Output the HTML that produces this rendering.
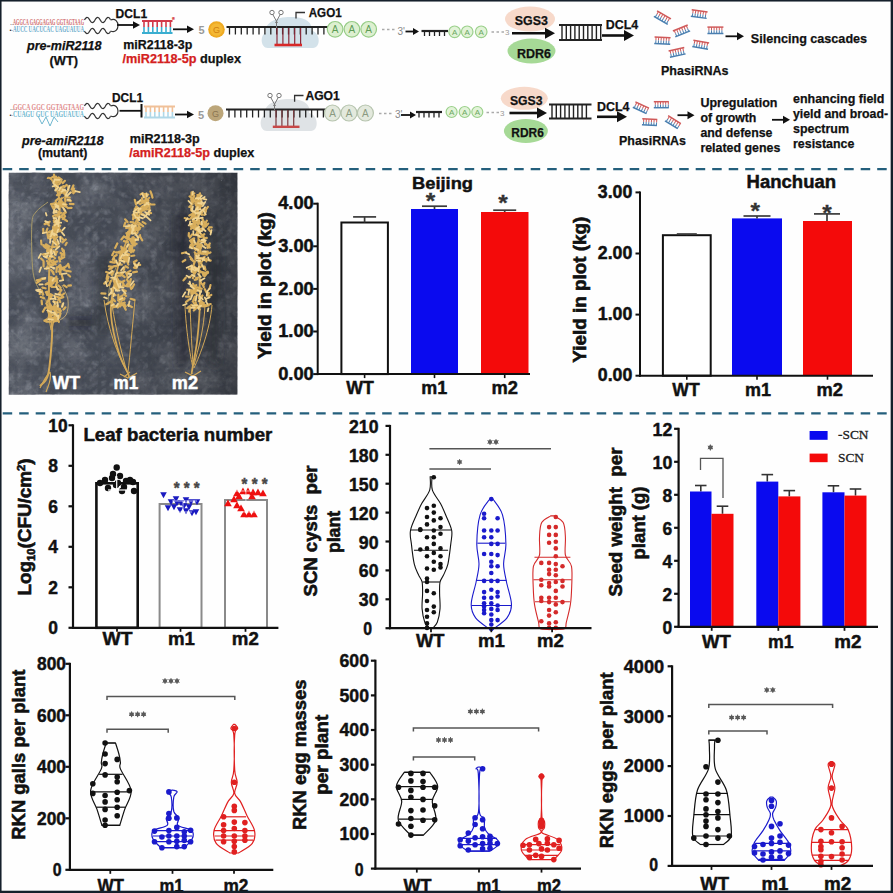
<!DOCTYPE html><html><head><meta charset="utf-8"><style>html,body{margin:0;padding:0;background:#fff;}svg{display:block;} text{font-family:"Liberation Sans", sans-serif;}</style></head><body>
<svg width="893" height="893" viewBox="0 0 893 893">
<rect x="0.0" y="0.0" width="893.0" height="893.0" fill="#fefefe" stroke="none" stroke-width="0"/>
<text x="10.0" y="24.5" font-size="7" font-weight="normal" font-style="normal" fill="#333" text-anchor="start">..</text>
<text x="13.0" y="24.5" font-size="8" font-weight="bold" font-style="normal" fill="#cf6a6a" text-anchor="start" style="font-family:'Liberation Serif'" textLength="71.0" lengthAdjust="spacingAndGlyphs">AGGCA GAGGAGAG GGTAGTAAG</text>
<text x="9.5" y="31.5" font-size="6" font-weight="normal" font-style="normal" fill="#333" text-anchor="start">•·</text>
<text x="13.0" y="31.5" font-size="8" font-weight="bold" font-style="normal" fill="#6aaccc" text-anchor="start" style="font-family:'Liberation Serif'" textLength="71.0" lengthAdjust="spacingAndGlyphs">AUCC UACUCAC UAGUAUUA</text>
<path d="M84.5,20.0 L85.0,19.2 L85.5,18.5 L86.0,18.0 L86.5,17.6 L87.0,17.4 L87.5,17.5 L88.0,17.7 L88.5,18.2 L89.0,18.9 L89.5,19.6 L90.0,20.4 L90.5,21.1 L91.0,21.8 L91.5,22.3 L92.0,22.5 L92.5,22.6 L93.0,22.4 L93.5,22.0 L94.0,21.5 L94.5,20.8 L95.0,20.0 L95.5,19.2 L96.0,18.5 L96.5,18.0 L97.0,17.6 L97.5,17.4 L98.0,17.5 L98.5,17.7 L99.0,18.2 L99.5,18.9 L100.0,19.6 L100.5,20.4 L101.0,21.1 L101.5,21.8 L102.0,22.3 L102.5,22.5 L103.0,22.6 L103.5,22.4 L104.0,22.0 L104.5,21.5 L105.0,20.8 L105.5,20.0 L106.0,19.2 L106.5,18.5 L107.0,18.0 L107.5,17.6 L108.0,17.4 L108.5,17.5 L109.0,17.7 L109.5,18.2 L110.0,18.9 L110.5,19.6" fill="none" stroke="#333" stroke-width="1.2"/>
<path d="M84.5,31.0 L85.0,31.8 L85.5,32.5 L86.0,33.0 L86.5,33.4 L87.0,33.6 L87.5,33.5 L88.0,33.3 L88.5,32.8 L89.0,32.1 L89.5,31.4 L90.0,30.6 L90.5,29.9 L91.0,29.2 L91.5,28.7 L92.0,28.5 L92.5,28.4 L93.0,28.6 L93.5,29.0 L94.0,29.5 L94.5,30.2 L95.0,31.0 L95.5,31.8 L96.0,32.5 L96.5,33.0 L97.0,33.4 L97.5,33.6 L98.0,33.5 L98.5,33.3 L99.0,32.8 L99.5,32.1 L100.0,31.4 L100.5,30.6 L101.0,29.9 L101.5,29.2 L102.0,28.7 L102.5,28.5 L103.0,28.4 L103.5,28.6 L104.0,29.0 L104.5,29.5 L105.0,30.2 L105.5,31.0 L106.0,31.8 L106.5,32.5 L107.0,33.0 L107.5,33.4 L108.0,33.6 L108.5,33.5 L109.0,33.3 L109.5,32.8 L110.0,32.1 L110.5,31.4" fill="none" stroke="#333" stroke-width="1.2"/>
<path d="M110.5,20.0 C120.5,16.0 120.5,35.0 110.5,31.0" fill="none" stroke="#333" stroke-width="1.2"/>
<text x="115.6" y="17.6" font-size="12" font-weight="bold" font-style="normal" fill="#111" text-anchor="start" textLength="31.5" lengthAdjust="spacingAndGlyphs" stroke="#111" stroke-width="0.25">DCL1</text>
<line x1="117.0" y1="25.0" x2="134.0" y2="25.0" stroke="#111" stroke-width="1.8"/>
<path d="M140.0,25.0 L133.0,21.2 L133.0,28.8Z" fill="#111"/>
<line x1="142.0" y1="21.0" x2="172.5" y2="21.0" stroke="#d23a4a" stroke-width="2.0"/>
<line x1="142.0" y1="33.0" x2="172.5" y2="33.0" stroke="#3aaed0" stroke-width="2.0"/>
<line x1="144.0" y1="21.0" x2="144.0" y2="27.0" stroke="#d23a4a" stroke-width="1.6"/>
<line x1="144.0" y1="27.0" x2="144.0" y2="33.0" stroke="#3aaed0" stroke-width="1.6"/>
<line x1="148.4" y1="21.0" x2="148.4" y2="27.0" stroke="#d23a4a" stroke-width="1.6"/>
<line x1="148.4" y1="27.0" x2="148.4" y2="33.0" stroke="#3aaed0" stroke-width="1.6"/>
<line x1="152.8" y1="21.0" x2="152.8" y2="27.0" stroke="#d23a4a" stroke-width="1.6"/>
<line x1="152.8" y1="27.0" x2="152.8" y2="33.0" stroke="#3aaed0" stroke-width="1.6"/>
<line x1="157.2" y1="21.0" x2="157.2" y2="27.0" stroke="#d23a4a" stroke-width="1.6"/>
<line x1="157.2" y1="27.0" x2="157.2" y2="33.0" stroke="#3aaed0" stroke-width="1.6"/>
<line x1="161.6" y1="21.0" x2="161.6" y2="27.0" stroke="#d23a4a" stroke-width="1.6"/>
<line x1="161.6" y1="27.0" x2="161.6" y2="33.0" stroke="#3aaed0" stroke-width="1.6"/>
<line x1="166.0" y1="21.0" x2="166.0" y2="27.0" stroke="#d23a4a" stroke-width="1.6"/>
<line x1="166.0" y1="27.0" x2="166.0" y2="33.0" stroke="#3aaed0" stroke-width="1.6"/>
<line x1="170.4" y1="21.0" x2="170.4" y2="27.0" stroke="#d23a4a" stroke-width="1.6"/>
<line x1="170.4" y1="27.0" x2="170.4" y2="33.0" stroke="#3aaed0" stroke-width="1.6"/>
<text x="172.0" y="22.0" font-size="7" font-weight="bold" font-style="normal" fill="#d84848" text-anchor="start" stroke="#d84848" stroke-width="0.25">*</text>
<line x1="173.0" y1="29.3" x2="188.0" y2="29.3" stroke="#111" stroke-width="1.8"/>
<path d="M194.0,29.3 L187.0,25.5 L187.0,33.1Z" fill="#111"/>
<text x="198.5" y="34.0" font-size="11" font-weight="bold" font-style="normal" fill="#9a9a9a" text-anchor="start">5</text>
<text x="27.0" y="49.8" font-size="12.5" font-weight="bold" font-style="italic" fill="#111" text-anchor="start" textLength="74.5" lengthAdjust="spacingAndGlyphs" stroke="#111" stroke-width="0.25">pre-miR2118</text>
<text x="49.5" y="64.5" font-size="13" font-weight="bold" font-style="normal" fill="#111" text-anchor="start" textLength="28.5" lengthAdjust="spacingAndGlyphs" stroke="#111" stroke-width="0.25">(WT)</text>
<text x="123.3" y="48.5" font-size="12.5" font-weight="bold" font-style="normal" fill="#111" text-anchor="start" textLength="69.0" lengthAdjust="spacingAndGlyphs" stroke="#111" stroke-width="0.25">miR2118-3p</text>
<text x="122.5" y="63.2" font-size="12.5" font-weight="bold" font-style="normal" fill="#111" text-anchor="start" textLength="118.5" lengthAdjust="spacingAndGlyphs" stroke="#111" stroke-width="0.25"><tspan fill="#d42020" stroke="#d42020">/miR2118-5p</tspan> duplex</text>
<circle cx="216.5" cy="29.5" r="8.30" fill="#eeaa22" stroke="none" stroke-width="0"/>
<circle cx="216.5" cy="29.5" r="6.30" fill="#f4b834" stroke="none" stroke-width="0"/>
<text x="216.5" y="32.8" font-size="9" font-weight="normal" font-style="normal" fill="#d08010" text-anchor="middle">G</text>
<path d="M268.0,48.0 C260.0,48.0 260.0,34.5 266.0,32.5 C264.0,23.0 276.0,17.0 290.5,17.0 C309.0,17.0 313.0,25.0 311.0,30.5 C321.0,32.5 321.0,48.0 313.0,48.0 Z" fill="#d3e2ea" stroke="none" stroke-width="0"/>
<line x1="226.5" y1="27.0" x2="330.0" y2="27.0" stroke="#222" stroke-width="2.2"/>
<line x1="229.5" y1="27.0" x2="229.5" y2="34.5" stroke="#222" stroke-width="1.3"/>
<line x1="235.4" y1="27.0" x2="235.4" y2="34.5" stroke="#222" stroke-width="1.3"/>
<line x1="241.3" y1="27.0" x2="241.3" y2="34.5" stroke="#222" stroke-width="1.3"/>
<line x1="247.2" y1="27.0" x2="247.2" y2="34.5" stroke="#222" stroke-width="1.3"/>
<line x1="253.1" y1="27.0" x2="253.1" y2="34.5" stroke="#222" stroke-width="1.3"/>
<line x1="259.0" y1="27.0" x2="259.0" y2="34.5" stroke="#222" stroke-width="1.3"/>
<line x1="264.9" y1="27.0" x2="264.9" y2="34.5" stroke="#222" stroke-width="1.3"/>
<line x1="270.8" y1="27.0" x2="270.8" y2="34.5" stroke="#222" stroke-width="1.3"/>
<line x1="276.7" y1="27.0" x2="276.7" y2="34.5" stroke="#222" stroke-width="1.3"/>
<line x1="282.6" y1="27.0" x2="282.6" y2="34.5" stroke="#222" stroke-width="1.3"/>
<line x1="288.5" y1="27.0" x2="288.5" y2="34.5" stroke="#222" stroke-width="1.3"/>
<line x1="294.4" y1="27.0" x2="294.4" y2="34.5" stroke="#222" stroke-width="1.3"/>
<line x1="300.3" y1="27.0" x2="300.3" y2="34.5" stroke="#222" stroke-width="1.3"/>
<line x1="306.2" y1="27.0" x2="306.2" y2="34.5" stroke="#222" stroke-width="1.3"/>
<line x1="312.1" y1="27.0" x2="312.1" y2="34.5" stroke="#222" stroke-width="1.3"/>
<line x1="318.0" y1="27.0" x2="318.0" y2="34.5" stroke="#222" stroke-width="1.3"/>
<line x1="323.9" y1="27.0" x2="323.9" y2="34.5" stroke="#222" stroke-width="1.3"/>
<line x1="329.8" y1="27.0" x2="329.8" y2="34.5" stroke="#222" stroke-width="1.3"/>
<line x1="277.0" y1="28.0" x2="277.0" y2="44.0" stroke="#8a2a3a" stroke-width="1.2"/>
<line x1="282.9" y1="28.0" x2="282.9" y2="44.0" stroke="#8a2a3a" stroke-width="1.2"/>
<line x1="288.8" y1="28.0" x2="288.8" y2="44.0" stroke="#8a2a3a" stroke-width="1.2"/>
<line x1="294.7" y1="28.0" x2="294.7" y2="44.0" stroke="#8a2a3a" stroke-width="1.2"/>
<line x1="300.6" y1="28.0" x2="300.6" y2="44.0" stroke="#8a2a3a" stroke-width="1.2"/>
<line x1="274.5" y1="45.0" x2="302.0" y2="45.0" stroke="#d82828" stroke-width="2.6"/>
<path d="M272.5,14.0 L277.5,23.0 M280.5,14.0 L275.5,23.0 M276.5,21.0 L276.5,28.0" fill="none" stroke="#777" stroke-width="1"/>
<circle cx="272.0" cy="12.5" r="2.20" fill="none" stroke="#777" stroke-width="1"/>
<circle cx="281.0" cy="12.5" r="2.20" fill="none" stroke="#777" stroke-width="1"/>
<path d="M296,18.5 L296,12.5 L305,12.5" fill="none" stroke="#333" stroke-width="1.3"/>
<text x="308.7" y="17.2" font-size="12" font-weight="bold" font-style="normal" fill="#111" text-anchor="start" textLength="33.0" lengthAdjust="spacingAndGlyphs" stroke="#111" stroke-width="0.25">AGO1</text>
<circle cx="335.1" cy="29.3" r="7.80" fill="#ddf0d0" stroke="#96cc86" stroke-width="1.2"/>
<text x="335.1" y="32.9" font-size="10" font-weight="normal" font-style="normal" fill="#5e9c56" text-anchor="middle">A</text>
<circle cx="351.9" cy="29.3" r="7.80" fill="#ddf0d0" stroke="#96cc86" stroke-width="1.2"/>
<text x="351.9" y="32.9" font-size="10" font-weight="normal" font-style="normal" fill="#5e9c56" text-anchor="middle">A</text>
<circle cx="368.7" cy="29.3" r="7.80" fill="#ddf0d0" stroke="#96cc86" stroke-width="1.2"/>
<text x="368.7" y="32.9" font-size="10" font-weight="normal" font-style="normal" fill="#5e9c56" text-anchor="middle">A</text>
<line x1="382.0" y1="29.5" x2="396.0" y2="29.5" stroke="#aaa" stroke-width="1.3" stroke-dasharray="2.5,2.5"/>
<text x="397.5" y="34.5" font-size="10" font-weight="normal" font-style="normal" fill="#888" text-anchor="start">3'</text>
<line x1="405.5" y1="31.5" x2="414.0" y2="31.5" stroke="#111" stroke-width="1.8"/>
<path d="M419.0,31.5 L413.0,28.0 L413.0,35.0Z" fill="#111"/>
<line x1="421.5" y1="31.0" x2="448.0" y2="31.0" stroke="#222" stroke-width="2.2"/>
<line x1="424.5" y1="31.0" x2="424.5" y2="36.0" stroke="#222" stroke-width="1.3"/>
<line x1="429.5" y1="31.0" x2="429.5" y2="36.0" stroke="#222" stroke-width="1.3"/>
<line x1="434.5" y1="31.0" x2="434.5" y2="36.0" stroke="#222" stroke-width="1.3"/>
<line x1="439.5" y1="31.0" x2="439.5" y2="36.0" stroke="#222" stroke-width="1.3"/>
<line x1="444.5" y1="31.0" x2="444.5" y2="36.0" stroke="#222" stroke-width="1.3"/>
<circle cx="454.6" cy="31.8" r="5.80" fill="#e2f3d8" stroke="#9bd08b" stroke-width="1.2"/>
<text x="454.6" y="34.7" font-size="8" font-weight="normal" font-style="normal" fill="#6aa860" text-anchor="middle">A</text>
<circle cx="467.2" cy="31.8" r="5.80" fill="#e2f3d8" stroke="#9bd08b" stroke-width="1.2"/>
<text x="467.2" y="34.7" font-size="8" font-weight="normal" font-style="normal" fill="#6aa860" text-anchor="middle">A</text>
<circle cx="481.2" cy="31.8" r="5.80" fill="#e2f3d8" stroke="#9bd08b" stroke-width="1.2"/>
<text x="481.2" y="34.7" font-size="8" font-weight="normal" font-style="normal" fill="#6aa860" text-anchor="middle">A</text>
<line x1="491.5" y1="32.0" x2="504.0" y2="32.0" stroke="#aaa" stroke-width="1.3" stroke-dasharray="2.5,2.5"/>
<text x="505.0" y="35.3" font-size="8" font-weight="normal" font-style="normal" fill="#999" text-anchor="start">3</text>
<ellipse cx="530" cy="19" rx="25" ry="12.5" fill="#f7d9ca"/>
<text x="514.8" y="24.5" font-size="12.5" font-weight="bold" font-style="normal" fill="#111" text-anchor="start" textLength="33.0" lengthAdjust="spacingAndGlyphs" stroke="#111" stroke-width="0.25">SGS3</text>
<ellipse cx="531.5" cy="51" rx="24" ry="12.5" fill="#a6d996"/>
<text x="517.0" y="57.5" font-size="12.5" font-weight="bold" font-style="normal" fill="#111" text-anchor="start" textLength="34.0" lengthAdjust="spacingAndGlyphs" stroke="#111" stroke-width="0.25">RDR6</text>
<line x1="512.0" y1="33.2" x2="546.0" y2="33.2" stroke="#111" stroke-width="2.6"/>
<path d="M555.0,33.2 L545.0,27.7 L545.0,38.7Z" fill="#111"/>
<line x1="559.0" y1="25.0" x2="602.0" y2="25.0" stroke="#222" stroke-width="2.2"/>
<line x1="559.0" y1="40.0" x2="602.0" y2="40.0" stroke="#222" stroke-width="2.2"/>
<line x1="562.0" y1="25.0" x2="562.0" y2="40.0" stroke="#222" stroke-width="1.4"/>
<line x1="566.3" y1="25.0" x2="566.3" y2="40.0" stroke="#222" stroke-width="1.4"/>
<line x1="570.6" y1="25.0" x2="570.6" y2="40.0" stroke="#222" stroke-width="1.4"/>
<line x1="574.9" y1="25.0" x2="574.9" y2="40.0" stroke="#222" stroke-width="1.4"/>
<line x1="579.2" y1="25.0" x2="579.2" y2="40.0" stroke="#222" stroke-width="1.4"/>
<line x1="583.5" y1="25.0" x2="583.5" y2="40.0" stroke="#222" stroke-width="1.4"/>
<line x1="587.8" y1="25.0" x2="587.8" y2="40.0" stroke="#222" stroke-width="1.4"/>
<line x1="592.1" y1="25.0" x2="592.1" y2="40.0" stroke="#222" stroke-width="1.4"/>
<line x1="596.4" y1="25.0" x2="596.4" y2="40.0" stroke="#222" stroke-width="1.4"/>
<line x1="600.7" y1="25.0" x2="600.7" y2="40.0" stroke="#222" stroke-width="1.4"/>
<text x="605.8" y="29.3" font-size="12.5" font-weight="bold" font-style="normal" fill="#111" text-anchor="start" textLength="32.5" lengthAdjust="spacingAndGlyphs" stroke="#111" stroke-width="0.25">DCL4</text>
<line x1="602.0" y1="35.5" x2="625.0" y2="35.5" stroke="#111" stroke-width="2.6"/>
<path d="M634.0,35.5 L624.0,30.0 L624.0,41.0Z" fill="#111"/>
<g transform="translate(662.4,17.7) rotate(30)">
<line x1="-8.0" y1="-3.2" x2="8.0" y2="-3.2" stroke="#d05a5a" stroke-width="1.5"/>
<line x1="-8.0" y1="3.2" x2="8.0" y2="3.2" stroke="#4a7fb0" stroke-width="1.5"/>
<line x1="-6.5" y1="-3.2" x2="-6.5" y2="0.0" stroke="#d05a5a" stroke-width="1"/>
<line x1="-6.5" y1="0.0" x2="-6.5" y2="3.2" stroke="#4a7fb0" stroke-width="1"/>
<line x1="-3.9" y1="-3.2" x2="-3.9" y2="0.0" stroke="#d05a5a" stroke-width="1"/>
<line x1="-3.9" y1="0.0" x2="-3.9" y2="3.2" stroke="#4a7fb0" stroke-width="1"/>
<line x1="-1.3" y1="-3.2" x2="-1.3" y2="0.0" stroke="#d05a5a" stroke-width="1"/>
<line x1="-1.3" y1="0.0" x2="-1.3" y2="3.2" stroke="#4a7fb0" stroke-width="1"/>
<line x1="1.3" y1="-3.2" x2="1.3" y2="0.0" stroke="#d05a5a" stroke-width="1"/>
<line x1="1.3" y1="0.0" x2="1.3" y2="3.2" stroke="#4a7fb0" stroke-width="1"/>
<line x1="3.9" y1="-3.2" x2="3.9" y2="0.0" stroke="#d05a5a" stroke-width="1"/>
<line x1="3.9" y1="0.0" x2="3.9" y2="3.2" stroke="#4a7fb0" stroke-width="1"/>
<line x1="6.5" y1="-3.2" x2="6.5" y2="0.0" stroke="#d05a5a" stroke-width="1"/>
<line x1="6.5" y1="0.0" x2="6.5" y2="3.2" stroke="#4a7fb0" stroke-width="1"/>
</g>
<g transform="translate(699.2,14.1) rotate(8)">
<line x1="-8.0" y1="-3.2" x2="8.0" y2="-3.2" stroke="#d05a5a" stroke-width="1.5"/>
<line x1="-8.0" y1="3.2" x2="8.0" y2="3.2" stroke="#4a7fb0" stroke-width="1.5"/>
<line x1="-6.5" y1="-3.2" x2="-6.5" y2="0.0" stroke="#d05a5a" stroke-width="1"/>
<line x1="-6.5" y1="0.0" x2="-6.5" y2="3.2" stroke="#4a7fb0" stroke-width="1"/>
<line x1="-3.9" y1="-3.2" x2="-3.9" y2="0.0" stroke="#d05a5a" stroke-width="1"/>
<line x1="-3.9" y1="0.0" x2="-3.9" y2="3.2" stroke="#4a7fb0" stroke-width="1"/>
<line x1="-1.3" y1="-3.2" x2="-1.3" y2="0.0" stroke="#d05a5a" stroke-width="1"/>
<line x1="-1.3" y1="0.0" x2="-1.3" y2="3.2" stroke="#4a7fb0" stroke-width="1"/>
<line x1="1.3" y1="-3.2" x2="1.3" y2="0.0" stroke="#d05a5a" stroke-width="1"/>
<line x1="1.3" y1="0.0" x2="1.3" y2="3.2" stroke="#4a7fb0" stroke-width="1"/>
<line x1="3.9" y1="-3.2" x2="3.9" y2="0.0" stroke="#d05a5a" stroke-width="1"/>
<line x1="3.9" y1="0.0" x2="3.9" y2="3.2" stroke="#4a7fb0" stroke-width="1"/>
<line x1="6.5" y1="-3.2" x2="6.5" y2="0.0" stroke="#d05a5a" stroke-width="1"/>
<line x1="6.5" y1="0.0" x2="6.5" y2="3.2" stroke="#4a7fb0" stroke-width="1"/>
</g>
<g transform="translate(681.5,30.9) rotate(-22)">
<line x1="-8.0" y1="-3.2" x2="8.0" y2="-3.2" stroke="#d05a5a" stroke-width="1.5"/>
<line x1="-8.0" y1="3.2" x2="8.0" y2="3.2" stroke="#4a7fb0" stroke-width="1.5"/>
<line x1="-6.5" y1="-3.2" x2="-6.5" y2="0.0" stroke="#d05a5a" stroke-width="1"/>
<line x1="-6.5" y1="0.0" x2="-6.5" y2="3.2" stroke="#4a7fb0" stroke-width="1"/>
<line x1="-3.9" y1="-3.2" x2="-3.9" y2="0.0" stroke="#d05a5a" stroke-width="1"/>
<line x1="-3.9" y1="0.0" x2="-3.9" y2="3.2" stroke="#4a7fb0" stroke-width="1"/>
<line x1="-1.3" y1="-3.2" x2="-1.3" y2="0.0" stroke="#d05a5a" stroke-width="1"/>
<line x1="-1.3" y1="0.0" x2="-1.3" y2="3.2" stroke="#4a7fb0" stroke-width="1"/>
<line x1="1.3" y1="-3.2" x2="1.3" y2="0.0" stroke="#d05a5a" stroke-width="1"/>
<line x1="1.3" y1="0.0" x2="1.3" y2="3.2" stroke="#4a7fb0" stroke-width="1"/>
<line x1="3.9" y1="-3.2" x2="3.9" y2="0.0" stroke="#d05a5a" stroke-width="1"/>
<line x1="3.9" y1="0.0" x2="3.9" y2="3.2" stroke="#4a7fb0" stroke-width="1"/>
<line x1="6.5" y1="-3.2" x2="6.5" y2="0.0" stroke="#d05a5a" stroke-width="1"/>
<line x1="6.5" y1="0.0" x2="6.5" y2="3.2" stroke="#4a7fb0" stroke-width="1"/>
</g>
<g transform="translate(715.4,30.3) rotate(0)">
<line x1="-8.0" y1="-3.2" x2="8.0" y2="-3.2" stroke="#d05a5a" stroke-width="1.5"/>
<line x1="-8.0" y1="3.2" x2="8.0" y2="3.2" stroke="#4a7fb0" stroke-width="1.5"/>
<line x1="-6.5" y1="-3.2" x2="-6.5" y2="0.0" stroke="#d05a5a" stroke-width="1"/>
<line x1="-6.5" y1="0.0" x2="-6.5" y2="3.2" stroke="#4a7fb0" stroke-width="1"/>
<line x1="-3.9" y1="-3.2" x2="-3.9" y2="0.0" stroke="#d05a5a" stroke-width="1"/>
<line x1="-3.9" y1="0.0" x2="-3.9" y2="3.2" stroke="#4a7fb0" stroke-width="1"/>
<line x1="-1.3" y1="-3.2" x2="-1.3" y2="0.0" stroke="#d05a5a" stroke-width="1"/>
<line x1="-1.3" y1="0.0" x2="-1.3" y2="3.2" stroke="#4a7fb0" stroke-width="1"/>
<line x1="1.3" y1="-3.2" x2="1.3" y2="0.0" stroke="#d05a5a" stroke-width="1"/>
<line x1="1.3" y1="0.0" x2="1.3" y2="3.2" stroke="#4a7fb0" stroke-width="1"/>
<line x1="3.9" y1="-3.2" x2="3.9" y2="0.0" stroke="#d05a5a" stroke-width="1"/>
<line x1="3.9" y1="0.0" x2="3.9" y2="3.2" stroke="#4a7fb0" stroke-width="1"/>
<line x1="6.5" y1="-3.2" x2="6.5" y2="0.0" stroke="#d05a5a" stroke-width="1"/>
<line x1="6.5" y1="0.0" x2="6.5" y2="3.2" stroke="#4a7fb0" stroke-width="1"/>
</g>
<g transform="translate(662.4,40.6) rotate(3)">
<line x1="-8.0" y1="-3.2" x2="8.0" y2="-3.2" stroke="#d05a5a" stroke-width="1.5"/>
<line x1="-8.0" y1="3.2" x2="8.0" y2="3.2" stroke="#4a7fb0" stroke-width="1.5"/>
<line x1="-6.5" y1="-3.2" x2="-6.5" y2="0.0" stroke="#d05a5a" stroke-width="1"/>
<line x1="-6.5" y1="0.0" x2="-6.5" y2="3.2" stroke="#4a7fb0" stroke-width="1"/>
<line x1="-3.9" y1="-3.2" x2="-3.9" y2="0.0" stroke="#d05a5a" stroke-width="1"/>
<line x1="-3.9" y1="0.0" x2="-3.9" y2="3.2" stroke="#4a7fb0" stroke-width="1"/>
<line x1="-1.3" y1="-3.2" x2="-1.3" y2="0.0" stroke="#d05a5a" stroke-width="1"/>
<line x1="-1.3" y1="0.0" x2="-1.3" y2="3.2" stroke="#4a7fb0" stroke-width="1"/>
<line x1="1.3" y1="-3.2" x2="1.3" y2="0.0" stroke="#d05a5a" stroke-width="1"/>
<line x1="1.3" y1="0.0" x2="1.3" y2="3.2" stroke="#4a7fb0" stroke-width="1"/>
<line x1="3.9" y1="-3.2" x2="3.9" y2="0.0" stroke="#d05a5a" stroke-width="1"/>
<line x1="3.9" y1="0.0" x2="3.9" y2="3.2" stroke="#4a7fb0" stroke-width="1"/>
<line x1="6.5" y1="-3.2" x2="6.5" y2="0.0" stroke="#d05a5a" stroke-width="1"/>
<line x1="6.5" y1="0.0" x2="6.5" y2="3.2" stroke="#4a7fb0" stroke-width="1"/>
</g>
<g transform="translate(700.7,44.8) rotate(10)">
<line x1="-8.0" y1="-3.2" x2="8.0" y2="-3.2" stroke="#d05a5a" stroke-width="1.5"/>
<line x1="-8.0" y1="3.2" x2="8.0" y2="3.2" stroke="#4a7fb0" stroke-width="1.5"/>
<line x1="-6.5" y1="-3.2" x2="-6.5" y2="0.0" stroke="#d05a5a" stroke-width="1"/>
<line x1="-6.5" y1="0.0" x2="-6.5" y2="3.2" stroke="#4a7fb0" stroke-width="1"/>
<line x1="-3.9" y1="-3.2" x2="-3.9" y2="0.0" stroke="#d05a5a" stroke-width="1"/>
<line x1="-3.9" y1="0.0" x2="-3.9" y2="3.2" stroke="#4a7fb0" stroke-width="1"/>
<line x1="-1.3" y1="-3.2" x2="-1.3" y2="0.0" stroke="#d05a5a" stroke-width="1"/>
<line x1="-1.3" y1="0.0" x2="-1.3" y2="3.2" stroke="#4a7fb0" stroke-width="1"/>
<line x1="1.3" y1="-3.2" x2="1.3" y2="0.0" stroke="#d05a5a" stroke-width="1"/>
<line x1="1.3" y1="0.0" x2="1.3" y2="3.2" stroke="#4a7fb0" stroke-width="1"/>
<line x1="3.9" y1="-3.2" x2="3.9" y2="0.0" stroke="#d05a5a" stroke-width="1"/>
<line x1="3.9" y1="0.0" x2="3.9" y2="3.2" stroke="#4a7fb0" stroke-width="1"/>
<line x1="6.5" y1="-3.2" x2="6.5" y2="0.0" stroke="#d05a5a" stroke-width="1"/>
<line x1="6.5" y1="0.0" x2="6.5" y2="3.2" stroke="#4a7fb0" stroke-width="1"/>
</g>
<g transform="translate(677.1,52.4) rotate(-12)">
<line x1="-8.0" y1="-3.2" x2="8.0" y2="-3.2" stroke="#d05a5a" stroke-width="1.5"/>
<line x1="-8.0" y1="3.2" x2="8.0" y2="3.2" stroke="#4a7fb0" stroke-width="1.5"/>
<line x1="-6.5" y1="-3.2" x2="-6.5" y2="0.0" stroke="#d05a5a" stroke-width="1"/>
<line x1="-6.5" y1="0.0" x2="-6.5" y2="3.2" stroke="#4a7fb0" stroke-width="1"/>
<line x1="-3.9" y1="-3.2" x2="-3.9" y2="0.0" stroke="#d05a5a" stroke-width="1"/>
<line x1="-3.9" y1="0.0" x2="-3.9" y2="3.2" stroke="#4a7fb0" stroke-width="1"/>
<line x1="-1.3" y1="-3.2" x2="-1.3" y2="0.0" stroke="#d05a5a" stroke-width="1"/>
<line x1="-1.3" y1="0.0" x2="-1.3" y2="3.2" stroke="#4a7fb0" stroke-width="1"/>
<line x1="1.3" y1="-3.2" x2="1.3" y2="0.0" stroke="#d05a5a" stroke-width="1"/>
<line x1="1.3" y1="0.0" x2="1.3" y2="3.2" stroke="#4a7fb0" stroke-width="1"/>
<line x1="3.9" y1="-3.2" x2="3.9" y2="0.0" stroke="#d05a5a" stroke-width="1"/>
<line x1="3.9" y1="0.0" x2="3.9" y2="3.2" stroke="#4a7fb0" stroke-width="1"/>
<line x1="6.5" y1="-3.2" x2="6.5" y2="0.0" stroke="#d05a5a" stroke-width="1"/>
<line x1="6.5" y1="0.0" x2="6.5" y2="3.2" stroke="#4a7fb0" stroke-width="1"/>
</g>
<text x="661.0" y="74.8" font-size="12.5" font-weight="bold" font-style="normal" fill="#111" text-anchor="start" textLength="67.5" lengthAdjust="spacingAndGlyphs" stroke="#111" stroke-width="0.25">PhasiRNAs</text>
<line x1="725.5" y1="36.3" x2="738.0" y2="36.3" stroke="#111" stroke-width="1.8"/>
<path d="M744.0,36.3 L737.0,32.3 L737.0,40.3Z" fill="#111"/>
<text x="750.8" y="43.2" font-size="13" font-weight="bold" font-style="normal" fill="#111" text-anchor="start" textLength="116.3" lengthAdjust="spacingAndGlyphs" stroke="#111" stroke-width="0.25">Silencing cascades</text>
<text x="10.0" y="109.5" font-size="7" font-weight="normal" font-style="normal" fill="#333" text-anchor="start">..</text>
<text x="13.0" y="109.5" font-size="8" font-weight="bold" font-style="normal" fill="#e08a8a" text-anchor="start" style="font-family:'Liberation Serif'" textLength="71.0" lengthAdjust="spacingAndGlyphs">GGCA  GGC    GGTAGTAAG</text>
<text x="9.5" y="116.5" font-size="6" font-weight="normal" font-style="normal" fill="#333" text-anchor="start">•·</text>
<text x="13.0" y="116.5" font-size="8" font-weight="bold" font-style="normal" fill="#70b8d0" text-anchor="start" style="font-family:'Liberation Serif'" textLength="71.0" lengthAdjust="spacingAndGlyphs">CUAGU  GUC   UAGUAUUA</text>
<path d="M38,116 L42,124 L46,117 L50,126 L54,117 L58,122" fill="none" stroke="#70b8d0" stroke-width="1"/>
<path d="M84.5,106.0 L85.0,105.2 L85.5,104.5 L86.0,104.0 L86.5,103.6 L87.0,103.4 L87.5,103.5 L88.0,103.7 L88.5,104.2 L89.0,104.9 L89.5,105.6 L90.0,106.4 L90.5,107.1 L91.0,107.8 L91.5,108.3 L92.0,108.5 L92.5,108.6 L93.0,108.4 L93.5,108.0 L94.0,107.5 L94.5,106.8 L95.0,106.0 L95.5,105.2 L96.0,104.5 L96.5,104.0 L97.0,103.6 L97.5,103.4 L98.0,103.5 L98.5,103.7 L99.0,104.2 L99.5,104.9 L100.0,105.6 L100.5,106.4 L101.0,107.1 L101.5,107.8 L102.0,108.3 L102.5,108.5 L103.0,108.6 L103.5,108.4 L104.0,108.0 L104.5,107.5 L105.0,106.8 L105.5,106.0 L106.0,105.2 L106.5,104.5 L107.0,104.0 L107.5,103.6 L108.0,103.4 L108.5,103.5 L109.0,103.7 L109.5,104.2 L110.0,104.9 L110.5,105.6" fill="none" stroke="#333" stroke-width="1.2"/>
<path d="M84.5,116.0 L85.0,116.8 L85.5,117.5 L86.0,118.0 L86.5,118.4 L87.0,118.6 L87.5,118.5 L88.0,118.3 L88.5,117.8 L89.0,117.1 L89.5,116.4 L90.0,115.6 L90.5,114.9 L91.0,114.2 L91.5,113.7 L92.0,113.5 L92.5,113.4 L93.0,113.6 L93.5,114.0 L94.0,114.5 L94.5,115.2 L95.0,116.0 L95.5,116.8 L96.0,117.5 L96.5,118.0 L97.0,118.4 L97.5,118.6 L98.0,118.5 L98.5,118.3 L99.0,117.8 L99.5,117.1 L100.0,116.4 L100.5,115.6 L101.0,114.9 L101.5,114.2 L102.0,113.7 L102.5,113.5 L103.0,113.4 L103.5,113.6 L104.0,114.0 L104.5,114.5 L105.0,115.2 L105.5,116.0 L106.0,116.8 L106.5,117.5 L107.0,118.0 L107.5,118.4 L108.0,118.6 L108.5,118.5 L109.0,118.3 L109.5,117.8 L110.0,117.1 L110.5,116.4" fill="none" stroke="#333" stroke-width="1.2"/>
<path d="M110.5,106.0 C120.5,102.0 120.5,120.0 110.5,116.0" fill="none" stroke="#333" stroke-width="1.2"/>
<text x="112.0" y="101.8" font-size="12" font-weight="bold" font-style="normal" fill="#111" text-anchor="start" textLength="31.0" lengthAdjust="spacingAndGlyphs" stroke="#111" stroke-width="0.25">DCL1</text>
<line x1="119.5" y1="110.8" x2="141.0" y2="110.8" stroke="#111" stroke-width="1.8"/>
<line x1="141.5" y1="104.0" x2="141.5" y2="117.5" stroke="#111" stroke-width="2"/>
<line x1="144.0" y1="106.5" x2="175.0" y2="106.5" stroke="#f0c098" stroke-width="2.0"/>
<line x1="144.0" y1="117.5" x2="175.0" y2="117.5" stroke="#b0d8e8" stroke-width="2.0"/>
<line x1="146.0" y1="106.5" x2="146.0" y2="112.0" stroke="#f0c098" stroke-width="1.6"/>
<line x1="146.0" y1="112.0" x2="146.0" y2="117.5" stroke="#b0d8e8" stroke-width="1.6"/>
<line x1="150.4" y1="106.5" x2="150.4" y2="112.0" stroke="#f0c098" stroke-width="1.6"/>
<line x1="150.4" y1="112.0" x2="150.4" y2="117.5" stroke="#b0d8e8" stroke-width="1.6"/>
<line x1="154.8" y1="106.5" x2="154.8" y2="112.0" stroke="#f0c098" stroke-width="1.6"/>
<line x1="154.8" y1="112.0" x2="154.8" y2="117.5" stroke="#b0d8e8" stroke-width="1.6"/>
<line x1="159.2" y1="106.5" x2="159.2" y2="112.0" stroke="#f0c098" stroke-width="1.6"/>
<line x1="159.2" y1="112.0" x2="159.2" y2="117.5" stroke="#b0d8e8" stroke-width="1.6"/>
<line x1="163.6" y1="106.5" x2="163.6" y2="112.0" stroke="#f0c098" stroke-width="1.6"/>
<line x1="163.6" y1="112.0" x2="163.6" y2="117.5" stroke="#b0d8e8" stroke-width="1.6"/>
<line x1="168.0" y1="106.5" x2="168.0" y2="112.0" stroke="#f0c098" stroke-width="1.6"/>
<line x1="168.0" y1="112.0" x2="168.0" y2="117.5" stroke="#b0d8e8" stroke-width="1.6"/>
<line x1="172.4" y1="106.5" x2="172.4" y2="112.0" stroke="#f0c098" stroke-width="1.6"/>
<line x1="172.4" y1="112.0" x2="172.4" y2="117.5" stroke="#b0d8e8" stroke-width="1.6"/>
<line x1="175.0" y1="114.5" x2="188.0" y2="114.5" stroke="#111" stroke-width="1.8"/>
<path d="M194.0,114.5 L187.0,110.7 L187.0,118.3Z" fill="#111"/>
<text x="198.0" y="118.5" font-size="11" font-weight="bold" font-style="normal" fill="#9a9a9a" text-anchor="start">5</text>
<text x="22.0" y="145.0" font-size="12.5" font-weight="bold" font-style="italic" fill="#111" text-anchor="start" textLength="81.5" lengthAdjust="spacingAndGlyphs" stroke="#111" stroke-width="0.25">pre-amiR2118</text>
<text x="38.0" y="157.3" font-size="12.5" font-weight="bold" font-style="normal" fill="#111" text-anchor="start" textLength="49.5" lengthAdjust="spacingAndGlyphs" stroke="#111" stroke-width="0.25">(mutant)</text>
<text x="129.8" y="142.6" font-size="12.5" font-weight="bold" font-style="normal" fill="#111" text-anchor="start" textLength="70.0" lengthAdjust="spacingAndGlyphs" stroke="#111" stroke-width="0.25">miR2118-3p</text>
<text x="129.3" y="156.9" font-size="12.5" font-weight="bold" font-style="normal" fill="#111" text-anchor="start" textLength="125.0" lengthAdjust="spacingAndGlyphs" stroke="#111" stroke-width="0.25"><tspan fill="#d42020" stroke="#d42020">/amiR2118-5p</tspan> duplex</text>
<circle cx="215.5" cy="113.2" r="8.00" fill="#bca67a" stroke="none" stroke-width="0"/>
<text x="215.5" y="116.5" font-size="9" font-weight="normal" font-style="normal" fill="#8a7450" text-anchor="middle">G</text>
<path d="M267.0,131.0 C259.0,131.0 259.0,117.0 265.0,115.0 C263.0,105.0 275.0,99.0 289.0,99.0 C307.0,99.0 311.0,107.0 309.0,113.0 C319.0,115.0 319.0,131.0 311.0,131.0 Z" fill="#dfe3e6" stroke="none" stroke-width="0"/>
<line x1="226.0" y1="109.5" x2="326.0" y2="109.5" stroke="#222" stroke-width="2.2"/>
<line x1="229.0" y1="109.5" x2="229.0" y2="117.5" stroke="#222" stroke-width="1.3"/>
<line x1="234.9" y1="109.5" x2="234.9" y2="117.5" stroke="#222" stroke-width="1.3"/>
<line x1="240.8" y1="109.5" x2="240.8" y2="117.5" stroke="#222" stroke-width="1.3"/>
<line x1="246.7" y1="109.5" x2="246.7" y2="117.5" stroke="#222" stroke-width="1.3"/>
<line x1="252.6" y1="109.5" x2="252.6" y2="117.5" stroke="#222" stroke-width="1.3"/>
<line x1="258.5" y1="109.5" x2="258.5" y2="117.5" stroke="#222" stroke-width="1.3"/>
<line x1="264.4" y1="109.5" x2="264.4" y2="117.5" stroke="#222" stroke-width="1.3"/>
<line x1="270.3" y1="109.5" x2="270.3" y2="117.5" stroke="#222" stroke-width="1.3"/>
<line x1="276.2" y1="109.5" x2="276.2" y2="117.5" stroke="#222" stroke-width="1.3"/>
<line x1="282.1" y1="109.5" x2="282.1" y2="117.5" stroke="#222" stroke-width="1.3"/>
<line x1="288.0" y1="109.5" x2="288.0" y2="117.5" stroke="#222" stroke-width="1.3"/>
<line x1="293.9" y1="109.5" x2="293.9" y2="117.5" stroke="#222" stroke-width="1.3"/>
<line x1="299.8" y1="109.5" x2="299.8" y2="117.5" stroke="#222" stroke-width="1.3"/>
<line x1="305.7" y1="109.5" x2="305.7" y2="117.5" stroke="#222" stroke-width="1.3"/>
<line x1="311.6" y1="109.5" x2="311.6" y2="117.5" stroke="#222" stroke-width="1.3"/>
<line x1="317.5" y1="109.5" x2="317.5" y2="117.5" stroke="#222" stroke-width="1.3"/>
<line x1="323.4" y1="109.5" x2="323.4" y2="117.5" stroke="#222" stroke-width="1.3"/>
<line x1="276.0" y1="110.0" x2="276.0" y2="126.0" stroke="#7a3a40" stroke-width="1.2"/>
<line x1="281.9" y1="110.0" x2="281.9" y2="126.0" stroke="#7a3a40" stroke-width="1.2"/>
<line x1="287.8" y1="110.0" x2="287.8" y2="126.0" stroke="#7a3a40" stroke-width="1.2"/>
<line x1="293.7" y1="110.0" x2="293.7" y2="126.0" stroke="#7a3a40" stroke-width="1.2"/>
<line x1="272.8" y1="126.8" x2="299.5" y2="126.8" stroke="#c84848" stroke-width="2.4"/>
<path d="M270.5,97.0 L275.5,106.0 M278.5,97.0 L273.5,106.0 M274.5,104.0 L274.5,111.0" fill="none" stroke="#777" stroke-width="1"/>
<circle cx="270.0" cy="95.5" r="2.20" fill="none" stroke="#777" stroke-width="1"/>
<circle cx="279.0" cy="95.5" r="2.20" fill="none" stroke="#777" stroke-width="1"/>
<path d="M294.6,101.8 L294.6,95.5 L303.5,95.5" fill="none" stroke="#333" stroke-width="1.3"/>
<text x="305.4" y="100.0" font-size="12" font-weight="bold" font-style="normal" fill="#111" text-anchor="start" textLength="34.3" lengthAdjust="spacingAndGlyphs" stroke="#111" stroke-width="0.25">AGO1</text>
<circle cx="332.5" cy="113.0" r="8.00" fill="#e3e9dd" stroke="#b6c4ae" stroke-width="1.2"/>
<text x="332.5" y="116.6" font-size="10" font-weight="normal" font-style="normal" fill="#8a9a80" text-anchor="middle">A</text>
<circle cx="349.0" cy="113.0" r="8.00" fill="#e3e9dd" stroke="#b6c4ae" stroke-width="1.2"/>
<text x="349.0" y="116.6" font-size="10" font-weight="normal" font-style="normal" fill="#8a9a80" text-anchor="middle">A</text>
<circle cx="365.4" cy="113.0" r="8.00" fill="#e3e9dd" stroke="#b6c4ae" stroke-width="1.2"/>
<text x="365.4" y="116.6" font-size="10" font-weight="normal" font-style="normal" fill="#8a9a80" text-anchor="middle">A</text>
<line x1="379.0" y1="113.5" x2="394.0" y2="113.5" stroke="#aaa" stroke-width="1.3" stroke-dasharray="2.5,2.5"/>
<text x="395.0" y="118.0" font-size="10" font-weight="normal" font-style="normal" fill="#888" text-anchor="start">3'</text>
<line x1="401.0" y1="115.0" x2="411.0" y2="115.0" stroke="#111" stroke-width="1.8"/>
<path d="M416.0,115.0 L410.0,111.5 L410.0,118.5Z" fill="#111"/>
<line x1="416.0" y1="112.0" x2="442.0" y2="112.0" stroke="#222" stroke-width="2.2"/>
<line x1="419.0" y1="112.0" x2="419.0" y2="117.5" stroke="#222" stroke-width="1.3"/>
<line x1="424.0" y1="112.0" x2="424.0" y2="117.5" stroke="#222" stroke-width="1.3"/>
<line x1="429.0" y1="112.0" x2="429.0" y2="117.5" stroke="#222" stroke-width="1.3"/>
<line x1="434.0" y1="112.0" x2="434.0" y2="117.5" stroke="#222" stroke-width="1.3"/>
<line x1="439.0" y1="112.0" x2="439.0" y2="117.5" stroke="#222" stroke-width="1.3"/>
<circle cx="451.6" cy="112.0" r="5.50" fill="#e2f3d8" stroke="#9bd08b" stroke-width="1.2"/>
<text x="451.6" y="114.9" font-size="8" font-weight="normal" font-style="normal" fill="#6aa860" text-anchor="middle">A</text>
<circle cx="464.7" cy="112.0" r="5.50" fill="#e2f3d8" stroke="#9bd08b" stroke-width="1.2"/>
<text x="464.7" y="114.9" font-size="8" font-weight="normal" font-style="normal" fill="#6aa860" text-anchor="middle">A</text>
<circle cx="477.3" cy="112.0" r="5.50" fill="#e2f3d8" stroke="#9bd08b" stroke-width="1.2"/>
<text x="477.3" y="114.9" font-size="8" font-weight="normal" font-style="normal" fill="#6aa860" text-anchor="middle">A</text>
<line x1="486.5" y1="112.5" x2="499.0" y2="112.5" stroke="#aaa" stroke-width="1.3" stroke-dasharray="2.5,2.5"/>
<text x="500.0" y="116.0" font-size="8" font-weight="normal" font-style="normal" fill="#999" text-anchor="start">3</text>
<ellipse cx="524.3" cy="98.3" rx="23.5" ry="11.5" fill="#f7d9ca"/>
<text x="510.0" y="104.5" font-size="12.5" font-weight="bold" font-style="normal" fill="#111" text-anchor="start" textLength="32.5" lengthAdjust="spacingAndGlyphs" stroke="#111" stroke-width="0.25">SGS3</text>
<ellipse cx="525.9" cy="131" rx="22" ry="12" fill="#a6d996"/>
<text x="511.3" y="137.0" font-size="12.5" font-weight="bold" font-style="normal" fill="#111" text-anchor="start" textLength="32.5" lengthAdjust="spacingAndGlyphs" stroke="#111" stroke-width="0.25">RDR6</text>
<line x1="509.5" y1="113.0" x2="538.0" y2="113.0" stroke="#111" stroke-width="2.6"/>
<path d="M547.0,113.0 L537.0,107.5 L537.0,118.5Z" fill="#111"/>
<line x1="549.0" y1="104.5" x2="591.5" y2="104.5" stroke="#222" stroke-width="2.2"/>
<line x1="549.0" y1="118.5" x2="591.5" y2="118.5" stroke="#222" stroke-width="2.2"/>
<line x1="552.0" y1="104.5" x2="552.0" y2="118.5" stroke="#222" stroke-width="1.4"/>
<line x1="556.3" y1="104.5" x2="556.3" y2="118.5" stroke="#222" stroke-width="1.4"/>
<line x1="560.6" y1="104.5" x2="560.6" y2="118.5" stroke="#222" stroke-width="1.4"/>
<line x1="564.9" y1="104.5" x2="564.9" y2="118.5" stroke="#222" stroke-width="1.4"/>
<line x1="569.2" y1="104.5" x2="569.2" y2="118.5" stroke="#222" stroke-width="1.4"/>
<line x1="573.5" y1="104.5" x2="573.5" y2="118.5" stroke="#222" stroke-width="1.4"/>
<line x1="577.8" y1="104.5" x2="577.8" y2="118.5" stroke="#222" stroke-width="1.4"/>
<line x1="582.1" y1="104.5" x2="582.1" y2="118.5" stroke="#222" stroke-width="1.4"/>
<line x1="586.4" y1="104.5" x2="586.4" y2="118.5" stroke="#222" stroke-width="1.4"/>
<text x="597.0" y="111.3" font-size="12.5" font-weight="bold" font-style="normal" fill="#111" text-anchor="start" textLength="32.5" lengthAdjust="spacingAndGlyphs" stroke="#111" stroke-width="0.25">DCL4</text>
<line x1="597.0" y1="116.8" x2="618.0" y2="116.8" stroke="#111" stroke-width="2.6"/>
<path d="M627.0,116.8 L617.0,111.3 L617.0,122.3Z" fill="#111"/>
<g transform="translate(640.9,107.7) rotate(25)">
<line x1="-7.5" y1="-3.0" x2="7.5" y2="-3.0" stroke="#d05a5a" stroke-width="1.5"/>
<line x1="-7.5" y1="3.0" x2="7.5" y2="3.0" stroke="#4a7fb0" stroke-width="1.5"/>
<line x1="-6.0" y1="-3.0" x2="-6.0" y2="0.0" stroke="#d05a5a" stroke-width="1"/>
<line x1="-6.0" y1="0.0" x2="-6.0" y2="3.0" stroke="#4a7fb0" stroke-width="1"/>
<line x1="-3.4" y1="-3.0" x2="-3.4" y2="0.0" stroke="#d05a5a" stroke-width="1"/>
<line x1="-3.4" y1="0.0" x2="-3.4" y2="3.0" stroke="#4a7fb0" stroke-width="1"/>
<line x1="-0.8" y1="-3.0" x2="-0.8" y2="0.0" stroke="#d05a5a" stroke-width="1"/>
<line x1="-0.8" y1="0.0" x2="-0.8" y2="3.0" stroke="#4a7fb0" stroke-width="1"/>
<line x1="1.8" y1="-3.0" x2="1.8" y2="0.0" stroke="#d05a5a" stroke-width="1"/>
<line x1="1.8" y1="0.0" x2="1.8" y2="3.0" stroke="#4a7fb0" stroke-width="1"/>
<line x1="4.4" y1="-3.0" x2="4.4" y2="0.0" stroke="#d05a5a" stroke-width="1"/>
<line x1="4.4" y1="0.0" x2="4.4" y2="3.0" stroke="#4a7fb0" stroke-width="1"/>
<line x1="7.0" y1="-3.0" x2="7.0" y2="0.0" stroke="#d05a5a" stroke-width="1"/>
<line x1="7.0" y1="0.0" x2="7.0" y2="3.0" stroke="#4a7fb0" stroke-width="1"/>
</g>
<g transform="translate(661.3,104.7) rotate(0)">
<line x1="-7.5" y1="-3.0" x2="7.5" y2="-3.0" stroke="#d05a5a" stroke-width="1.5"/>
<line x1="-7.5" y1="3.0" x2="7.5" y2="3.0" stroke="#4a7fb0" stroke-width="1.5"/>
<line x1="-6.0" y1="-3.0" x2="-6.0" y2="0.0" stroke="#d05a5a" stroke-width="1"/>
<line x1="-6.0" y1="0.0" x2="-6.0" y2="3.0" stroke="#4a7fb0" stroke-width="1"/>
<line x1="-3.4" y1="-3.0" x2="-3.4" y2="0.0" stroke="#d05a5a" stroke-width="1"/>
<line x1="-3.4" y1="0.0" x2="-3.4" y2="3.0" stroke="#4a7fb0" stroke-width="1"/>
<line x1="-0.8" y1="-3.0" x2="-0.8" y2="0.0" stroke="#d05a5a" stroke-width="1"/>
<line x1="-0.8" y1="0.0" x2="-0.8" y2="3.0" stroke="#4a7fb0" stroke-width="1"/>
<line x1="1.8" y1="-3.0" x2="1.8" y2="0.0" stroke="#d05a5a" stroke-width="1"/>
<line x1="1.8" y1="0.0" x2="1.8" y2="3.0" stroke="#4a7fb0" stroke-width="1"/>
<line x1="4.4" y1="-3.0" x2="4.4" y2="0.0" stroke="#d05a5a" stroke-width="1"/>
<line x1="4.4" y1="0.0" x2="4.4" y2="3.0" stroke="#4a7fb0" stroke-width="1"/>
<line x1="7.0" y1="-3.0" x2="7.0" y2="0.0" stroke="#d05a5a" stroke-width="1"/>
<line x1="7.0" y1="0.0" x2="7.0" y2="3.0" stroke="#4a7fb0" stroke-width="1"/>
</g>
<g transform="translate(649.6,122.2) rotate(3)">
<line x1="-7.5" y1="-3.0" x2="7.5" y2="-3.0" stroke="#d05a5a" stroke-width="1.5"/>
<line x1="-7.5" y1="3.0" x2="7.5" y2="3.0" stroke="#4a7fb0" stroke-width="1.5"/>
<line x1="-6.0" y1="-3.0" x2="-6.0" y2="0.0" stroke="#d05a5a" stroke-width="1"/>
<line x1="-6.0" y1="0.0" x2="-6.0" y2="3.0" stroke="#4a7fb0" stroke-width="1"/>
<line x1="-3.4" y1="-3.0" x2="-3.4" y2="0.0" stroke="#d05a5a" stroke-width="1"/>
<line x1="-3.4" y1="0.0" x2="-3.4" y2="3.0" stroke="#4a7fb0" stroke-width="1"/>
<line x1="-0.8" y1="-3.0" x2="-0.8" y2="0.0" stroke="#d05a5a" stroke-width="1"/>
<line x1="-0.8" y1="0.0" x2="-0.8" y2="3.0" stroke="#4a7fb0" stroke-width="1"/>
<line x1="1.8" y1="-3.0" x2="1.8" y2="0.0" stroke="#d05a5a" stroke-width="1"/>
<line x1="1.8" y1="0.0" x2="1.8" y2="3.0" stroke="#4a7fb0" stroke-width="1"/>
<line x1="4.4" y1="-3.0" x2="4.4" y2="0.0" stroke="#d05a5a" stroke-width="1"/>
<line x1="4.4" y1="0.0" x2="4.4" y2="3.0" stroke="#4a7fb0" stroke-width="1"/>
<line x1="7.0" y1="-3.0" x2="7.0" y2="0.0" stroke="#d05a5a" stroke-width="1"/>
<line x1="7.0" y1="0.0" x2="7.0" y2="3.0" stroke="#4a7fb0" stroke-width="1"/>
</g>
<g transform="translate(672.9,122.2) rotate(32)">
<line x1="-7.5" y1="-3.0" x2="7.5" y2="-3.0" stroke="#d05a5a" stroke-width="1.5"/>
<line x1="-7.5" y1="3.0" x2="7.5" y2="3.0" stroke="#4a7fb0" stroke-width="1.5"/>
<line x1="-6.0" y1="-3.0" x2="-6.0" y2="0.0" stroke="#d05a5a" stroke-width="1"/>
<line x1="-6.0" y1="0.0" x2="-6.0" y2="3.0" stroke="#4a7fb0" stroke-width="1"/>
<line x1="-3.4" y1="-3.0" x2="-3.4" y2="0.0" stroke="#d05a5a" stroke-width="1"/>
<line x1="-3.4" y1="0.0" x2="-3.4" y2="3.0" stroke="#4a7fb0" stroke-width="1"/>
<line x1="-0.8" y1="-3.0" x2="-0.8" y2="0.0" stroke="#d05a5a" stroke-width="1"/>
<line x1="-0.8" y1="0.0" x2="-0.8" y2="3.0" stroke="#4a7fb0" stroke-width="1"/>
<line x1="1.8" y1="-3.0" x2="1.8" y2="0.0" stroke="#d05a5a" stroke-width="1"/>
<line x1="1.8" y1="0.0" x2="1.8" y2="3.0" stroke="#4a7fb0" stroke-width="1"/>
<line x1="4.4" y1="-3.0" x2="4.4" y2="0.0" stroke="#d05a5a" stroke-width="1"/>
<line x1="4.4" y1="0.0" x2="4.4" y2="3.0" stroke="#4a7fb0" stroke-width="1"/>
<line x1="7.0" y1="-3.0" x2="7.0" y2="0.0" stroke="#d05a5a" stroke-width="1"/>
<line x1="7.0" y1="0.0" x2="7.0" y2="3.0" stroke="#4a7fb0" stroke-width="1"/>
</g>
<text x="619.0" y="144.7" font-size="12.5" font-weight="bold" font-style="normal" fill="#111" text-anchor="start" textLength="67.0" lengthAdjust="spacingAndGlyphs" stroke="#111" stroke-width="0.25">PhasiRNAs</text>
<line x1="677.5" y1="115.2" x2="688.5" y2="115.2" stroke="#111" stroke-width="1.8"/>
<path d="M694.5,115.2 L687.5,111.2 L687.5,119.2Z" fill="#111"/>
<text x="700.4" y="106.6" font-size="12.5" font-weight="bold" font-style="normal" fill="#111" text-anchor="start" textLength="77.0" lengthAdjust="spacingAndGlyphs" stroke="#111" stroke-width="0.25">Upregulation</text>
<text x="700.4" y="121.7" font-size="12.5" font-weight="bold" font-style="normal" fill="#111" text-anchor="start" textLength="56.0" lengthAdjust="spacingAndGlyphs" stroke="#111" stroke-width="0.25">of growth</text>
<text x="700.4" y="136.8" font-size="12.5" font-weight="bold" font-style="normal" fill="#111" text-anchor="start" textLength="72.0" lengthAdjust="spacingAndGlyphs" stroke="#111" stroke-width="0.25">and defense</text>
<text x="700.4" y="151.9" font-size="12.5" font-weight="bold" font-style="normal" fill="#111" text-anchor="start" textLength="80.0" lengthAdjust="spacingAndGlyphs" stroke="#111" stroke-width="0.25">related genes</text>
<line x1="772.0" y1="119.8" x2="784.0" y2="119.8" stroke="#111" stroke-width="1.8"/>
<path d="M790.0,119.8 L783.0,115.8 L783.0,123.8Z" fill="#111"/>
<text x="793.0" y="102.8" font-size="12.5" font-weight="bold" font-style="normal" fill="#111" text-anchor="start" textLength="91.4" lengthAdjust="spacingAndGlyphs" stroke="#111" stroke-width="0.25">enhancing field</text>
<text x="793.0" y="117.7" font-size="12.5" font-weight="bold" font-style="normal" fill="#111" text-anchor="start" textLength="95.0" lengthAdjust="spacingAndGlyphs" stroke="#111" stroke-width="0.25">yield and broad-</text>
<text x="793.0" y="132.6" font-size="12.5" font-weight="bold" font-style="normal" fill="#111" text-anchor="start" textLength="56.0" lengthAdjust="spacingAndGlyphs" stroke="#111" stroke-width="0.25">spectrum</text>
<text x="793.0" y="147.5" font-size="12.5" font-weight="bold" font-style="normal" fill="#111" text-anchor="start" textLength="61.4" lengthAdjust="spacingAndGlyphs" stroke="#111" stroke-width="0.25">resistance</text>
<line x1="2.7" y1="169.1" x2="891.0" y2="169.1" stroke="#245f7c" stroke-width="2.4" stroke-dasharray="9.5,7"/>
<line x1="2.7" y1="413.4" x2="891.0" y2="413.4" stroke="#245f7c" stroke-width="2.4" stroke-dasharray="9.5,7"/>
<defs><filter id="tex" x="0" y="0" width="100%" height="100%"><feTurbulence type="fractalNoise" baseFrequency="0.03" numOctaves="4" seed="7"/><feColorMatrix type="matrix" values="0 0 0 0 0.13  0 0 0 0 0.14  0 0 0 0 0.17  0 0 0 -3.4 1.6"/></filter><filter id="tex2" x="0" y="0" width="100%" height="100%"><feTurbulence type="fractalNoise" baseFrequency="0.025" numOctaves="4" seed="21"/><feColorMatrix type="matrix" values="0 0 0 0 0.52  0 0 0 0 0.54  0 0 0 0 0.58  0 0 0 2.6 -1.05"/></filter><filter id="tex3" x="0" y="0" width="100%" height="100%"><feTurbulence type="turbulence" baseFrequency="0.16" numOctaves="2" seed="5"/><feColorMatrix type="matrix" values="0 0 0 0 0.05  0 0 0 0 0.06  0 0 0 0 0.09  1.6 0 0 0 -0.25"/></filter><filter id="tex4" x="0" y="0" width="100%" height="100%"><feTurbulence type="turbulence" baseFrequency="0.12" numOctaves="2" seed="9"/><feColorMatrix type="matrix" values="0 0 0 0 0.62  0 0 0 0 0.65  0 0 0 0 0.72  1.4 0 0 0 -0.3"/></filter><filter id="blur1"><feGaussianBlur stdDeviation="5"/></filter><clipPath id="pc"><rect x="8.6" y="172.6" width="229" height="222.1"/></clipPath></defs>
<g clip-path="url(#pc)">
<rect x="8.6" y="172.6" width="229.0" height="222.1" fill="#4a4f59" stroke="none" stroke-width="0"/>
<rect x="8.6" y="172.6" width="229.0" height="222.1" fill="#000" stroke="none" stroke-width="0" filter="url(#tex2)" opacity="0.3"/>
<rect x="8.6" y="172.6" width="229.0" height="222.1" fill="#000" stroke="none" stroke-width="0" filter="url(#tex)" opacity="0.9"/>
<rect x="8.6" y="172.6" width="229.0" height="222.1" fill="#000" stroke="none" stroke-width="0" filter="url(#tex4)" opacity="0.35"/>
<rect x="8.6" y="172.6" width="229.0" height="222.1" fill="#000" stroke="none" stroke-width="0" filter="url(#tex3)" opacity="0.5"/>
<defs><linearGradient id="pg" x1="0" x2="1" y1="0" y2="0"><stop offset="0" stop-color="#000" stop-opacity="0"/><stop offset="0.45" stop-color="#000" stop-opacity="0.05"/><stop offset="1" stop-color="#000" stop-opacity="0.3"/></linearGradient></defs>
<rect x="8.6" y="172.6" width="229.0" height="222.1" fill="url(#pg)" stroke="none" stroke-width="0"/>
<g filter="url(#blur1)" opacity="0.55">
<path d="M175,215 L188,212 L190,360 L178,372 Z" fill="#1c1f25"/>
<path d="M210,230 L220,235 L218,370 L208,360 Z" fill="#23262c"/>
<path d="M66,319 L92,319 L92,327 L66,327 Z" fill="#0f1114"/>
<path d="M100,260 L112,250 L108,330 L98,330 Z" fill="#2a2d33"/>
</g>
<path d="M40.0,386.0 C41.3,384.2 46.0,382.7 48.0,375.0 C50.0,367.3 51.2,348.8 51.8,340.0 C52.4,331.2 52.3,329.5 51.8,322.0 C51.3,314.5 49.2,306.2 49.0,295.0 C48.8,283.8 49.0,266.7 50.5,255.0 C52.0,243.3 56.5,234.2 58.0,225.0 C59.5,215.8 60.5,207.5 59.5,200.0 C58.5,192.5 54.1,183.7 52.0,180.0 C49.9,176.3 47.8,178.3 47.0,178.0" fill="none" stroke="#d2a858" stroke-width="2.0"/>
<path d="M48.0,202.0 C46.0,203.7 38.7,208.2 36.0,212.0 C33.3,215.8 32.3,215.0 31.8,225.0 C31.3,235.0 31.6,260.8 33.0,272.0 C34.5,283.2 38.3,287.3 40.5,292.0 C42.7,296.7 45.1,298.7 46.0,300.0" fill="none" stroke="#a89a68" stroke-width="1.0"/>
<path d="M62.0,285.0 C63.0,287.5 67.3,295.0 68.0,300.0 C68.7,305.0 68.0,311.3 66.0,315.0 C64.0,318.7 57.7,320.8 56.0,322.0" fill="none" stroke="#b8a070" stroke-width="1.0"/>
<path d="M59.5,200.0 C60.6,199.3 63.4,197.7 66.0,196.0 C68.6,194.3 73.5,191.0 75.0,190.0" fill="none" stroke="#d2a858" stroke-width="1.4"/>
<path d="M46,300 L51,330 M58,300 L52,330" fill="none" stroke="#d2a858" stroke-width="1.0"/>
<path d="M41.1,240.7 L41.5,244.5 M55.7,201.7 L55.6,205.8 M56.0,319.2 L51.9,319.6 M56.5,179.6 L56.9,183.2 M49.8,250.7 L48.0,253.9 M50.8,321.6 L46.2,321.7 M54.0,222.2 L58.3,223.2 M58.5,297.5 L60.2,302.0 M54.0,174.6 L54.5,179.5 M73.4,185.5 L71.6,189.6 M50.7,257.0 L48.8,259.2 M65.0,192.4 L65.7,195.4 M55.0,317.2 L52.1,318.3 M48.7,299.6 L47.5,302.1 M73.9,188.6 L73.1,191.6 M43.2,228.9 L43.4,232.9 M62.4,202.4 L66.6,204.6 M61.1,212.9 L58.2,213.5 M61.3,181.4 L59.4,183.9 M51.9,262.3 L53.7,264.7 M63.8,186.1 L60.2,187.9 M58.9,309.3 L60.9,310.8 M58.8,228.7 L54.1,230.3 M49.3,277.1 L51.8,277.4 M53.2,278.5 L50.7,278.8 M54.8,246.9 L52.1,246.9 M49.6,283.2 L45.5,284.5 M61.4,290.0 L58.8,294.0 M53.7,236.1 L50.0,238.9 M47.5,266.3 L46.6,268.9 M57.6,320.2 L53.6,321.8 M48.2,282.9 L45.8,284.2 M51.2,307.8 L48.1,308.9 M54.1,203.6 L55.1,208.0 M46.3,303.4 L47.8,305.8 M62.0,297.4 L58.2,299.4 M57.5,216.0 L59.5,218.3 M60.8,266.1 L60.8,269.4 M55.2,278.2 L54.5,281.3 M65.7,197.1 L69.7,197.7 M43.4,245.2 L45.6,246.6 M55.5,278.7 L57.5,282.4 M60.3,264.9 L57.8,267.3 M65.4,307.3 L63.5,309.5 M64.2,267.2 L60.9,268.2 M40.3,280.6 L36.9,282.8 M71.6,207.8 L67.8,208.1 M49.1,222.8 L44.6,224.1 M54.4,224.7 L57.8,226.4 M51.3,296.8 L48.5,300.8 M55.6,313.0 L55.4,316.2 M56.8,267.3 L56.4,271.9 M49.7,221.7 L46.8,222.7 M42.3,254.5 L47.2,254.9 M56.3,233.9 L53.1,236.2 M61.7,274.8 L63.0,279.5 M58.3,214.6 L58.5,217.4 M60.2,294.0 L61.8,296.5 M60.0,203.7 L61.8,206.6 M75.2,191.2 L73.3,193.3 M58.2,211.6 L58.9,215.0 M60.6,253.0 L63.2,254.5 M53.3,283.1 L49.3,285.7 M40.8,297.0 L44.1,298.3 M56.1,178.3 L59.5,180.8 M57.7,316.1 L55.0,318.7 M66.7,184.9 L64.2,187.1 M56.3,276.5 L56.9,280.8 M58.0,305.6 L54.3,307.4 M43.6,261.5 L43.6,266.4 M64.7,213.0 L61.3,215.9 M49.9,306.2 L45.9,307.8 M42.4,287.6 L45.6,288.3 M56.0,176.7 L57.8,180.4 M63.7,208.8 L65.8,212.5 M49.7,251.9 L51.4,256.6 M53.5,278.5 L57.5,278.8 M60.4,230.9 L56.7,232.0 M54.9,314.8 L53.8,319.7 M64.1,293.5 L62.2,295.3 M65.1,198.7 L65.4,201.6 M68.2,263.8 L69.2,267.5 M58.7,228.4 L61.3,231.6 M58.3,198.5 L55.8,200.9 M70.9,285.3 L68.3,285.7 M63.8,250.4 L64.3,255.3 M47.8,263.8 L51.6,265.2 M63.8,205.8 L67.1,207.2 M55.5,241.6 L58.2,244.5 M62.1,192.8 L57.9,194.2 M54.5,227.1 L53.7,231.0 M64.0,285.4 L66.6,287.1 M52.5,309.5 L55.6,310.1 M60.9,188.0 L59.5,191.1 M51.8,205.6 L53.9,209.5 M60.7,236.9 L63.8,240.2 M60.7,269.6 L60.0,273.9 M53.7,237.8 L54.8,240.3 M68.2,186.3 L68.4,190.5 M57.4,289.1 L60.3,289.8 M41.4,279.4 L36.7,280.3 M45.8,292.1 L47.7,294.8 M55.1,311.0 L56.5,314.1 M51.7,233.0 L52.7,235.8 M40.2,291.1 L39.7,294.0 M49.4,303.7 L51.1,305.7 M57.1,282.6 L55.9,285.2 M51.1,270.0 L53.3,272.2 M53.4,250.5 L55.8,254.8 M47.7,246.4 L47.2,250.7 M45.2,307.7 L42.9,311.7 M63.3,297.1 L58.7,298.7 M56.5,206.5 L53.9,206.8 M61.0,202.8 L63.4,204.7 M53.8,262.1 L55.7,264.4 M59.2,220.0 L58.5,224.4 M63.3,213.1 L65.1,216.5 M43.7,246.1 L45.7,247.8 M47.1,291.6 L46.9,294.8 M58.9,271.5 L60.8,273.2 M45.9,222.0 L49.1,225.4 M59.8,267.9 L59.5,270.8 M54.4,176.0 L50.5,178.4 M60.0,188.4 L63.5,189.5 M60.6,313.3 L59.3,317.8 M61.7,254.3 L61.5,257.2 M53.8,220.7 L55.9,223.7 M58.0,228.0 L56.5,230.3 M66.7,242.8 L65.5,245.1 M49.7,278.6 L52.6,281.3 M58.5,177.3 L61.7,179.7 M54.7,229.9 L54.3,233.1 M50.9,232.6 L54.4,235.1 M49.7,311.9 L48.9,316.1 M55.3,296.3 L59.3,297.5 M61.5,200.9 L62.9,205.3 M55.6,308.6 L56.4,312.3 M51.0,233.1 L48.1,237.1 M52.1,271.3 L53.8,274.2 M63.1,190.7 L64.5,194.2 M52.3,295.1 L48.8,298.2 M53.2,226.7 L53.2,229.5 M47.0,319.3 L44.4,320.8 M53.6,260.2 L50.3,261.0 M59.8,194.9 L57.0,195.1 M44.2,254.0 L47.5,257.6 M50.8,294.2 L49.9,296.9 M56.5,318.4 L58.9,321.8 M53.4,250.9 L56.1,253.8 M62.2,269.0 L66.6,271.1 M56.0,243.2 L57.1,247.1 M56.4,286.9 L51.8,287.0 M47.5,234.4 L48.3,238.2 M54.8,281.5 L50.7,282.9 M49.2,285.7 L52.0,286.3 M62.1,248.6 L62.9,251.1 M59.9,308.9 L55.7,309.4 M57.5,236.7 L54.8,239.5 M61.5,190.4 L59.2,192.1 M54.6,305.8 L51.7,307.8 M57.2,261.4 L54.1,262.4 M63.4,218.5 L67.1,221.1 M45.8,244.3 L49.8,246.7 M49.1,280.3 L51.7,284.2 M62.6,202.2 L59.9,204.3 M62.8,303.8 L62.0,306.7 M51.2,310.1 L50.1,312.6 M54.0,263.2 L51.7,264.7 M58.4,285.5 L60.7,287.7 M69.9,203.8 L73.5,204.2 M51.1,255.7 L49.0,259.6 M50.8,249.3 L47.1,251.3 M65.8,239.4 L62.4,242.3 M55.6,262.0 L53.1,265.1 M61.1,201.3 L61.2,204.9 M57.8,214.3 L55.7,215.9 M41.1,258.5 L43.2,260.5 M54.5,181.4 L56.8,184.8 M55.5,214.6 L53.0,216.2 M61.6,198.3 L59.0,202.1 M64.9,180.8 L62.8,183.1 M52.4,255.8 L55.0,258.3 M47.4,228.6 L46.5,231.0 M67.3,270.9 L70.6,271.5 M41.6,300.6 L42.0,304.1 M49.7,231.3 L47.4,233.2 M55.9,202.7 L58.4,204.5 M54.3,219.3 L55.1,224.2 M53.3,301.6 L57.4,302.6 M59.0,216.7 L62.0,216.9 M48.0,310.8 L49.9,314.8 M57.6,307.3 L58.5,309.8 M64.9,216.3 L62.7,219.0 M59.5,178.8 L57.9,182.4 M51.8,318.1 L48.9,318.8 M59.9,267.5 L60.8,270.0 M55.5,225.2 L56.2,228.0 M41.5,278.6 L45.0,278.8 M57.5,184.9 L58.2,187.4 M47.0,261.0 L48.8,262.9 M54.5,304.8 L53.9,307.8 M54.4,203.7 L51.0,204.2 M55.5,312.3 L52.4,315.0 M52.6,235.4 L48.6,237.8 M53.9,308.7 L56.7,309.1 M68.2,274.8 L70.1,276.5 M56.2,232.4 L54.5,235.8 M64.2,257.1 L59.9,259.6 M60.2,225.6 L57.6,228.9 M51.0,316.0 L48.5,317.5 M46.9,246.4 L49.6,249.9 M54.4,251.2 L57.1,251.8 M65.5,191.2 L66.2,195.5 M67.7,200.3 L70.8,200.8 M41.8,290.5 L43.2,294.5 M52.6,279.2 L49.2,282.4 M59.0,257.2 L60.0,261.4 M55.6,203.7 L59.5,203.9 M56.3,315.7 L57.4,319.7 M59.9,312.3 L57.3,312.4 M54.7,224.7 L58.5,225.0 M52.8,230.4 L50.0,231.9 M67.7,264.9 L64.0,268.2" fill="none" stroke="#d8ae5c" stroke-width="2.2" stroke-linecap="round"/>
<path d="M65.0,189.5 L61.5,191.8 M67.4,199.6 L70.3,200.1 M57.3,188.7 L55.3,190.6 M75.4,191.2 L79.8,192.1 M57.4,206.5 L59.1,209.3 M63.4,303.2 L62.3,306.6 M57.3,239.8 L58.9,243.4 M54.6,179.6 L53.4,183.1 M45.4,277.9 L42.4,278.6 M56.6,219.4 L55.0,221.9 M48.3,319.2 L52.9,319.6 M55.3,179.6 L59.8,179.9 M48.8,268.1 L44.7,268.6 M57.5,302.5 L57.9,306.6 M57.8,187.8 L55.1,190.2 M55.3,293.9 L59.7,294.8 M58.4,315.5 L58.1,319.4 M47.2,310.3 L51.3,312.0 M41.1,267.4 L39.5,271.8 M61.2,222.7 L56.4,222.7 M56.6,210.5 L54.6,212.9 M63.0,204.1 L65.7,204.7 M43.8,256.3 L46.5,257.7 M55.3,298.8 L50.4,298.9 M51.3,249.8 L52.2,253.7 M55.2,204.4 L58.5,206.2 M45.8,213.0 L46.6,215.5 M53.4,218.0 L56.5,218.2 M60.1,236.8 L60.5,241.7 M40.4,289.5 L36.1,290.1 M50.8,266.8 L54.4,268.0 M69.6,185.7 L67.9,189.8 M60.8,187.5 L58.9,190.2 M64.8,227.6 L62.5,230.2 M40.8,253.9 L38.7,257.9 M47.7,255.5 L45.6,257.1 M50.5,251.2 L51.4,254.7 M42.7,284.4 L39.3,284.5 M67.5,191.7 L65.5,195.6 M55.2,185.7 L52.7,186.4 M58.2,229.5 L57.2,232.2 M37.1,290.8 L41.5,292.1 M62.6,189.4 L65.9,190.7 M56.3,286.7 L58.1,289.7 M51.8,267.1 L54.0,268.7 M59.3,216.6 L58.2,221.1 M49.7,256.1 L52.2,256.7 M52.5,230.2 L51.2,234.5 M55.8,204.1 L57.2,207.8 M48.4,252.8 L45.3,253.8 M53.9,251.8 L54.9,254.8 M55.2,313.6 L57.1,316.2 M54.9,312.3 L51.2,312.6 M58.2,205.8 L55.7,206.8 M63.3,280.1 L59.8,280.8 M62.9,207.6 L65.4,211.1 M50.4,238.9 L50.0,242.8 M46.5,232.4 L42.8,233.2 M54.6,314.0 L58.1,316.0 M54.3,209.4 L53.4,213.0 M54.3,184.3 L58.1,187.4 M59.3,246.3 L55.6,249.7 M52.6,241.4 L56.1,244.6 M52.2,232.5 L54.3,235.4 M62.0,232.7 L64.3,235.3 M57.5,222.9 L54.6,225.4 M53.3,233.2 L56.8,235.0 M56.6,220.4 L57.5,224.2 M53.9,278.2 L52.5,280.7 M53.6,301.2 L55.0,303.9 M66.6,273.3 L62.0,274.0 M58.4,223.0 L58.5,226.2 M52.1,234.0 L50.5,236.7 M45.2,221.1 L47.9,222.4 M54.3,210.2 L56.7,212.5 M54.2,295.6 L55.8,299.4 M70.5,192.3 L67.2,196.0" fill="none" stroke="#f0d390" stroke-width="1.7600000000000002" stroke-linecap="round"/>
<path d="M40,388 C44,380 46,376 50,372 M50,372 C52,380 48,386 46,392" fill="none" stroke="#d2a858" stroke-width="1.2"/>
<path d="M129.0,377.0 C128.8,376.3 129.5,377.0 127.8,372.9 C126.1,368.8 121.5,361.9 118.7,352.3 C115.9,342.7 111.8,325.7 111.0,315.0 C110.2,304.3 111.9,297.9 113.6,287.9 C115.3,277.9 117.9,265.5 121.3,255.0 C124.7,244.5 129.5,234.7 134.2,225.0 C138.9,215.3 147.0,201.7 149.6,197.0" fill="none" stroke="#d2a858" stroke-width="1.8"/>
<path d="M104,300 C108,330 118,355 127,372 M135,300 C132,330 130,355 128,372 M112,305 C116,330 122,355 127,372" fill="none" stroke="#d2a858" stroke-width="1.0"/>
<path d="M118.0,262.0 C116.7,265.8 111.7,277.8 110.0,285.0 C108.3,292.2 108.3,301.7 108.0,305.0" fill="none" stroke="#a89a68" stroke-width="0.9"/>
<path d="M130.6,298.8 L134.4,299.9 M119.6,253.4 L122.4,254.6 M135.0,217.9 L139.1,219.0 M110.8,280.8 L109.0,285.3 M113.0,278.6 L114.6,282.2 M140.4,227.6 L137.9,230.7 M125.5,266.1 L127.9,267.7 M119.1,286.4 L121.6,287.2 M128.9,258.0 L126.1,259.8 M134.3,255.5 L131.4,256.0 M141.9,198.2 L142.6,200.7 M136.9,271.7 L133.1,272.3 M116.5,277.0 L118.8,281.3 M142.5,213.8 L146.4,216.6 M126.4,253.2 L127.6,257.8 M130.7,231.7 L126.4,233.2 M138.4,224.8 L139.7,229.1 M127.0,254.7 L125.7,257.8 M120.1,255.8 L119.4,259.4 M117.2,275.6 L120.6,275.6 M144.4,208.1 L142.8,210.5 M123.9,241.1 L128.0,242.1 M111.7,270.6 L111.4,273.9 M144.5,202.1 L140.2,203.8 M113.7,281.0 L115.7,283.7 M129.5,227.5 L126.2,228.0 M132.0,239.7 L131.5,242.8 M137.9,202.2 L140.3,204.2 M129.8,250.1 L133.4,251.5 M118.0,305.1 L115.3,306.9 M141.4,209.2 L139.1,210.5 M125.7,237.9 L130.3,239.1 M146.0,193.8 L143.6,196.6 M123.6,257.0 L120.2,260.0 M130.4,240.4 L132.6,243.8 M112.9,289.9 L110.9,293.7 M138.3,228.0 L133.7,229.7 M137.3,207.2 L135.1,208.5 M133.8,237.6 L134.8,242.0 M129.9,239.5 L132.3,241.8 M133.5,241.8 L132.4,246.6 M134.4,262.7 L135.3,266.6 M112.2,305.4 L116.7,306.3 M124.3,236.8 L126.8,237.2 M110.4,261.9 L114.3,262.7 M126.8,254.0 L127.0,256.8 M136.3,226.6 L134.7,230.6 M128.9,254.0 L125.8,254.2 M132.2,247.5 L131.6,251.9 M120.2,282.6 L117.1,286.4 M126.8,251.8 L122.7,251.9 M119.3,305.2 L123.8,305.2 M113.9,257.2 L112.7,259.8 M128.1,231.9 L127.1,235.5 M129.6,238.9 L131.8,242.4 M114.5,287.3 L118.1,290.1 M147.4,209.3 L143.4,209.6 M134.1,250.2 L131.0,252.4 M136.6,260.5 L133.8,262.0 M114.8,285.8 L111.7,289.5 M136.2,206.6 L139.2,208.8 M117.9,280.9 L120.8,281.8 M127.0,261.1 L122.6,261.2 M112.1,298.1 L115.0,301.3 M117.4,280.8 L118.2,284.4 M132.8,237.9 L131.1,240.9 M146.5,212.9 L151.1,213.2 M106.2,272.0 L110.3,273.4 M131.8,225.4 L131.4,229.2 M116.9,265.8 L113.4,266.4 M143.3,193.8 L146.9,194.7 M124.6,298.2 L121.4,300.8 M139.3,223.0 L143.0,226.2 M124.0,294.0 L126.0,295.9 M122.5,272.5 L118.3,272.9 M128.0,305.1 L131.9,307.0 M145.7,197.8 L146.7,202.4 M145.4,203.2 L143.7,206.1 M108.6,276.8 L106.9,281.1 M122.4,295.5 L120.1,297.8 M124.4,280.7 L120.4,282.9 M108.9,266.4 L112.6,266.9 M120.6,296.5 L124.2,299.6 M132.7,214.8 L137.4,215.3 M150.3,204.0 L147.0,207.1 M123.3,252.0 L126.8,254.1 M122.9,282.7 L123.8,285.0 M121.9,303.1 L119.3,304.3 M125.9,255.1 L129.3,255.1 M151.6,194.4 L152.5,197.6 M149.5,207.2 L149.2,210.9 M125.6,286.0 L128.2,286.4 M142.8,193.2 L140.6,194.4 M134.0,227.7 L133.3,230.2 M110.3,301.9 L106.3,304.2 M121.6,248.4 L125.9,249.6 M113.0,272.1 L111.8,275.1 M146.9,202.2 L146.8,205.2 M146.1,205.4 L149.2,205.9 M122.7,285.4 L126.9,286.2 M142.6,222.0 L145.5,223.6 M130.5,280.9 L127.2,284.5 M124.9,253.0 L126.5,256.3 M117.3,243.5 L115.2,247.9 M135.2,231.8 L131.0,232.3 M101.4,293.4 L105.4,293.6 M113.4,293.9 L115.6,295.2 M115.4,281.7 L116.5,284.5 M126.8,273.7 L127.6,277.6 M127.0,260.2 L128.3,264.5 M142.4,206.2 L140.6,208.2 M118.2,264.4 L121.8,264.7 M107.5,274.5 L106.6,278.9 M140.1,235.1 L137.5,238.7 M136.4,209.4 L138.5,211.2 M142.9,208.1 L144.0,210.4 M140.2,264.9 L135.8,264.9 M128.5,224.7 L131.3,225.8 M126.3,247.9 L124.6,250.8 M134.8,199.9 L136.1,204.5 M137.5,232.5 L135.4,234.9 M112.5,267.5 L109.2,269.3 M121.4,274.6 L124.7,277.0 M123.7,305.8 L125.8,309.7 M126.9,234.3 L128.3,237.6 M121.7,250.4 L125.3,252.4 M114.1,251.6 L112.2,255.2 M133.3,237.2 L134.2,241.2 M142.9,200.7 L146.3,201.3 M128.1,244.6 L130.6,246.4 M136.6,243.8 L132.7,245.2 M113.8,299.9 L110.5,301.8 M137.4,213.3 L135.1,215.1 M145.4,202.9 L149.0,203.4 M124.5,267.3 L123.7,270.3 M133.6,223.3 L136.7,223.7 M126.9,279.4 L129.4,283.7 M140.1,236.4 L142.2,240.3 M135.7,225.4 L136.7,230.0 M141.0,224.4 L138.5,225.0 M137.8,217.5 L137.7,221.8 M141.3,209.1 L138.9,209.9 M129.7,285.2 L131.3,289.0 M113.8,258.1 L115.5,262.4 M128.3,256.9 L125.1,258.1 M119.6,305.2 L117.7,307.5 M121.2,246.7 L124.3,250.4 M113.8,280.9 L116.5,285.1 M118.3,294.8 L118.3,298.9 M116.0,286.2 L119.0,287.1 M133.5,215.3 L133.1,219.4 M145.5,197.8 L147.5,199.7 M129.2,244.7 L126.8,246.4 M145.4,206.5 L144.0,209.1 M121.8,251.1 L118.7,252.0 M138.6,210.5 L140.3,212.7 M148.1,194.6 L145.2,196.1 M134.1,284.3 L132.2,288.0 M130.1,228.5 L132.9,231.0 M134.8,208.9 L134.4,213.0 M129.0,227.9 L132.0,229.6 M116.7,255.0 L114.2,256.5 M121.2,297.8 L118.1,300.4 M128.7,245.3 L132.7,246.1 M133.7,242.2 L134.8,245.4 M132.4,237.5 L135.7,239.3 M124.1,303.6 L125.7,306.3 M122.8,289.7 L125.8,291.0 M139.2,215.9 L136.7,216.3 M107.9,280.8 L104.3,283.5 M130.5,222.1 L133.4,222.4 M116.0,252.4 L120.8,252.7 M124.2,257.9 L124.3,262.7 M128.0,253.9 L124.6,256.0 M120.0,286.6 L117.5,289.0 M125.1,219.3 L127.6,222.0 M150.1,204.3 L154.5,204.5 M124.7,302.6 L121.4,304.2 M122.8,273.1 L118.9,273.2 M119.4,301.6 L120.2,306.4 M129.7,228.0 L129.4,230.9 M140.1,201.0 L144.4,201.5 M139.7,209.1 L141.2,213.6 M125.3,222.7 L124.0,226.1 M130.5,248.0 L129.3,250.2 M146.3,206.5 L144.2,209.5 M130.5,270.7 L126.3,273.3 M129.2,248.8 L133.3,251.5 M142.5,206.2 L144.2,209.3 M112.4,302.7 L113.7,307.3 M130.8,279.1 L129.7,283.2 M124.0,236.3 L121.5,239.4 M129.5,247.5 L129.4,250.9 M145.1,200.0 L148.4,200.9 M133.3,238.5 L129.2,239.7 M134.0,267.6 L136.4,268.2 M131.1,230.0 L128.8,234.4 M122.2,252.3 L120.6,254.5 M150.5,191.3 L152.1,195.6" fill="none" stroke="#d8ae5c" stroke-width="2.2" stroke-linecap="round"/>
<path d="M127.4,250.7 L125.1,253.2 M132.1,224.6 L131.6,227.7 M133.6,281.3 L130.8,285.0 M139.2,217.2 L142.8,218.4 M112.8,271.0 L109.3,273.1 M113.8,287.3 L117.3,290.8 M122.3,290.0 L125.5,293.4 M139.1,212.3 L134.3,212.7 M119.8,260.3 L124.2,261.7 M131.1,275.0 L128.3,277.6 M118.0,303.7 L116.4,306.5 M129.5,301.4 L128.5,306.0 M125.1,271.9 L121.0,272.6 M122.3,298.2 L120.0,299.6 M147.2,214.1 L144.3,217.3 M119.4,286.9 L123.5,287.7 M114.1,293.3 L113.6,296.3 M136.1,209.3 L133.5,211.8 M139.0,262.8 L137.0,267.2 M116.2,260.4 L117.2,263.6 M115.6,274.9 L114.3,279.4 M135.9,234.3 L138.3,238.0 M137.5,217.7 L139.3,220.1 M145.1,212.0 L149.1,214.7 M134.1,263.6 L137.1,267.0 M146.5,203.0 L148.7,204.6 M147.0,217.1 L150.5,220.4 M111.8,291.1 L109.1,295.0 M148.3,202.6 L144.4,205.3 M150.3,210.3 L148.6,212.2 M129.3,257.7 L128.5,262.0 M120.1,283.5 L120.7,287.3 M133.6,213.7 L135.9,217.3 M132.7,228.7 L131.7,233.5 M133.4,226.0 L133.6,230.5 M138.3,239.9 L135.4,240.0 M128.2,273.8 L131.4,274.0 M142.1,193.5 L143.9,197.5 M135.5,225.5 L133.5,227.3 M113.9,304.2 L111.6,305.5 M105.6,281.7 L107.2,286.2 M146.6,193.5 L146.9,196.7 M126.4,254.7 L121.6,255.8 M111.1,288.6 L111.8,293.2 M137.9,208.3 L140.7,208.9 M116.1,279.0 L116.9,282.0 M122.8,254.5 L120.3,258.2 M114.9,277.4 L111.1,277.6 M119.6,290.5 L115.6,290.7 M130.0,225.8 L125.3,226.3 M141.7,214.6 L144.1,215.3 M140.4,200.0 L137.3,203.1 M120.3,263.0 L118.5,265.1 M123.5,267.3 L121.1,270.3 M128.4,244.2 L127.0,246.8 M117.5,272.5 L115.4,274.3 M117.5,283.4 L119.2,287.7 M138.7,208.5 L138.6,211.7 M125.2,254.6 L127.8,255.2 M135.1,233.2 L132.0,233.9 M104.2,297.3 L106.9,298.4" fill="none" stroke="#f0d390" stroke-width="1.7600000000000002" stroke-linecap="round"/>
<path d="M120,374 L128,378 L137,373 M124,377 L130,372" fill="none" stroke="#d2a858" stroke-width="1.2"/>
<path d="M192.0,374.0 C192.0,373.4 191.2,376.1 192.1,370.3 C193.0,364.5 196.0,351.0 197.3,339.4 C198.6,327.8 199.7,315.8 199.9,300.8 C200.1,285.8 199.0,267.1 198.6,249.3 C198.2,231.5 197.5,203.2 197.3,194.0" fill="none" stroke="#d2a858" stroke-width="1.8"/>
<path d="M185,305 C186,330 190,355 193,368 M212,305 C210,330 200,355 194,368 M190,305 C191,330 192,350 193,365 M205,305 C204,330 198,350 194,365" fill="none" stroke="#d2a858" stroke-width="1.0"/>
<path d="M207.8,271.7 L203.8,273.9 M192.8,270.9 L194.4,274.9 M198.0,200.0 L195.3,203.6 M204.5,266.5 L203.9,269.0 M194.4,292.3 L197.7,295.0 M186.0,252.2 L182.0,253.3 M193.9,275.7 L192.9,278.1 M198.0,250.8 L200.8,253.5 M190.9,259.1 L194.3,261.8 M197.7,253.6 L195.3,254.2 M199.2,305.8 L203.7,306.4 M192.9,291.2 L191.3,293.7 M203.1,226.8 L203.0,229.3 M197.1,243.1 L199.3,246.9 M208.6,305.5 L204.1,306.4 M191.2,199.0 L191.9,203.0 M198.2,196.2 L195.0,199.9 M198.8,201.6 L196.2,204.9 M195.7,302.2 L195.9,305.0 M194.0,235.0 L198.3,235.1 M196.9,221.0 L195.5,223.3 M210.5,285.1 L209.6,288.6 M195.2,267.3 L192.4,267.5 M199.7,244.4 L196.6,246.9 M203.4,221.4 L206.1,224.0 M193.1,283.8 L194.6,288.2 M188.9,268.8 L193.3,269.7 M193.7,216.8 L193.7,221.6 M195.5,255.8 L195.5,259.4 M208.8,293.0 L207.6,295.3 M187.2,289.6 L190.9,290.1 M194.4,221.7 L193.0,224.3 M193.6,245.1 L189.9,247.5 M206.9,220.6 L204.8,224.5 M195.6,299.0 L192.7,301.5 M202.5,295.5 L200.8,297.7 M191.6,192.3 L191.5,195.2 M198.9,298.1 L202.0,302.0 M205.8,211.6 L204.2,214.9 M200.3,244.3 L199.4,246.9 M202.0,258.2 L199.7,260.0 M199.7,205.3 L197.9,207.3 M196.5,226.5 L193.7,226.7 M206.2,258.9 L206.4,261.5 M201.3,200.9 L197.6,203.2 M194.8,225.0 L194.0,228.6 M196.3,307.9 L193.8,310.5 M201.8,241.5 L204.5,242.5 M199.0,260.6 L201.4,264.0 M204.4,282.9 L203.3,285.6 M195.5,223.9 L196.2,228.4 M194.7,226.2 L191.0,228.8 M196.7,221.2 L192.6,221.2 M198.9,220.1 L200.2,223.8 M203.2,257.9 L198.5,259.4 M200.3,233.2 L202.4,235.5 M196.6,221.8 L198.3,224.0 M196.2,304.4 L196.0,307.7 M202.2,265.8 L198.2,268.3 M192.1,234.5 L189.7,237.7 M197.7,230.5 L197.8,234.0 M193.8,303.1 L197.1,306.7 M194.1,290.3 L190.5,291.7 M207.8,251.5 L204.4,251.7 M200.3,206.5 L198.7,209.5 M194.7,252.3 L196.9,256.2 M193.7,265.6 L191.1,266.6 M192.6,204.0 L189.4,206.9 M206.1,244.0 L209.7,247.5 M188.9,233.0 L188.7,235.9 M198.6,215.5 L195.5,217.3 M192.7,215.5 L190.7,218.6 M210.5,252.4 L207.0,253.8 M197.6,212.2 L197.9,214.9 M196.7,268.2 L193.2,270.1 M197.5,209.3 L197.1,212.7 M194.6,292.0 L191.6,295.1 M203.8,302.8 L201.6,306.1 M190.6,223.8 L191.3,227.1 M196.2,204.9 L200.1,208.0 M194.4,212.6 L194.8,217.2 M200.0,193.3 L197.7,197.7 M202.6,272.2 L203.5,275.7 M198.0,268.9 L200.4,272.0 M200.0,279.6 L201.2,283.5 M194.6,229.3 L197.8,230.4 M202.2,261.5 L198.6,262.3 M199.6,253.2 L203.5,253.9 M202.9,258.5 L205.7,260.2 M197.6,230.9 L196.3,234.6 M208.2,228.8 L211.0,232.1 M209.4,245.2 L207.7,247.9 M198.9,200.8 L199.2,205.4 M192.5,211.5 L196.0,212.6 M211.3,295.0 L208.6,296.2 M203.1,209.8 L205.9,210.9 M194.8,261.6 L193.8,264.3 M203.5,304.1 L206.5,305.7 M194.1,238.3 L190.0,240.6 M189.7,299.2 L185.9,302.1 M199.3,203.7 L198.9,207.4 M197.2,279.2 L194.7,279.9 M194.8,296.6 L193.4,300.1 M185.7,277.7 L183.5,280.4 M202.7,209.6 L201.4,214.3 M193.7,287.2 L194.0,291.7 M196.9,206.4 L196.1,209.3 M193.0,247.2 L195.7,249.9 M193.4,289.7 L198.1,290.1 M196.8,290.9 L193.6,292.6 M201.9,245.0 L200.6,248.9 M198.1,226.9 L199.8,229.0 M191.3,206.4 L191.2,210.5 M200.5,206.7 L198.4,209.6 M204.7,289.1 L206.4,292.3 M192.0,223.8 L192.6,227.3 M185.3,260.0 L182.7,261.6 M199.3,213.3 L202.0,214.8 M189.7,296.6 L185.8,296.6 M208.2,223.6 L205.5,226.7 M206.2,259.2 L210.6,260.6 M199.4,204.6 L195.9,205.2 M193.2,213.6 L189.3,215.5 M199.2,239.7 L198.0,242.5 M203.9,272.7 L208.1,272.8 M189.9,306.9 L189.2,311.6 M210.7,304.0 L207.3,304.9 M204.6,241.1 L205.1,244.7 M204.8,266.9 L205.5,270.0 M193.5,201.4 L197.1,202.3 M189.4,306.4 L187.2,308.1 M197.1,305.8 L193.6,307.8 M191.0,276.1 L188.9,277.4 M201.2,224.2 L205.8,226.2 M193.7,218.7 L192.5,221.2 M191.3,304.8 L194.0,307.9 M201.0,229.5 L197.4,230.0 M203.7,253.2 L206.9,254.8 M199.0,297.5 L201.8,297.7 M194.3,268.6 L192.2,271.9 M204.5,256.8 L203.2,259.8 M194.0,226.4 L190.6,226.5 M205.0,251.4 L202.5,253.0 M204.3,234.2 L201.1,237.0 M209.8,243.5 L207.4,247.2 M202.3,284.1 L203.8,287.1 M197.6,269.9 L194.3,270.3 M189.6,196.4 L191.7,197.9 M197.6,212.0 L195.0,213.9 M198.7,301.1 L203.1,302.8 M207.9,206.9 L205.5,210.0 M197.7,227.4 L200.3,230.4 M193.4,242.1 L190.4,245.5 M206.8,237.9 L204.3,238.4 M202.4,224.1 L203.7,228.7 M191.5,198.7 L192.6,203.1 M197.4,287.3 L194.5,287.7 M203.5,272.7 L204.6,275.3 M198.1,195.4 L201.3,195.6 M196.4,305.9 L199.8,309.4 M198.9,243.6 L194.6,244.4 M200.1,241.2 L204.3,241.5 M200.6,271.4 L203.2,273.4 M189.8,256.5 L192.3,259.5 M184.7,218.0 L188.9,219.2 M209.0,227.3 L211.7,227.4 M201.4,258.2 L198.9,259.2 M200.0,202.1 L201.4,205.9 M200.5,277.0 L196.1,278.0 M206.8,273.6 L204.8,276.2 M195.7,212.6 L192.5,215.5 M194.3,193.3 L192.3,195.4 M198.2,287.6 L201.7,288.8 M194.2,196.0 L192.7,199.9 M202.6,236.2 L198.8,237.0 M203.6,236.5 L203.6,240.8 M197.8,269.0 L195.1,273.0 M200.1,200.0 L201.2,204.3 M193.9,239.4 L191.1,242.0 M202.6,219.0 L203.4,222.7 M198.2,248.5 L200.7,251.2 M202.1,218.2 L204.0,222.3 M201.8,302.0 L199.2,306.1 M196.2,285.1 L192.2,287.2 M196.2,249.4 L199.1,249.5" fill="none" stroke="#d8ae5c" stroke-width="2.2" stroke-linecap="round"/>
<path d="M202.3,265.1 L203.8,268.6 M197.3,305.1 L192.7,305.5 M198.9,215.8 L196.7,220.1 M196.8,260.7 L200.1,261.0 M196.5,258.1 L200.6,258.2 M198.4,269.0 L195.8,269.0 M208.1,257.4 L209.1,260.5 M196.5,295.6 L195.8,300.4 M196.0,268.4 L194.9,270.7 M193.8,211.3 L196.3,213.5 M198.9,266.6 L198.2,271.4 M201.8,221.7 L201.9,224.5 M192.9,206.6 L191.9,210.9 M185.8,252.8 L189.2,254.4 M195.7,234.4 L199.8,236.4 M187.5,218.2 L185.8,220.5 M202.9,251.3 L205.9,251.8 M201.3,201.9 L204.1,203.5 M204.9,241.5 L201.0,243.0 M211.5,230.1 L210.5,234.5 M189.9,246.9 L192.2,248.4 M194.1,240.4 L195.1,242.9 M192.0,208.5 L192.8,211.6 M204.7,196.9 L200.9,199.2 M193.3,231.1 L193.4,234.4 M191.2,265.9 L186.7,267.8 M201.1,290.9 L199.5,294.9 M192.2,295.3 L190.5,299.3 M205.3,201.9 L202.7,206.1 M196.2,217.9 L192.7,219.4 M199.0,229.2 L200.2,233.1 M189.8,281.6 L190.6,286.3 M204.5,278.3 L200.3,280.8 M200.3,197.8 L195.7,198.3 M189.2,289.7 L188.4,294.5 M199.0,255.1 L197.2,257.2 M202.2,230.8 L199.0,231.6 M204.2,239.3 L201.8,240.1 M201.4,240.1 L205.8,240.3 M194.3,267.1 L196.6,269.9 M191.9,286.8 L194.0,288.6 M202.0,228.3 L205.5,231.0 M204.8,297.5 L206.5,300.8 M199.1,296.1 L202.8,299.3 M202.7,246.0 L205.5,248.0 M185.3,292.3 L182.7,296.6 M201.1,305.8 L198.0,307.8 M186.7,303.8 L183.1,305.2 M202.7,217.7 L198.8,218.4 M201.7,210.5 L198.3,213.7 M206.0,301.6 L207.4,303.8 M201.5,210.4 L199.8,214.1 M191.8,223.8 L188.7,225.3 M190.2,221.3 L189.7,224.4 M204.0,257.8 L202.5,260.0 M196.3,255.6 L198.1,257.6 M209.6,297.4 L207.1,298.4 M198.1,274.0 L200.6,276.6 M196.4,228.2 L199.1,231.6 M201.7,195.7 L198.6,199.1 M203.7,211.0 L205.8,214.5 M203.5,198.8 L206.3,199.6 M199.3,306.2 L198.6,308.7 M191.9,274.9 L194.7,276.2 M193.0,191.7 L192.6,194.4 M188.5,200.9 L191.4,203.8 M194.8,248.0 L198.2,250.0 M200.3,212.2 L195.6,213.5 M209.5,288.5 L207.3,291.4 M202.3,258.8 L204.5,260.3 M201.6,201.5 L201.8,204.1 M200.4,209.2 L197.6,209.5 M197.7,290.4 L201.2,291.8 M197.9,207.1 L195.1,210.8 M191.7,265.4 L193.3,269.7 M208.4,308.3 L207.7,311.2 M194.7,307.7 L191.0,307.8 M198.1,203.1 L201.3,203.7 M207.2,291.6 L206.7,295.8 M188.4,283.4 L191.9,285.5 M200.7,297.3 L199.2,301.1 M199.1,226.7 L195.9,229.1 M205.1,207.3 L203.0,210.1 M191.5,266.7 L191.4,271.6 M186.6,275.7 L189.9,277.5" fill="none" stroke="#f0d390" stroke-width="1.7600000000000002" stroke-linecap="round"/>
<path d="M185,372 L193,376 L201,371" fill="none" stroke="#d2a858" stroke-width="1.2"/>
</g>
<text x="52.4" y="389.0" font-size="18.5" font-weight="bold" font-style="normal" fill="#fff" text-anchor="start" textLength="27.6" lengthAdjust="spacingAndGlyphs" stroke="#fff" stroke-width="0.45">WT</text>
<text x="113.5" y="389.0" font-size="18.5" font-weight="bold" font-style="normal" fill="#fff" text-anchor="start" textLength="24.8" lengthAdjust="spacingAndGlyphs" stroke="#fff" stroke-width="0.45">m1</text>
<text x="171.8" y="389.0" font-size="18.5" font-weight="bold" font-style="normal" fill="#fff" text-anchor="start" textLength="26.2" lengthAdjust="spacingAndGlyphs" stroke="#fff" stroke-width="0.45">m2</text>
<text x="313.8" y="379.7" font-size="17.5" font-weight="bold" font-style="normal" fill="#111" text-anchor="end" textLength="35.6" lengthAdjust="spacingAndGlyphs" stroke="#111" stroke-width="0.45">0.00</text>
<text x="313.8" y="337.1" font-size="17.5" font-weight="bold" font-style="normal" fill="#111" text-anchor="end" textLength="35.6" lengthAdjust="spacingAndGlyphs" stroke="#111" stroke-width="0.45">1.00</text>
<text x="313.8" y="294.5" font-size="17.5" font-weight="bold" font-style="normal" fill="#111" text-anchor="end" textLength="35.6" lengthAdjust="spacingAndGlyphs" stroke="#111" stroke-width="0.45">2.00</text>
<text x="313.8" y="251.9" font-size="17.5" font-weight="bold" font-style="normal" fill="#111" text-anchor="end" textLength="35.6" lengthAdjust="spacingAndGlyphs" stroke="#111" stroke-width="0.45">3.00</text>
<text x="313.8" y="209.3" font-size="17.5" font-weight="bold" font-style="normal" fill="#111" text-anchor="end" textLength="35.6" lengthAdjust="spacingAndGlyphs" stroke="#111" stroke-width="0.45">4.00</text>
<rect x="341.4" y="222.5" width="46.5" height="151.6" fill="#fff" stroke="#111" stroke-width="2"/>
<rect x="411.0" y="209.0" width="47.0" height="165.1" fill="#0a0aef" stroke="none" stroke-width="0"/>
<rect x="481.0" y="212.0" width="47.5" height="162.1" fill="#f40a0a" stroke="none" stroke-width="0"/>
<line x1="364.6" y1="222.5" x2="364.6" y2="216.9" stroke="#3a3a3a" stroke-width="1.7"/>
<line x1="353.1" y1="216.9" x2="376.1" y2="216.9" stroke="#3a3a3a" stroke-width="1.7"/>
<line x1="434.5" y1="209.0" x2="434.5" y2="206.2" stroke="#3a3a3a" stroke-width="1.7"/>
<line x1="422.0" y1="206.2" x2="447.0" y2="206.2" stroke="#3a3a3a" stroke-width="1.7"/>
<line x1="504.7" y1="212.0" x2="504.7" y2="210.2" stroke="#3a3a3a" stroke-width="1.7"/>
<line x1="493.2" y1="210.2" x2="516.2" y2="210.2" stroke="#3a3a3a" stroke-width="1.7"/>
<line x1="317.7" y1="202.7" x2="317.7" y2="375.1" stroke="#111" stroke-width="2"/>
<line x1="313.2" y1="374.1" x2="317.7" y2="374.1" stroke="#111" stroke-width="2"/>
<line x1="313.2" y1="331.5" x2="317.7" y2="331.5" stroke="#111" stroke-width="2"/>
<line x1="313.2" y1="288.9" x2="317.7" y2="288.9" stroke="#111" stroke-width="2"/>
<line x1="313.2" y1="246.3" x2="317.7" y2="246.3" stroke="#111" stroke-width="2"/>
<line x1="313.2" y1="203.7" x2="317.7" y2="203.7" stroke="#111" stroke-width="2"/>
<line x1="316.7" y1="374.1" x2="530.0" y2="374.1" stroke="#111" stroke-width="2"/>
<line x1="364.6" y1="374.1" x2="364.6" y2="378.1" stroke="#111" stroke-width="1.6"/>
<line x1="434.5" y1="374.1" x2="434.5" y2="378.1" stroke="#111" stroke-width="1.6"/>
<line x1="504.7" y1="374.1" x2="504.7" y2="378.1" stroke="#111" stroke-width="1.6"/>
<text x="430.5" y="208.0" font-size="22" font-weight="bold" font-style="normal" fill="#333" text-anchor="middle" textLength="9.5" lengthAdjust="spacingAndGlyphs" stroke="#333" stroke-width="0.3">*</text>
<text x="503.0" y="209.5" font-size="22" font-weight="bold" font-style="normal" fill="#333" text-anchor="middle" textLength="9.5" lengthAdjust="spacingAndGlyphs" stroke="#333" stroke-width="0.3">*</text>
<text x="412.0" y="188.7" font-size="17" font-weight="bold" font-style="normal" fill="#111" text-anchor="start" textLength="61.0" lengthAdjust="spacingAndGlyphs" stroke="#111" stroke-width="0.45">Beijing</text>
<text x="346.3" y="393.6" font-size="18.5" font-weight="bold" font-style="normal" fill="#111" text-anchor="start" textLength="27.6" lengthAdjust="spacingAndGlyphs" stroke="#111" stroke-width="0.45">WT</text>
<text x="421.3" y="393.6" font-size="18.5" font-weight="bold" font-style="normal" fill="#111" text-anchor="start" textLength="26.0" lengthAdjust="spacingAndGlyphs" stroke="#111" stroke-width="0.45">m1</text>
<text x="491.5" y="393.6" font-size="18.5" font-weight="bold" font-style="normal" fill="#111" text-anchor="start" textLength="26.5" lengthAdjust="spacingAndGlyphs" stroke="#111" stroke-width="0.45">m2</text>
<text transform="translate(270.5,285.6) rotate(-90)" x="0" y="0" font-size="18.5" font-weight="bold" fill="#111" stroke="#111" stroke-width="0.6" text-anchor="middle" textLength="147.0" lengthAdjust="spacingAndGlyphs">Yield in plot (kg)</text>
<text x="632.3" y="381.3" font-size="17.5" font-weight="bold" font-style="normal" fill="#111" text-anchor="end" textLength="34.5" lengthAdjust="spacingAndGlyphs" stroke="#111" stroke-width="0.45">0.00</text>
<text x="632.3" y="320.2" font-size="17.5" font-weight="bold" font-style="normal" fill="#111" text-anchor="end" textLength="34.5" lengthAdjust="spacingAndGlyphs" stroke="#111" stroke-width="0.45">1.00</text>
<text x="632.3" y="259.1" font-size="17.5" font-weight="bold" font-style="normal" fill="#111" text-anchor="end" textLength="34.5" lengthAdjust="spacingAndGlyphs" stroke="#111" stroke-width="0.45">2.00</text>
<text x="632.3" y="198.0" font-size="17.5" font-weight="bold" font-style="normal" fill="#111" text-anchor="end" textLength="34.5" lengthAdjust="spacingAndGlyphs" stroke="#111" stroke-width="0.45">3.00</text>
<rect x="662.9" y="235.2" width="47.8" height="140.5" fill="#fff" stroke="#111" stroke-width="2"/>
<rect x="732.0" y="218.4" width="50.0" height="157.3" fill="#0a0aef" stroke="none" stroke-width="0"/>
<rect x="803.0" y="221.0" width="49.0" height="154.7" fill="#f40a0a" stroke="none" stroke-width="0"/>
<line x1="686.8" y1="235.2" x2="686.8" y2="234.0" stroke="#3a3a3a" stroke-width="1.7"/>
<line x1="676.8" y1="234.0" x2="696.8" y2="234.0" stroke="#3a3a3a" stroke-width="1.7"/>
<line x1="757.0" y1="218.4" x2="757.0" y2="216.0" stroke="#3a3a3a" stroke-width="1.7"/>
<line x1="743.5" y1="216.0" x2="770.5" y2="216.0" stroke="#3a3a3a" stroke-width="1.7"/>
<line x1="827.0" y1="221.0" x2="827.0" y2="213.9" stroke="#3a3a3a" stroke-width="1.7"/>
<line x1="814.0" y1="213.9" x2="840.0" y2="213.9" stroke="#3a3a3a" stroke-width="1.7"/>
<line x1="640.0" y1="191.4" x2="640.0" y2="376.7" stroke="#111" stroke-width="2"/>
<line x1="635.5" y1="375.7" x2="640.0" y2="375.7" stroke="#111" stroke-width="2"/>
<line x1="635.5" y1="314.6" x2="640.0" y2="314.6" stroke="#111" stroke-width="2"/>
<line x1="635.5" y1="253.5" x2="640.0" y2="253.5" stroke="#111" stroke-width="2"/>
<line x1="635.5" y1="192.4" x2="640.0" y2="192.4" stroke="#111" stroke-width="2"/>
<line x1="639.0" y1="375.7" x2="873.0" y2="375.7" stroke="#111" stroke-width="2"/>
<line x1="686.8" y1="375.7" x2="686.8" y2="379.7" stroke="#111" stroke-width="1.6"/>
<line x1="757.0" y1="375.7" x2="757.0" y2="379.7" stroke="#111" stroke-width="1.6"/>
<line x1="827.5" y1="375.7" x2="827.5" y2="379.7" stroke="#111" stroke-width="1.6"/>
<text x="755.3" y="218.0" font-size="22" font-weight="bold" font-style="normal" fill="#333" text-anchor="middle" textLength="9.5" lengthAdjust="spacingAndGlyphs" stroke="#333" stroke-width="0.3">*</text>
<text x="827.0" y="220.0" font-size="22" font-weight="bold" font-style="normal" fill="#333" text-anchor="middle" textLength="9.5" lengthAdjust="spacingAndGlyphs" stroke="#333" stroke-width="0.3">*</text>
<text x="746.6" y="188.4" font-size="17.5" font-weight="bold" font-style="normal" fill="#111" text-anchor="start" textLength="89.5" lengthAdjust="spacingAndGlyphs" stroke="#111" stroke-width="0.45">Hanchuan</text>
<text x="672.3" y="396.0" font-size="18.5" font-weight="bold" font-style="normal" fill="#111" text-anchor="start" textLength="27.4" lengthAdjust="spacingAndGlyphs" stroke="#111" stroke-width="0.45">WT</text>
<text x="745.0" y="396.0" font-size="18.5" font-weight="bold" font-style="normal" fill="#111" text-anchor="start" textLength="26.0" lengthAdjust="spacingAndGlyphs" stroke="#111" stroke-width="0.45">m1</text>
<text x="816.5" y="396.0" font-size="18.5" font-weight="bold" font-style="normal" fill="#111" text-anchor="start" textLength="26.5" lengthAdjust="spacingAndGlyphs" stroke="#111" stroke-width="0.45">m2</text>
<text transform="translate(585.8,289.7) rotate(-90)" x="0" y="0" font-size="18.5" font-weight="bold" fill="#111" stroke="#111" stroke-width="0.6" text-anchor="middle" textLength="146.0" lengthAdjust="spacingAndGlyphs">Yield in plot (kg)</text>
<text x="48.3" y="634.1" font-size="18" font-weight="bold" font-style="normal" fill="#111" text-anchor="start" textLength="9.7" lengthAdjust="spacingAndGlyphs" stroke="#111" stroke-width="0.45">0</text>
<text x="48.3" y="593.6" font-size="18" font-weight="bold" font-style="normal" fill="#111" text-anchor="start" textLength="9.7" lengthAdjust="spacingAndGlyphs" stroke="#111" stroke-width="0.45">2</text>
<text x="48.3" y="553.1" font-size="18" font-weight="bold" font-style="normal" fill="#111" text-anchor="start" textLength="9.7" lengthAdjust="spacingAndGlyphs" stroke="#111" stroke-width="0.45">4</text>
<text x="48.3" y="512.6" font-size="18" font-weight="bold" font-style="normal" fill="#111" text-anchor="start" textLength="9.7" lengthAdjust="spacingAndGlyphs" stroke="#111" stroke-width="0.45">6</text>
<text x="48.3" y="472.1" font-size="18" font-weight="bold" font-style="normal" fill="#111" text-anchor="start" textLength="9.7" lengthAdjust="spacingAndGlyphs" stroke="#111" stroke-width="0.45">8</text>
<text x="48.3" y="431.6" font-size="18" font-weight="bold" font-style="normal" fill="#111" text-anchor="start" textLength="19.3" lengthAdjust="spacingAndGlyphs" stroke="#111" stroke-width="0.45">10</text>
<rect x="96.4" y="483.3" width="41.3" height="144.5" fill="#fff" stroke="#111" stroke-width="2.6"/>
<rect x="159.6" y="504.0" width="41.9" height="123.8" fill="#fff" stroke="#8a8a8a" stroke-width="2"/>
<rect x="225.0" y="500.0" width="42.0" height="127.8" fill="#fff" stroke="#8a8a8a" stroke-width="2"/>
<line x1="73.0" y1="424.3" x2="73.0" y2="628.8" stroke="#111" stroke-width="2.2"/>
<line x1="68.5" y1="627.8" x2="73.0" y2="627.8" stroke="#111" stroke-width="2.2"/>
<line x1="68.5" y1="587.3" x2="73.0" y2="587.3" stroke="#111" stroke-width="2.2"/>
<line x1="68.5" y1="546.8" x2="73.0" y2="546.8" stroke="#111" stroke-width="2.2"/>
<line x1="68.5" y1="506.3" x2="73.0" y2="506.3" stroke="#111" stroke-width="2.2"/>
<line x1="68.5" y1="465.8" x2="73.0" y2="465.8" stroke="#111" stroke-width="2.2"/>
<line x1="68.5" y1="425.3" x2="73.0" y2="425.3" stroke="#111" stroke-width="2.2"/>
<line x1="72.0" y1="627.8" x2="278.4" y2="627.8" stroke="#111" stroke-width="2.2"/>
<line x1="117.0" y1="627.8" x2="117.0" y2="631.8" stroke="#111" stroke-width="1.7600000000000002"/>
<line x1="180.5" y1="627.8" x2="180.5" y2="631.8" stroke="#111" stroke-width="1.7600000000000002"/>
<line x1="245.5" y1="627.8" x2="245.5" y2="631.8" stroke="#111" stroke-width="1.7600000000000002"/>
<circle cx="116.7" cy="467.5" r="3.20" fill="#111" stroke="none" stroke-width="0"/>
<circle cx="105.0" cy="480.0" r="3.20" fill="#111" stroke="none" stroke-width="0"/>
<circle cx="112.0" cy="478.0" r="3.20" fill="#111" stroke="none" stroke-width="0"/>
<circle cx="120.0" cy="476.0" r="3.20" fill="#111" stroke="none" stroke-width="0"/>
<circle cx="126.0" cy="481.0" r="3.20" fill="#111" stroke="none" stroke-width="0"/>
<circle cx="133.0" cy="482.0" r="3.20" fill="#111" stroke="none" stroke-width="0"/>
<circle cx="108.0" cy="488.0" r="3.20" fill="#111" stroke="none" stroke-width="0"/>
<circle cx="116.0" cy="485.0" r="3.20" fill="#111" stroke="none" stroke-width="0"/>
<circle cx="124.0" cy="487.0" r="3.20" fill="#111" stroke="none" stroke-width="0"/>
<circle cx="130.0" cy="480.0" r="3.20" fill="#111" stroke="none" stroke-width="0"/>
<circle cx="100.0" cy="483.0" r="3.20" fill="#111" stroke="none" stroke-width="0"/>
<circle cx="122.0" cy="491.0" r="3.20" fill="#111" stroke="none" stroke-width="0"/>
<circle cx="134.0" cy="491.0" r="3.20" fill="#111" stroke="none" stroke-width="0"/>
<circle cx="113.0" cy="474.0" r="3.20" fill="#111" stroke="none" stroke-width="0"/>
<circle cx="118.0" cy="483.0" r="3.20" fill="#111" stroke="none" stroke-width="0"/>
<line x1="116.7" y1="476.0" x2="116.7" y2="490.0" stroke="#fff" stroke-width="1.2"/>
<line x1="108.0" y1="490.0" x2="126.0" y2="490.0" stroke="#fff" stroke-width="1.2"/>
<path d="M160.2,492.2 L166.8,492.2 L163.5,498.2Z" fill="#1a1ac0"/>
<path d="M167.7,499.2 L174.3,499.2 L171.0,505.2Z" fill="#1a1ac0"/>
<path d="M172.7,496.2 L179.3,496.2 L176.0,502.2Z" fill="#1a1ac0"/>
<path d="M177.7,500.2 L184.3,500.2 L181.0,506.2Z" fill="#1a1ac0"/>
<path d="M182.7,497.2 L189.3,497.2 L186.0,503.2Z" fill="#1a1ac0"/>
<path d="M187.7,499.2 L194.3,499.2 L191.0,505.2Z" fill="#1a1ac0"/>
<path d="M193.7,499.2 L200.3,499.2 L197.0,505.2Z" fill="#1a1ac0"/>
<path d="M164.7,505.2 L171.3,505.2 L168.0,511.2Z" fill="#1a1ac0"/>
<path d="M170.7,504.2 L177.3,504.2 L174.0,510.2Z" fill="#1a1ac0"/>
<path d="M176.7,507.2 L183.3,507.2 L180.0,513.2Z" fill="#1a1ac0"/>
<path d="M182.7,508.2 L189.3,508.2 L186.0,514.2Z" fill="#1a1ac0"/>
<path d="M188.7,510.2 L195.3,510.2 L192.0,516.2Z" fill="#1a1ac0"/>
<path d="M192.7,509.2 L199.3,509.2 L196.0,515.2Z" fill="#1a1ac0"/>
<path d="M173.7,500.2 L180.3,500.2 L177.0,506.2Z" fill="#1a1ac0"/>
<path d="M180.7,503.2 L187.3,503.2 L184.0,509.2Z" fill="#1a1ac0"/>
<path d="M185.7,504.2 L192.3,504.2 L189.0,510.2Z" fill="#1a1ac0"/>
<path d="M172,501 L197,501 M183,501 L183,512 M176,512 L192,512" fill="none" stroke="#fff" stroke-width="0.8" opacity="0.8"/>
<path d="M233.2,496.2 L240.8,496.2 L237.0,489.4Z" fill="#ee1010"/>
<path d="M239.2,494.2 L246.8,494.2 L243.0,487.4Z" fill="#ee1010"/>
<path d="M244.2,494.2 L251.8,494.2 L248.0,487.4Z" fill="#ee1010"/>
<path d="M249.2,495.2 L256.8,495.2 L253.0,488.4Z" fill="#ee1010"/>
<path d="M254.2,495.2 L261.8,495.2 L258.0,488.4Z" fill="#ee1010"/>
<path d="M259.2,496.2 L266.8,496.2 L263.0,489.4Z" fill="#ee1010"/>
<path d="M224.2,506.2 L231.8,506.2 L228.0,499.4Z" fill="#ee1010"/>
<path d="M230.2,502.2 L237.8,502.2 L234.0,495.4Z" fill="#ee1010"/>
<path d="M233.2,508.2 L240.8,508.2 L237.0,501.4Z" fill="#ee1010"/>
<path d="M237.2,511.2 L244.8,511.2 L241.0,504.4Z" fill="#ee1010"/>
<path d="M240.2,517.2 L247.8,517.2 L244.0,510.4Z" fill="#ee1010"/>
<path d="M245.2,517.2 L252.8,517.2 L249.0,510.4Z" fill="#ee1010"/>
<path d="M250.2,517.2 L257.8,517.2 L254.0,510.4Z" fill="#ee1010"/>
<path d="M235.2,499.2 L242.8,499.2 L239.0,492.4Z" fill="#ee1010"/>
<path d="M248.2,499.2 L255.8,499.2 L252.0,492.4Z" fill="#ee1010"/>
<path d="M235.4,491 L252.2,491 M245.9,491 L245.9,512 M241,512 L255,512" fill="none" stroke="#fff" stroke-width="0.8" opacity="0.8"/>
<text x="186.7" y="494.2" font-size="16" font-weight="bold" font-style="normal" fill="#484848" text-anchor="middle" textLength="26.0" lengthAdjust="spacingAndGlyphs" stroke="#484848" stroke-width="0.4">* * *</text>
<text x="254.6" y="490.3" font-size="16" font-weight="bold" font-style="normal" fill="#484848" text-anchor="middle" textLength="26.0" lengthAdjust="spacingAndGlyphs" stroke="#484848" stroke-width="0.4">* * *</text>
<text x="83.4" y="440.8" font-size="17.5" font-weight="bold" font-style="normal" fill="#111" text-anchor="start" textLength="189.0" lengthAdjust="spacingAndGlyphs" stroke="#111" stroke-width="0.45">Leaf bacteria number</text>
<text x="102.5" y="644.5" font-size="18.5" font-weight="bold" font-style="normal" fill="#111" text-anchor="start" textLength="30.0" lengthAdjust="spacingAndGlyphs" stroke="#111" stroke-width="0.45">WT</text>
<text x="168.0" y="644.5" font-size="18.5" font-weight="bold" font-style="normal" fill="#111" text-anchor="start" textLength="27.0" lengthAdjust="spacingAndGlyphs" stroke="#111" stroke-width="0.45">m1</text>
<text x="231.8" y="644.5" font-size="18.5" font-weight="bold" font-style="normal" fill="#111" text-anchor="start" textLength="27.0" lengthAdjust="spacingAndGlyphs" stroke="#111" stroke-width="0.45">m2</text>
<text transform="translate(31,527) rotate(-90)" x="0" y="0" font-size="18.5" font-weight="bold" fill="#111" stroke="#111" stroke-width="0.6" text-anchor="middle" textLength="137" lengthAdjust="spacingAndGlyphs">Log<tspan font-size="11" dy="4">10</tspan><tspan dy="-4">(CFU/cm</tspan><tspan font-size="11" dy="-6">2</tspan><tspan dy="6">)</tspan></text>
<text x="372.0" y="635.2" font-size="18" font-weight="bold" font-style="normal" fill="#111" text-anchor="end" textLength="8.8" lengthAdjust="spacingAndGlyphs" stroke="#111" stroke-width="0.45">0</text>
<text x="378.5" y="606.3" font-size="18" font-weight="bold" font-style="normal" fill="#111" text-anchor="end" textLength="19.7" lengthAdjust="spacingAndGlyphs" stroke="#111" stroke-width="0.45">30</text>
<text x="378.5" y="577.4" font-size="18" font-weight="bold" font-style="normal" fill="#111" text-anchor="end" textLength="19.7" lengthAdjust="spacingAndGlyphs" stroke="#111" stroke-width="0.45">60</text>
<text x="378.5" y="548.5" font-size="18" font-weight="bold" font-style="normal" fill="#111" text-anchor="end" textLength="19.7" lengthAdjust="spacingAndGlyphs" stroke="#111" stroke-width="0.45">90</text>
<text x="378.5" y="519.6" font-size="18" font-weight="bold" font-style="normal" fill="#111" text-anchor="end" textLength="29.5" lengthAdjust="spacingAndGlyphs" stroke="#111" stroke-width="0.45">120</text>
<text x="378.5" y="490.7" font-size="18" font-weight="bold" font-style="normal" fill="#111" text-anchor="end" textLength="29.5" lengthAdjust="spacingAndGlyphs" stroke="#111" stroke-width="0.45">150</text>
<text x="378.5" y="461.8" font-size="18" font-weight="bold" font-style="normal" fill="#111" text-anchor="end" textLength="29.5" lengthAdjust="spacingAndGlyphs" stroke="#111" stroke-width="0.45">180</text>
<text x="378.5" y="432.9" font-size="18" font-weight="bold" font-style="normal" fill="#111" text-anchor="end" textLength="29.5" lengthAdjust="spacingAndGlyphs" stroke="#111" stroke-width="0.45">210</text>
<path d="M432.0,476.7 C432.0,479.0 431.0,485.7 432.4,490.2 C433.8,494.6 438.3,499.5 440.5,503.6 C442.7,507.7 443.8,510.3 445.6,514.8 C447.5,519.3 450.8,525.6 451.7,530.5 C452.5,535.3 451.4,538.3 450.8,543.9 C450.1,549.5 449.1,558.8 447.9,564.1 C446.6,569.3 444.7,572.3 443.4,575.3 C442.1,578.2 440.7,579.0 440.0,582.0 C439.4,585.0 439.6,588.7 439.6,593.2 C439.6,597.7 440.4,604.0 440.0,608.9 C439.6,613.7 438.5,619.1 437.3,622.3 C436.1,625.5 433.6,627.0 432.9,627.9 L429.3,627.9 C428.5,627.0 426.0,625.5 424.8,622.3 C423.6,619.1 422.5,613.7 422.1,608.9 C421.7,604.0 422.6,597.7 422.6,593.2 C422.6,588.7 422.7,585.0 422.1,582.0 C421.5,579.0 420.1,578.2 418.7,575.3 C417.4,572.3 415.5,569.3 414.3,564.1 C413.0,558.8 412.0,549.5 411.4,543.9 C410.7,538.3 409.6,535.3 410.5,530.5 C411.3,525.6 414.6,519.3 416.5,514.8 C418.4,510.3 419.5,507.7 421.7,503.6 C423.9,499.5 428.3,494.6 429.7,490.2 C431.1,485.7 430.1,479.0 430.2,476.7Z" fill="none" stroke="#111" stroke-width="1.1"/>
<line x1="410.9" y1="530.0" x2="451.2" y2="530.0" stroke="#111" stroke-width="1.1"/>
<line x1="414.0" y1="550.2" x2="448.1" y2="550.2" stroke="#111" stroke-width="1.1"/>
<line x1="422.3" y1="582.0" x2="439.8" y2="582.0" stroke="#111" stroke-width="1.1"/>
<circle cx="433.8" cy="477.2" r="2.30" fill="#111" stroke="none" stroke-width="0"/>
<circle cx="427.0" cy="508.1" r="2.30" fill="#111" stroke="none" stroke-width="0"/>
<circle cx="433.8" cy="505.8" r="2.30" fill="#111" stroke="none" stroke-width="0"/>
<circle cx="427.0" cy="517.0" r="2.30" fill="#111" stroke="none" stroke-width="0"/>
<circle cx="433.8" cy="512.6" r="2.30" fill="#111" stroke="none" stroke-width="0"/>
<circle cx="440.5" cy="518.2" r="2.30" fill="#111" stroke="none" stroke-width="0"/>
<circle cx="427.0" cy="524.4" r="2.30" fill="#111" stroke="none" stroke-width="0"/>
<circle cx="433.8" cy="530.5" r="2.30" fill="#111" stroke="none" stroke-width="0"/>
<circle cx="420.3" cy="529.4" r="2.30" fill="#111" stroke="none" stroke-width="0"/>
<circle cx="440.5" cy="527.1" r="2.30" fill="#111" stroke="none" stroke-width="0"/>
<circle cx="427.0" cy="537.2" r="2.30" fill="#111" stroke="none" stroke-width="0"/>
<circle cx="433.8" cy="537.2" r="2.30" fill="#111" stroke="none" stroke-width="0"/>
<circle cx="440.5" cy="533.8" r="2.30" fill="#111" stroke="none" stroke-width="0"/>
<circle cx="433.8" cy="543.9" r="2.30" fill="#111" stroke="none" stroke-width="0"/>
<circle cx="420.3" cy="549.5" r="2.30" fill="#111" stroke="none" stroke-width="0"/>
<circle cx="427.0" cy="548.4" r="2.30" fill="#111" stroke="none" stroke-width="0"/>
<circle cx="440.5" cy="548.4" r="2.30" fill="#111" stroke="none" stroke-width="0"/>
<circle cx="433.8" cy="552.9" r="2.30" fill="#111" stroke="none" stroke-width="0"/>
<circle cx="427.0" cy="556.2" r="2.30" fill="#111" stroke="none" stroke-width="0"/>
<circle cx="440.5" cy="556.2" r="2.30" fill="#111" stroke="none" stroke-width="0"/>
<circle cx="433.8" cy="561.8" r="2.30" fill="#111" stroke="none" stroke-width="0"/>
<circle cx="440.5" cy="564.1" r="2.30" fill="#111" stroke="none" stroke-width="0"/>
<circle cx="427.0" cy="568.5" r="2.30" fill="#111" stroke="none" stroke-width="0"/>
<circle cx="433.8" cy="569.7" r="2.30" fill="#111" stroke="none" stroke-width="0"/>
<circle cx="440.5" cy="567.4" r="2.30" fill="#111" stroke="none" stroke-width="0"/>
<circle cx="427.0" cy="578.6" r="2.30" fill="#111" stroke="none" stroke-width="0"/>
<circle cx="427.0" cy="582.0" r="2.30" fill="#111" stroke="none" stroke-width="0"/>
<circle cx="427.0" cy="590.9" r="2.30" fill="#111" stroke="none" stroke-width="0"/>
<circle cx="433.8" cy="593.2" r="2.30" fill="#111" stroke="none" stroke-width="0"/>
<circle cx="427.0" cy="601.0" r="2.30" fill="#111" stroke="none" stroke-width="0"/>
<circle cx="433.8" cy="606.6" r="2.30" fill="#111" stroke="none" stroke-width="0"/>
<circle cx="433.8" cy="612.2" r="2.30" fill="#111" stroke="none" stroke-width="0"/>
<circle cx="427.0" cy="610.0" r="2.30" fill="#111" stroke="none" stroke-width="0"/>
<circle cx="427.0" cy="616.7" r="2.30" fill="#111" stroke="none" stroke-width="0"/>
<circle cx="427.0" cy="623.4" r="2.30" fill="#111" stroke="none" stroke-width="0"/>
<circle cx="427.0" cy="627.9" r="2.30" fill="#111" stroke="none" stroke-width="0"/>
<circle cx="420.3" cy="530.0" r="2.30" fill="#111" stroke="none" stroke-width="0"/>
<circle cx="433.8" cy="520.4" r="2.30" fill="#111" stroke="none" stroke-width="0"/>
<path d="M492.7,498.7 C494.3,501.4 500.3,507.3 502.5,514.8 C504.7,522.3 505.7,535.7 505.9,543.9 C506.1,552.1 503.5,557.7 503.6,564.1 C503.7,570.4 505.2,575.3 506.5,582.0 C507.8,588.7 511.4,598.4 511.5,604.4 C511.5,610.4 510.1,613.6 507.0,617.8 C503.9,622.0 495.0,627.5 492.7,629.5 L490.0,629.5 C487.6,627.5 478.8,622.0 475.6,617.8 C472.5,613.6 471.1,610.4 471.2,604.4 C471.2,598.4 474.8,588.7 476.1,582.0 C477.4,575.3 478.9,570.4 479.0,564.1 C479.1,557.7 476.6,552.1 476.8,543.9 C476.9,535.7 477.9,522.3 480.1,514.8 C482.3,507.3 488.3,501.4 490.0,498.7Z" fill="none" stroke="#1a1acc" stroke-width="1.1"/>
<line x1="477.4" y1="543.2" x2="505.2" y2="543.2" stroke="#1a1acc" stroke-width="1.1"/>
<line x1="476.1" y1="580.4" x2="506.5" y2="580.4" stroke="#1a1acc" stroke-width="1.1"/>
<line x1="471.6" y1="605.5" x2="511.0" y2="605.5" stroke="#1a1acc" stroke-width="1.1"/>
<circle cx="491.3" cy="499.1" r="2.30" fill="#1a1acc" stroke="none" stroke-width="0"/>
<circle cx="484.1" cy="513.7" r="2.30" fill="#1a1acc" stroke="none" stroke-width="0"/>
<circle cx="497.6" cy="518.2" r="2.30" fill="#1a1acc" stroke="none" stroke-width="0"/>
<circle cx="484.1" cy="518.2" r="2.30" fill="#1a1acc" stroke="none" stroke-width="0"/>
<circle cx="491.3" cy="530.5" r="2.30" fill="#1a1acc" stroke="none" stroke-width="0"/>
<circle cx="484.1" cy="530.5" r="2.30" fill="#1a1acc" stroke="none" stroke-width="0"/>
<circle cx="497.6" cy="530.5" r="2.30" fill="#1a1acc" stroke="none" stroke-width="0"/>
<circle cx="484.1" cy="537.2" r="2.30" fill="#1a1acc" stroke="none" stroke-width="0"/>
<circle cx="491.3" cy="537.2" r="2.30" fill="#1a1acc" stroke="none" stroke-width="0"/>
<circle cx="491.3" cy="543.9" r="2.30" fill="#1a1acc" stroke="none" stroke-width="0"/>
<circle cx="497.6" cy="543.9" r="2.30" fill="#1a1acc" stroke="none" stroke-width="0"/>
<circle cx="484.1" cy="554.0" r="2.30" fill="#1a1acc" stroke="none" stroke-width="0"/>
<circle cx="491.3" cy="554.0" r="2.30" fill="#1a1acc" stroke="none" stroke-width="0"/>
<circle cx="497.6" cy="555.1" r="2.30" fill="#1a1acc" stroke="none" stroke-width="0"/>
<circle cx="491.3" cy="561.8" r="2.30" fill="#1a1acc" stroke="none" stroke-width="0"/>
<circle cx="491.3" cy="566.3" r="2.30" fill="#1a1acc" stroke="none" stroke-width="0"/>
<circle cx="497.6" cy="566.3" r="2.30" fill="#1a1acc" stroke="none" stroke-width="0"/>
<circle cx="491.3" cy="573.0" r="2.30" fill="#1a1acc" stroke="none" stroke-width="0"/>
<circle cx="484.1" cy="580.9" r="2.30" fill="#1a1acc" stroke="none" stroke-width="0"/>
<circle cx="491.3" cy="580.9" r="2.30" fill="#1a1acc" stroke="none" stroke-width="0"/>
<circle cx="497.6" cy="580.9" r="2.30" fill="#1a1acc" stroke="none" stroke-width="0"/>
<circle cx="484.1" cy="592.1" r="2.30" fill="#1a1acc" stroke="none" stroke-width="0"/>
<circle cx="491.3" cy="589.8" r="2.30" fill="#1a1acc" stroke="none" stroke-width="0"/>
<circle cx="497.6" cy="592.1" r="2.30" fill="#1a1acc" stroke="none" stroke-width="0"/>
<circle cx="484.1" cy="597.7" r="2.30" fill="#1a1acc" stroke="none" stroke-width="0"/>
<circle cx="491.3" cy="597.7" r="2.30" fill="#1a1acc" stroke="none" stroke-width="0"/>
<circle cx="497.6" cy="596.5" r="2.30" fill="#1a1acc" stroke="none" stroke-width="0"/>
<circle cx="484.1" cy="603.3" r="2.30" fill="#1a1acc" stroke="none" stroke-width="0"/>
<circle cx="491.3" cy="603.3" r="2.30" fill="#1a1acc" stroke="none" stroke-width="0"/>
<circle cx="497.6" cy="605.5" r="2.30" fill="#1a1acc" stroke="none" stroke-width="0"/>
<circle cx="484.1" cy="606.6" r="2.30" fill="#1a1acc" stroke="none" stroke-width="0"/>
<circle cx="491.3" cy="608.9" r="2.30" fill="#1a1acc" stroke="none" stroke-width="0"/>
<circle cx="497.6" cy="610.0" r="2.30" fill="#1a1acc" stroke="none" stroke-width="0"/>
<circle cx="484.1" cy="613.3" r="2.30" fill="#1a1acc" stroke="none" stroke-width="0"/>
<circle cx="491.3" cy="614.5" r="2.30" fill="#1a1acc" stroke="none" stroke-width="0"/>
<circle cx="491.3" cy="620.1" r="2.30" fill="#1a1acc" stroke="none" stroke-width="0"/>
<circle cx="497.6" cy="620.1" r="2.30" fill="#1a1acc" stroke="none" stroke-width="0"/>
<circle cx="491.3" cy="624.5" r="2.30" fill="#1a1acc" stroke="none" stroke-width="0"/>
<circle cx="491.3" cy="629.0" r="2.30" fill="#1a1acc" stroke="none" stroke-width="0"/>
<circle cx="484.1" cy="610.0" r="2.30" fill="#1a1acc" stroke="none" stroke-width="0"/>
<path d="M554.2,515.9 C555.7,517.0 561.3,519.1 563.2,522.6 C565.1,526.2 565.1,531.8 565.4,537.2 C565.8,542.6 564.4,550.3 565.4,555.1 C566.5,560.0 570.4,561.1 571.5,566.3 C572.5,571.5 571.9,580.1 571.7,586.5 C571.5,592.8 571.3,598.4 570.4,604.4 C569.5,610.4 567.3,618.3 566.3,622.3 C565.4,626.3 566.7,627.4 564.8,628.6 C562.8,629.8 556.4,629.3 554.7,629.5 L550.2,629.5 C548.5,629.3 542.1,629.8 540.1,628.6 C538.2,627.4 539.5,626.3 538.6,622.3 C537.6,618.3 535.4,610.4 534.5,604.4 C533.6,598.4 533.4,592.8 533.2,586.5 C533.0,580.1 532.4,571.5 533.4,566.3 C534.5,561.1 538.5,560.0 539.5,555.1 C540.5,550.3 539.1,542.6 539.5,537.2 C539.8,531.8 539.8,526.2 541.7,522.6 C543.6,519.1 549.2,517.0 550.7,515.9Z" fill="none" stroke="#d42a2a" stroke-width="1.1"/>
<line x1="534.5" y1="557.3" x2="570.4" y2="557.3" stroke="#d42a2a" stroke-width="1.1"/>
<line x1="533.4" y1="579.7" x2="571.5" y2="579.7" stroke="#d42a2a" stroke-width="1.1"/>
<line x1="535.0" y1="601.7" x2="569.9" y2="601.7" stroke="#d42a2a" stroke-width="1.1"/>
<circle cx="555.8" cy="517.0" r="2.30" fill="#d42a2a" stroke="none" stroke-width="0"/>
<circle cx="549.1" cy="527.1" r="2.30" fill="#d42a2a" stroke="none" stroke-width="0"/>
<circle cx="555.8" cy="527.1" r="2.30" fill="#d42a2a" stroke="none" stroke-width="0"/>
<circle cx="549.1" cy="534.9" r="2.30" fill="#d42a2a" stroke="none" stroke-width="0"/>
<circle cx="555.8" cy="534.9" r="2.30" fill="#d42a2a" stroke="none" stroke-width="0"/>
<circle cx="549.1" cy="542.8" r="2.30" fill="#d42a2a" stroke="none" stroke-width="0"/>
<circle cx="555.8" cy="541.7" r="2.30" fill="#d42a2a" stroke="none" stroke-width="0"/>
<circle cx="555.8" cy="548.4" r="2.30" fill="#d42a2a" stroke="none" stroke-width="0"/>
<circle cx="555.8" cy="556.2" r="2.30" fill="#d42a2a" stroke="none" stroke-width="0"/>
<circle cx="541.3" cy="562.9" r="2.30" fill="#d42a2a" stroke="none" stroke-width="0"/>
<circle cx="549.1" cy="562.9" r="2.30" fill="#d42a2a" stroke="none" stroke-width="0"/>
<circle cx="555.8" cy="564.1" r="2.30" fill="#d42a2a" stroke="none" stroke-width="0"/>
<circle cx="562.5" cy="566.3" r="2.30" fill="#d42a2a" stroke="none" stroke-width="0"/>
<circle cx="549.1" cy="569.7" r="2.30" fill="#d42a2a" stroke="none" stroke-width="0"/>
<circle cx="555.8" cy="569.7" r="2.30" fill="#d42a2a" stroke="none" stroke-width="0"/>
<circle cx="549.1" cy="574.1" r="2.30" fill="#d42a2a" stroke="none" stroke-width="0"/>
<circle cx="555.8" cy="575.3" r="2.30" fill="#d42a2a" stroke="none" stroke-width="0"/>
<circle cx="541.3" cy="579.7" r="2.30" fill="#d42a2a" stroke="none" stroke-width="0"/>
<circle cx="549.1" cy="583.1" r="2.30" fill="#d42a2a" stroke="none" stroke-width="0"/>
<circle cx="555.8" cy="582.0" r="2.30" fill="#d42a2a" stroke="none" stroke-width="0"/>
<circle cx="562.5" cy="580.9" r="2.30" fill="#d42a2a" stroke="none" stroke-width="0"/>
<circle cx="541.3" cy="585.3" r="2.30" fill="#d42a2a" stroke="none" stroke-width="0"/>
<circle cx="549.1" cy="586.5" r="2.30" fill="#d42a2a" stroke="none" stroke-width="0"/>
<circle cx="562.5" cy="586.5" r="2.30" fill="#d42a2a" stroke="none" stroke-width="0"/>
<circle cx="541.3" cy="597.7" r="2.30" fill="#d42a2a" stroke="none" stroke-width="0"/>
<circle cx="549.1" cy="597.7" r="2.30" fill="#d42a2a" stroke="none" stroke-width="0"/>
<circle cx="555.8" cy="597.7" r="2.30" fill="#d42a2a" stroke="none" stroke-width="0"/>
<circle cx="562.5" cy="602.1" r="2.30" fill="#d42a2a" stroke="none" stroke-width="0"/>
<circle cx="541.3" cy="601.0" r="2.30" fill="#d42a2a" stroke="none" stroke-width="0"/>
<circle cx="549.1" cy="602.1" r="2.30" fill="#d42a2a" stroke="none" stroke-width="0"/>
<circle cx="555.8" cy="604.4" r="2.30" fill="#d42a2a" stroke="none" stroke-width="0"/>
<circle cx="549.1" cy="610.0" r="2.30" fill="#d42a2a" stroke="none" stroke-width="0"/>
<circle cx="555.8" cy="612.2" r="2.30" fill="#d42a2a" stroke="none" stroke-width="0"/>
<circle cx="549.1" cy="615.6" r="2.30" fill="#d42a2a" stroke="none" stroke-width="0"/>
<circle cx="541.3" cy="621.2" r="2.30" fill="#d42a2a" stroke="none" stroke-width="0"/>
<circle cx="549.1" cy="623.4" r="2.30" fill="#d42a2a" stroke="none" stroke-width="0"/>
<circle cx="555.8" cy="622.3" r="2.30" fill="#d42a2a" stroke="none" stroke-width="0"/>
<circle cx="549.1" cy="627.9" r="2.30" fill="#d42a2a" stroke="none" stroke-width="0"/>
<circle cx="555.8" cy="627.9" r="2.30" fill="#d42a2a" stroke="none" stroke-width="0"/>
<circle cx="555.8" cy="590.9" r="2.30" fill="#d42a2a" stroke="none" stroke-width="0"/>
<line x1="390.0" y1="424.9" x2="390.0" y2="629.2" stroke="#111" stroke-width="2.2"/>
<line x1="385.5" y1="628.2" x2="390.0" y2="628.2" stroke="#111" stroke-width="2.2"/>
<line x1="385.5" y1="599.3" x2="390.0" y2="599.3" stroke="#111" stroke-width="2.2"/>
<line x1="385.5" y1="570.4" x2="390.0" y2="570.4" stroke="#111" stroke-width="2.2"/>
<line x1="385.5" y1="541.5" x2="390.0" y2="541.5" stroke="#111" stroke-width="2.2"/>
<line x1="385.5" y1="512.6" x2="390.0" y2="512.6" stroke="#111" stroke-width="2.2"/>
<line x1="385.5" y1="483.7" x2="390.0" y2="483.7" stroke="#111" stroke-width="2.2"/>
<line x1="385.5" y1="454.8" x2="390.0" y2="454.8" stroke="#111" stroke-width="2.2"/>
<line x1="385.5" y1="425.9" x2="390.0" y2="425.9" stroke="#111" stroke-width="2.2"/>
<line x1="389.0" y1="628.2" x2="591.5" y2="628.2" stroke="#111" stroke-width="2.2"/>
<line x1="431.0" y1="628.2" x2="431.0" y2="632.2" stroke="#111" stroke-width="1.7600000000000002"/>
<line x1="491.3" y1="628.2" x2="491.3" y2="632.2" stroke="#111" stroke-width="1.7600000000000002"/>
<line x1="552.1" y1="628.2" x2="552.1" y2="632.2" stroke="#111" stroke-width="1.7600000000000002"/>
<path d="M429.4,468.9 L429.4,468.9 L491.0,468.9 L491.0,468.9" fill="none" stroke="#555" stroke-width="1.5"/>
<circle cx="459.6" cy="462.0" r="2.08" fill="#5a5a5a" stroke="none" stroke-width="0"/>
<line x1="459.6" y1="459.1" x2="459.6" y2="464.9" stroke="#5a5a5a" stroke-width="1.0"/>
<line x1="462.1" y1="460.6" x2="457.1" y2="463.4" stroke="#5a5a5a" stroke-width="1.0"/>
<line x1="462.1" y1="463.4" x2="457.1" y2="460.6" stroke="#5a5a5a" stroke-width="1.0"/>
<path d="M429.4,448.7 L429.4,448.7 L551.0,448.7 L551.0,448.7" fill="none" stroke="#555" stroke-width="1.5"/>
<circle cx="490.0" cy="442.0" r="2.08" fill="#5a5a5a" stroke="none" stroke-width="0"/>
<line x1="490.0" y1="439.1" x2="490.0" y2="444.9" stroke="#5a5a5a" stroke-width="1.0"/>
<line x1="492.5" y1="440.6" x2="487.5" y2="443.4" stroke="#5a5a5a" stroke-width="1.0"/>
<line x1="492.5" y1="443.4" x2="487.5" y2="440.6" stroke="#5a5a5a" stroke-width="1.0"/>
<circle cx="496.0" cy="442.0" r="2.08" fill="#5a5a5a" stroke="none" stroke-width="0"/>
<line x1="496.0" y1="439.1" x2="496.0" y2="444.9" stroke="#5a5a5a" stroke-width="1.0"/>
<line x1="498.5" y1="440.6" x2="493.5" y2="443.4" stroke="#5a5a5a" stroke-width="1.0"/>
<line x1="498.5" y1="443.4" x2="493.5" y2="440.6" stroke="#5a5a5a" stroke-width="1.0"/>
<text x="416.0" y="646.5" font-size="18.5" font-weight="bold" font-style="normal" fill="#111" text-anchor="start" textLength="28.5" lengthAdjust="spacingAndGlyphs" stroke="#111" stroke-width="0.45">WT</text>
<text x="478.0" y="646.5" font-size="18.5" font-weight="bold" font-style="normal" fill="#111" text-anchor="start" textLength="27.0" lengthAdjust="spacingAndGlyphs" stroke="#111" stroke-width="0.45">m1</text>
<text x="537.0" y="646.5" font-size="18.5" font-weight="bold" font-style="normal" fill="#111" text-anchor="start" textLength="26.8" lengthAdjust="spacingAndGlyphs" stroke="#111" stroke-width="0.45">m2</text>
<text transform="translate(317.0,531.0) rotate(-90)" x="0" y="0" font-size="18.5" font-weight="bold" fill="#111" stroke="#111" stroke-width="0.6" text-anchor="middle" textLength="131.0" lengthAdjust="spacingAndGlyphs">SCN cysts&#160;&#160;per</text>
<text transform="translate(339.5,532.0) rotate(-90)" x="0" y="0" font-size="18.5" font-weight="bold" fill="#111" stroke="#111" stroke-width="0.6" text-anchor="middle" textLength="42.0" lengthAdjust="spacingAndGlyphs">plant</text>
<text x="672.3" y="633.8" font-size="18" font-weight="bold" font-style="normal" fill="#111" text-anchor="end" textLength="9.7" lengthAdjust="spacingAndGlyphs" stroke="#111" stroke-width="0.45">0</text>
<text x="672.3" y="600.8" font-size="18" font-weight="bold" font-style="normal" fill="#111" text-anchor="end" textLength="9.7" lengthAdjust="spacingAndGlyphs" stroke="#111" stroke-width="0.45">2</text>
<text x="672.3" y="567.8" font-size="18" font-weight="bold" font-style="normal" fill="#111" text-anchor="end" textLength="9.7" lengthAdjust="spacingAndGlyphs" stroke="#111" stroke-width="0.45">4</text>
<text x="672.3" y="534.8" font-size="18" font-weight="bold" font-style="normal" fill="#111" text-anchor="end" textLength="9.7" lengthAdjust="spacingAndGlyphs" stroke="#111" stroke-width="0.45">6</text>
<text x="672.3" y="501.8" font-size="18" font-weight="bold" font-style="normal" fill="#111" text-anchor="end" textLength="9.7" lengthAdjust="spacingAndGlyphs" stroke="#111" stroke-width="0.45">8</text>
<text x="672.3" y="468.8" font-size="18" font-weight="bold" font-style="normal" fill="#111" text-anchor="end" textLength="19.8" lengthAdjust="spacingAndGlyphs" stroke="#111" stroke-width="0.45">10</text>
<text x="672.3" y="435.8" font-size="18" font-weight="bold" font-style="normal" fill="#111" text-anchor="end" textLength="19.8" lengthAdjust="spacingAndGlyphs" stroke="#111" stroke-width="0.45">12</text>
<line x1="700.8" y1="491.5" x2="700.8" y2="485.5" stroke="#333" stroke-width="1.6"/>
<line x1="695.0" y1="485.5" x2="706.5" y2="485.5" stroke="#333" stroke-width="1.6"/>
<rect x="690.0" y="491.5" width="21.5" height="135.3" fill="#0a0aef" stroke="none" stroke-width="0"/>
<line x1="722.5" y1="513.8" x2="722.5" y2="506.2" stroke="#333" stroke-width="1.6"/>
<line x1="716.7" y1="506.2" x2="728.3" y2="506.2" stroke="#333" stroke-width="1.6"/>
<rect x="711.5" y="513.8" width="22.0" height="113.0" fill="#f40a0a" stroke="none" stroke-width="0"/>
<line x1="767.3" y1="481.6" x2="767.3" y2="474.6" stroke="#333" stroke-width="1.6"/>
<line x1="761.5" y1="474.6" x2="773.1" y2="474.6" stroke="#333" stroke-width="1.6"/>
<rect x="756.3" y="481.6" width="22.0" height="145.2" fill="#0a0aef" stroke="none" stroke-width="0"/>
<line x1="789.3" y1="496.4" x2="789.3" y2="490.6" stroke="#333" stroke-width="1.6"/>
<line x1="783.5" y1="490.6" x2="795.1" y2="490.6" stroke="#333" stroke-width="1.6"/>
<rect x="778.3" y="496.4" width="22.1" height="130.4" fill="#f40a0a" stroke="none" stroke-width="0"/>
<line x1="833.5" y1="492.3" x2="833.5" y2="485.8" stroke="#333" stroke-width="1.6"/>
<line x1="827.7" y1="485.8" x2="839.2" y2="485.8" stroke="#333" stroke-width="1.6"/>
<rect x="822.4" y="492.3" width="22.1" height="134.5" fill="#0a0aef" stroke="none" stroke-width="0"/>
<line x1="855.5" y1="495.6" x2="855.5" y2="489.0" stroke="#333" stroke-width="1.6"/>
<line x1="849.7" y1="489.0" x2="861.3" y2="489.0" stroke="#333" stroke-width="1.6"/>
<rect x="844.5" y="495.6" width="22.0" height="131.2" fill="#f40a0a" stroke="none" stroke-width="0"/>
<line x1="678.6" y1="427.8" x2="678.6" y2="627.8" stroke="#111" stroke-width="2.2"/>
<line x1="674.1" y1="626.8" x2="678.6" y2="626.8" stroke="#111" stroke-width="2.2"/>
<line x1="674.1" y1="593.8" x2="678.6" y2="593.8" stroke="#111" stroke-width="2.2"/>
<line x1="674.1" y1="560.8" x2="678.6" y2="560.8" stroke="#111" stroke-width="2.2"/>
<line x1="674.1" y1="527.8" x2="678.6" y2="527.8" stroke="#111" stroke-width="2.2"/>
<line x1="674.1" y1="494.8" x2="678.6" y2="494.8" stroke="#111" stroke-width="2.2"/>
<line x1="674.1" y1="461.8" x2="678.6" y2="461.8" stroke="#111" stroke-width="2.2"/>
<line x1="674.1" y1="428.8" x2="678.6" y2="428.8" stroke="#111" stroke-width="2.2"/>
<line x1="677.6" y1="626.8" x2="878.0" y2="626.8" stroke="#111" stroke-width="2.2"/>
<line x1="711.7" y1="626.8" x2="711.7" y2="630.8" stroke="#111" stroke-width="1.7600000000000002"/>
<line x1="778.3" y1="626.8" x2="778.3" y2="630.8" stroke="#111" stroke-width="1.7600000000000002"/>
<line x1="844.5" y1="626.8" x2="844.5" y2="630.8" stroke="#111" stroke-width="1.7600000000000002"/>
<path d="M700.5,470 L700.5,458.4 L723,458.4 L723,498" fill="none" stroke="#555" stroke-width="1.3"/>
<circle cx="710.4" cy="447.5" r="2.16" fill="#5a5a5a" stroke="none" stroke-width="0"/>
<line x1="710.4" y1="444.5" x2="710.4" y2="450.5" stroke="#5a5a5a" stroke-width="1.0"/>
<line x1="713.0" y1="446.0" x2="707.8" y2="449.0" stroke="#5a5a5a" stroke-width="1.0"/>
<line x1="713.0" y1="449.0" x2="707.8" y2="446.0" stroke="#5a5a5a" stroke-width="1.0"/>
<rect x="809.6" y="431.0" width="18.0" height="8.8" fill="#0a0aef" stroke="none" stroke-width="0"/>
<rect x="809.6" y="453.6" width="18.0" height="8.6" fill="#f40a0a" stroke="none" stroke-width="0"/>
<text x="838.0" y="439.2" font-size="13.5" font-weight="normal" font-style="normal" fill="#222" text-anchor="start" style="font-family:'Liberation Serif'" textLength="30.5" lengthAdjust="spacingAndGlyphs" stroke="#222" stroke-width="0.3">-SCN</text>
<text x="838.0" y="461.8" font-size="13.5" font-weight="normal" font-style="normal" fill="#222" text-anchor="start" style="font-family:'Liberation Serif'" textLength="26.0" lengthAdjust="spacingAndGlyphs" stroke="#222" stroke-width="0.3">SCN</text>
<text x="702.0" y="647.5" font-size="18.5" font-weight="bold" font-style="normal" fill="#111" text-anchor="start" textLength="28.8" lengthAdjust="spacingAndGlyphs" stroke="#111" stroke-width="0.45">WT</text>
<text x="768.0" y="647.5" font-size="18.5" font-weight="bold" font-style="normal" fill="#111" text-anchor="start" textLength="25.6" lengthAdjust="spacingAndGlyphs" stroke="#111" stroke-width="0.45">m1</text>
<text x="834.3" y="647.5" font-size="18.5" font-weight="bold" font-style="normal" fill="#111" text-anchor="start" textLength="27.2" lengthAdjust="spacingAndGlyphs" stroke="#111" stroke-width="0.45">m2</text>
<text transform="translate(622.0,522.0) rotate(-90)" x="0" y="0" font-size="18.5" font-weight="bold" fill="#111" stroke="#111" stroke-width="0.6" text-anchor="middle" textLength="149.0" lengthAdjust="spacingAndGlyphs">Seed weight&#160;&#160;per</text>
<text transform="translate(644.5,523.0) rotate(-90)" x="0" y="0" font-size="18.5" font-weight="bold" fill="#111" stroke="#111" stroke-width="0.6" text-anchor="middle" textLength="73.0" lengthAdjust="spacingAndGlyphs">plant (g)</text>
<text x="61.5" y="875.8" font-size="18" font-weight="bold" font-style="normal" fill="#111" text-anchor="end" textLength="8.8" lengthAdjust="spacingAndGlyphs" stroke="#111" stroke-width="0.45">0</text>
<text x="66.0" y="824.5" font-size="18" font-weight="bold" font-style="normal" fill="#111" text-anchor="end" textLength="29.0" lengthAdjust="spacingAndGlyphs" stroke="#111" stroke-width="0.45">200</text>
<text x="66.0" y="773.0" font-size="18" font-weight="bold" font-style="normal" fill="#111" text-anchor="end" textLength="29.0" lengthAdjust="spacingAndGlyphs" stroke="#111" stroke-width="0.45">400</text>
<text x="66.0" y="721.5" font-size="18" font-weight="bold" font-style="normal" fill="#111" text-anchor="end" textLength="29.0" lengthAdjust="spacingAndGlyphs" stroke="#111" stroke-width="0.45">600</text>
<text x="66.0" y="670.0" font-size="18" font-weight="bold" font-style="normal" fill="#111" text-anchor="end" textLength="29.0" lengthAdjust="spacingAndGlyphs" stroke="#111" stroke-width="0.45">800</text>
<path d="M115.5,743.0 C116.1,744.8 118.1,750.8 118.9,754.0 C119.8,757.3 120.2,760.1 120.4,762.6 C120.7,765.0 118.7,764.3 120.4,768.9 C122.2,773.6 130.4,783.9 131.1,790.6 C131.8,797.4 126.6,803.6 124.7,809.4 C122.8,815.1 120.6,822.7 119.8,825.3 L101.9,825.3 C101.1,822.7 98.9,815.1 97.0,809.4 C95.1,803.6 89.9,797.4 90.6,790.6 C91.3,783.9 99.5,773.6 101.3,768.9 C103.0,764.3 101.0,765.0 101.3,762.6 C101.5,760.1 102.0,757.3 102.8,754.0 C103.6,750.8 105.6,744.8 106.2,743.0Z" fill="none" stroke="#111" stroke-width="1.2"/>
<line x1="99.1" y1="774.3" x2="122.6" y2="774.3" stroke="#111" stroke-width="1.2"/>
<line x1="91.1" y1="791.9" x2="130.6" y2="791.9" stroke="#111" stroke-width="1.2"/>
<line x1="96.4" y1="807.2" x2="125.3" y2="807.2" stroke="#111" stroke-width="1.2"/>
<line x1="106.2" y1="743.0" x2="115.5" y2="743.0" stroke="#111" stroke-width="1.2"/>
<line x1="101.9" y1="825.3" x2="119.8" y2="825.3" stroke="#111" stroke-width="1.2"/>
<circle cx="105.1" cy="743.0" r="2.80" fill="#111" stroke="none" stroke-width="0"/>
<circle cx="105.1" cy="754.0" r="2.80" fill="#111" stroke="none" stroke-width="0"/>
<circle cx="117.2" cy="759.4" r="2.80" fill="#111" stroke="none" stroke-width="0"/>
<circle cx="105.1" cy="763.6" r="2.80" fill="#111" stroke="none" stroke-width="0"/>
<circle cx="105.1" cy="774.9" r="2.80" fill="#111" stroke="none" stroke-width="0"/>
<circle cx="117.2" cy="777.0" r="2.80" fill="#111" stroke="none" stroke-width="0"/>
<circle cx="92.8" cy="783.8" r="2.80" fill="#111" stroke="none" stroke-width="0"/>
<circle cx="117.2" cy="781.7" r="2.80" fill="#111" stroke="none" stroke-width="0"/>
<circle cx="92.8" cy="793.4" r="2.80" fill="#111" stroke="none" stroke-width="0"/>
<circle cx="105.1" cy="795.5" r="2.80" fill="#111" stroke="none" stroke-width="0"/>
<circle cx="117.2" cy="792.3" r="2.80" fill="#111" stroke="none" stroke-width="0"/>
<circle cx="129.4" cy="790.6" r="2.80" fill="#111" stroke="none" stroke-width="0"/>
<circle cx="105.1" cy="801.9" r="2.80" fill="#111" stroke="none" stroke-width="0"/>
<circle cx="117.2" cy="799.8" r="2.80" fill="#111" stroke="none" stroke-width="0"/>
<circle cx="105.1" cy="809.4" r="2.80" fill="#111" stroke="none" stroke-width="0"/>
<circle cx="117.2" cy="807.2" r="2.80" fill="#111" stroke="none" stroke-width="0"/>
<circle cx="117.2" cy="815.7" r="2.80" fill="#111" stroke="none" stroke-width="0"/>
<circle cx="105.1" cy="820.0" r="2.80" fill="#111" stroke="none" stroke-width="0"/>
<circle cx="105.1" cy="825.3" r="2.80" fill="#111" stroke="none" stroke-width="0"/>
<path d="M173.2,790.2 C173.9,790.5 177.1,790.8 177.2,791.9 C177.3,793.0 174.4,793.8 173.8,797.0 C173.3,800.3 173.0,808.0 173.8,811.5 C174.7,815.0 178.3,815.6 178.9,817.9 C179.6,820.2 175.7,823.2 177.9,825.3 C180.0,827.4 189.3,828.3 191.7,830.6 C194.1,832.9 193.4,836.3 192.1,839.1 C190.9,842.0 185.6,846.2 184.3,847.7 L160.9,847.7 C159.5,846.2 154.2,842.0 153.0,839.1 C151.7,836.3 151.0,832.9 153.4,830.6 C155.8,828.3 165.1,827.4 167.2,825.3 C169.4,823.2 165.5,820.2 166.2,817.9 C166.8,815.6 170.4,815.0 171.3,811.5 C172.1,808.0 171.8,800.3 171.3,797.0 C170.7,793.8 167.8,793.0 167.9,791.9 C168.0,790.8 171.2,790.5 171.9,790.2Z" fill="none" stroke="#1a1acc" stroke-width="1.2"/>
<line x1="153.8" y1="830.6" x2="191.3" y2="830.6" stroke="#1a1acc" stroke-width="1.2"/>
<line x1="153.0" y1="836.0" x2="192.1" y2="836.0" stroke="#1a1acc" stroke-width="1.2"/>
<line x1="153.0" y1="841.7" x2="192.1" y2="841.7" stroke="#1a1acc" stroke-width="1.2"/>
<line x1="160.9" y1="847.7" x2="184.3" y2="847.7" stroke="#1a1acc" stroke-width="1.2"/>
<circle cx="168.9" cy="791.9" r="2.80" fill="#1a1acc" stroke="none" stroke-width="0"/>
<circle cx="168.9" cy="813.6" r="2.80" fill="#1a1acc" stroke="none" stroke-width="0"/>
<circle cx="168.9" cy="818.3" r="2.80" fill="#1a1acc" stroke="none" stroke-width="0"/>
<circle cx="176.8" cy="817.9" r="2.80" fill="#1a1acc" stroke="none" stroke-width="0"/>
<circle cx="176.8" cy="827.4" r="2.80" fill="#1a1acc" stroke="none" stroke-width="0"/>
<circle cx="154.5" cy="831.1" r="2.80" fill="#1a1acc" stroke="none" stroke-width="0"/>
<circle cx="168.9" cy="830.6" r="2.80" fill="#1a1acc" stroke="none" stroke-width="0"/>
<circle cx="184.3" cy="831.7" r="2.80" fill="#1a1acc" stroke="none" stroke-width="0"/>
<circle cx="190.6" cy="830.2" r="2.80" fill="#1a1acc" stroke="none" stroke-width="0"/>
<circle cx="161.9" cy="837.0" r="2.80" fill="#1a1acc" stroke="none" stroke-width="0"/>
<circle cx="168.9" cy="836.0" r="2.80" fill="#1a1acc" stroke="none" stroke-width="0"/>
<circle cx="176.8" cy="836.0" r="2.80" fill="#1a1acc" stroke="none" stroke-width="0"/>
<circle cx="184.3" cy="836.0" r="2.80" fill="#1a1acc" stroke="none" stroke-width="0"/>
<circle cx="154.5" cy="841.7" r="2.80" fill="#1a1acc" stroke="none" stroke-width="0"/>
<circle cx="168.9" cy="841.7" r="2.80" fill="#1a1acc" stroke="none" stroke-width="0"/>
<circle cx="176.8" cy="841.3" r="2.80" fill="#1a1acc" stroke="none" stroke-width="0"/>
<circle cx="184.3" cy="840.2" r="2.80" fill="#1a1acc" stroke="none" stroke-width="0"/>
<circle cx="190.6" cy="841.7" r="2.80" fill="#1a1acc" stroke="none" stroke-width="0"/>
<circle cx="161.9" cy="847.7" r="2.80" fill="#1a1acc" stroke="none" stroke-width="0"/>
<circle cx="176.8" cy="846.6" r="2.80" fill="#1a1acc" stroke="none" stroke-width="0"/>
<circle cx="184.3" cy="846.6" r="2.80" fill="#1a1acc" stroke="none" stroke-width="0"/>
<path d="M234.9,724.3 C235.4,725.0 237.7,726.7 237.7,728.5 C237.6,730.3 235.2,728.0 234.7,734.9 C234.2,741.8 234.3,762.1 234.7,770.0 C235.1,777.9 237.2,778.4 237.2,782.3 C237.2,786.2 234.1,790.1 234.7,793.4 C235.2,796.7 238.6,798.2 240.6,801.9 C242.7,805.6 244.7,811.0 247.0,815.7 C249.3,820.5 253.6,826.0 254.5,830.6 C255.4,835.2 255.0,839.7 252.3,843.4 C249.7,847.1 240.8,851.4 238.5,853.0 L230.0,853.0 C227.7,851.4 218.8,847.1 216.2,843.4 C213.5,839.7 213.2,835.2 214.0,830.6 C214.9,826.0 219.2,820.5 221.5,815.7 C223.8,811.0 225.8,805.6 227.9,801.9 C229.9,798.2 233.3,796.7 233.8,793.4 C234.4,790.1 231.3,786.2 231.3,782.3 C231.3,778.4 233.4,777.9 233.8,770.0 C234.3,762.1 234.3,741.8 233.8,734.9 C233.3,728.0 230.9,730.3 230.9,728.5 C230.8,726.7 233.2,725.0 233.6,724.3Z" fill="none" stroke="#e02020" stroke-width="1.2"/>
<line x1="222.6" y1="816.8" x2="246.0" y2="816.8" stroke="#e02020" stroke-width="1.2"/>
<line x1="214.0" y1="830.6" x2="254.5" y2="830.6" stroke="#e02020" stroke-width="1.2"/>
<line x1="214.7" y1="836.0" x2="253.8" y2="836.0" stroke="#e02020" stroke-width="1.2"/>
<line x1="215.5" y1="840.2" x2="253.0" y2="840.2" stroke="#e02020" stroke-width="1.2"/>
<circle cx="234.3" cy="728.5" r="2.80" fill="#e02020" stroke="none" stroke-width="0"/>
<circle cx="234.3" cy="782.3" r="2.80" fill="#e02020" stroke="none" stroke-width="0"/>
<circle cx="234.3" cy="806.2" r="2.80" fill="#e02020" stroke="none" stroke-width="0"/>
<circle cx="234.3" cy="810.4" r="2.80" fill="#e02020" stroke="none" stroke-width="0"/>
<circle cx="223.6" cy="816.8" r="2.80" fill="#e02020" stroke="none" stroke-width="0"/>
<circle cx="223.6" cy="824.7" r="2.80" fill="#e02020" stroke="none" stroke-width="0"/>
<circle cx="234.3" cy="822.1" r="2.80" fill="#e02020" stroke="none" stroke-width="0"/>
<circle cx="244.9" cy="822.6" r="2.80" fill="#e02020" stroke="none" stroke-width="0"/>
<circle cx="223.6" cy="830.6" r="2.80" fill="#e02020" stroke="none" stroke-width="0"/>
<circle cx="234.3" cy="828.5" r="2.80" fill="#e02020" stroke="none" stroke-width="0"/>
<circle cx="244.9" cy="830.6" r="2.80" fill="#e02020" stroke="none" stroke-width="0"/>
<circle cx="223.6" cy="836.0" r="2.80" fill="#e02020" stroke="none" stroke-width="0"/>
<circle cx="234.3" cy="836.0" r="2.80" fill="#e02020" stroke="none" stroke-width="0"/>
<circle cx="244.9" cy="836.0" r="2.80" fill="#e02020" stroke="none" stroke-width="0"/>
<circle cx="223.6" cy="841.7" r="2.80" fill="#e02020" stroke="none" stroke-width="0"/>
<circle cx="234.3" cy="841.3" r="2.80" fill="#e02020" stroke="none" stroke-width="0"/>
<circle cx="244.9" cy="840.2" r="2.80" fill="#e02020" stroke="none" stroke-width="0"/>
<circle cx="234.3" cy="846.6" r="2.80" fill="#e02020" stroke="none" stroke-width="0"/>
<circle cx="234.3" cy="851.9" r="2.80" fill="#e02020" stroke="none" stroke-width="0"/>
<line x1="69.9" y1="662.8" x2="69.9" y2="870.8" stroke="#111" stroke-width="2.2"/>
<line x1="65.4" y1="869.8" x2="69.9" y2="869.8" stroke="#111" stroke-width="2.2"/>
<line x1="65.4" y1="818.3" x2="69.9" y2="818.3" stroke="#111" stroke-width="2.2"/>
<line x1="65.4" y1="766.8" x2="69.9" y2="766.8" stroke="#111" stroke-width="2.2"/>
<line x1="65.4" y1="715.3" x2="69.9" y2="715.3" stroke="#111" stroke-width="2.2"/>
<line x1="65.4" y1="663.8" x2="69.9" y2="663.8" stroke="#111" stroke-width="2.2"/>
<line x1="68.9" y1="869.8" x2="273.3" y2="869.8" stroke="#111" stroke-width="2.2"/>
<line x1="110.3" y1="869.8" x2="110.3" y2="873.8" stroke="#111" stroke-width="1.7600000000000002"/>
<line x1="172.5" y1="869.8" x2="172.5" y2="873.8" stroke="#111" stroke-width="1.7600000000000002"/>
<line x1="234.0" y1="869.8" x2="234.0" y2="873.8" stroke="#111" stroke-width="1.7600000000000002"/>
<path d="M107.0,700.1 L107.0,696.6 L234.8,696.6 L234.8,700.1" fill="none" stroke="#555" stroke-width="1.5"/>
<circle cx="165.0" cy="681.0" r="2.08" fill="#5a5a5a" stroke="none" stroke-width="0"/>
<line x1="165.0" y1="678.1" x2="165.0" y2="683.9" stroke="#5a5a5a" stroke-width="1.0"/>
<line x1="167.5" y1="679.6" x2="162.5" y2="682.4" stroke="#5a5a5a" stroke-width="1.0"/>
<line x1="167.5" y1="682.4" x2="162.5" y2="679.6" stroke="#5a5a5a" stroke-width="1.0"/>
<circle cx="171.0" cy="681.0" r="2.08" fill="#5a5a5a" stroke="none" stroke-width="0"/>
<line x1="171.0" y1="678.1" x2="171.0" y2="683.9" stroke="#5a5a5a" stroke-width="1.0"/>
<line x1="173.5" y1="679.6" x2="168.5" y2="682.4" stroke="#5a5a5a" stroke-width="1.0"/>
<line x1="173.5" y1="682.4" x2="168.5" y2="679.6" stroke="#5a5a5a" stroke-width="1.0"/>
<circle cx="177.0" cy="681.0" r="2.08" fill="#5a5a5a" stroke="none" stroke-width="0"/>
<line x1="177.0" y1="678.1" x2="177.0" y2="683.9" stroke="#5a5a5a" stroke-width="1.0"/>
<line x1="179.5" y1="679.6" x2="174.5" y2="682.4" stroke="#5a5a5a" stroke-width="1.0"/>
<line x1="179.5" y1="682.4" x2="174.5" y2="679.6" stroke="#5a5a5a" stroke-width="1.0"/>
<path d="M107.0,732.7 L107.0,729.2 L168.2,729.2 L168.2,732.7" fill="none" stroke="#555" stroke-width="1.5"/>
<circle cx="131.6" cy="714.3" r="2.08" fill="#5a5a5a" stroke="none" stroke-width="0"/>
<line x1="131.6" y1="711.4" x2="131.6" y2="717.2" stroke="#5a5a5a" stroke-width="1.0"/>
<line x1="134.1" y1="712.9" x2="129.1" y2="715.7" stroke="#5a5a5a" stroke-width="1.0"/>
<line x1="134.1" y1="715.7" x2="129.1" y2="712.9" stroke="#5a5a5a" stroke-width="1.0"/>
<circle cx="137.6" cy="714.3" r="2.08" fill="#5a5a5a" stroke="none" stroke-width="0"/>
<line x1="137.6" y1="711.4" x2="137.6" y2="717.2" stroke="#5a5a5a" stroke-width="1.0"/>
<line x1="140.1" y1="712.9" x2="135.1" y2="715.7" stroke="#5a5a5a" stroke-width="1.0"/>
<line x1="140.1" y1="715.7" x2="135.1" y2="712.9" stroke="#5a5a5a" stroke-width="1.0"/>
<circle cx="143.6" cy="714.3" r="2.08" fill="#5a5a5a" stroke="none" stroke-width="0"/>
<line x1="143.6" y1="711.4" x2="143.6" y2="717.2" stroke="#5a5a5a" stroke-width="1.0"/>
<line x1="146.1" y1="712.9" x2="141.1" y2="715.7" stroke="#5a5a5a" stroke-width="1.0"/>
<line x1="146.1" y1="715.7" x2="141.1" y2="712.9" stroke="#5a5a5a" stroke-width="1.0"/>
<text x="97.4" y="891.5" font-size="18.5" font-weight="bold" font-style="normal" fill="#111" text-anchor="start" textLength="26.5" lengthAdjust="spacingAndGlyphs" stroke="#111" stroke-width="0.45">WT</text>
<text x="159.6" y="891.5" font-size="18.5" font-weight="bold" font-style="normal" fill="#111" text-anchor="start" textLength="24.0" lengthAdjust="spacingAndGlyphs" stroke="#111" stroke-width="0.45">m1</text>
<text x="223.4" y="891.5" font-size="18.5" font-weight="bold" font-style="normal" fill="#111" text-anchor="start" textLength="25.0" lengthAdjust="spacingAndGlyphs" stroke="#111" stroke-width="0.45">m2</text>
<text transform="translate(25.3,754.7) rotate(-90)" x="0" y="0" font-size="19" font-weight="bold" fill="#111" stroke="#111" stroke-width="0.6" text-anchor="middle" textLength="170.0" lengthAdjust="spacingAndGlyphs">RKN galls per plant</text>
<text x="363.6" y="875.6" font-size="18" font-weight="bold" font-style="normal" fill="#111" text-anchor="end" textLength="8.8" lengthAdjust="spacingAndGlyphs" stroke="#111" stroke-width="0.45">0</text>
<text x="369.0" y="840.2" font-size="18" font-weight="bold" font-style="normal" fill="#111" text-anchor="end" textLength="29.5" lengthAdjust="spacingAndGlyphs" stroke="#111" stroke-width="0.45">100</text>
<text x="369.0" y="805.6" font-size="18" font-weight="bold" font-style="normal" fill="#111" text-anchor="end" textLength="29.5" lengthAdjust="spacingAndGlyphs" stroke="#111" stroke-width="0.45">200</text>
<text x="369.0" y="771.0" font-size="18" font-weight="bold" font-style="normal" fill="#111" text-anchor="end" textLength="29.5" lengthAdjust="spacingAndGlyphs" stroke="#111" stroke-width="0.45">300</text>
<text x="369.0" y="736.3" font-size="18" font-weight="bold" font-style="normal" fill="#111" text-anchor="end" textLength="29.5" lengthAdjust="spacingAndGlyphs" stroke="#111" stroke-width="0.45">400</text>
<text x="369.0" y="701.6" font-size="18" font-weight="bold" font-style="normal" fill="#111" text-anchor="end" textLength="29.5" lengthAdjust="spacingAndGlyphs" stroke="#111" stroke-width="0.45">500</text>
<text x="369.0" y="667.0" font-size="18" font-weight="bold" font-style="normal" fill="#111" text-anchor="end" textLength="29.5" lengthAdjust="spacingAndGlyphs" stroke="#111" stroke-width="0.45">600</text>
<path d="M429.8,772.3 C431.1,774.6 437.2,781.4 437.7,786.2 C438.1,791.0 432.7,795.4 432.3,801.1 C432.0,806.7 437.2,814.5 435.7,820.2 C434.3,825.9 425.5,832.6 423.4,835.1 L410.6,835.1 C408.6,832.6 399.8,825.9 398.3,820.2 C396.8,814.5 402.0,806.7 401.7,801.1 C401.4,795.4 396.0,791.0 396.4,786.2 C396.8,781.4 402.9,774.6 404.3,772.3Z" fill="none" stroke="#111" stroke-width="1.2"/>
<line x1="396.4" y1="786.6" x2="437.7" y2="786.6" stroke="#111" stroke-width="1.2"/>
<line x1="401.1" y1="799.4" x2="433.0" y2="799.4" stroke="#111" stroke-width="1.2"/>
<line x1="398.5" y1="819.1" x2="435.5" y2="819.1" stroke="#111" stroke-width="1.2"/>
<line x1="404.3" y1="772.3" x2="429.8" y2="772.3" stroke="#111" stroke-width="1.2"/>
<line x1="410.6" y1="835.1" x2="423.4" y2="835.1" stroke="#111" stroke-width="1.2"/>
<circle cx="410.9" cy="773.4" r="2.80" fill="#111" stroke="none" stroke-width="0"/>
<circle cx="423.0" cy="773.4" r="2.80" fill="#111" stroke="none" stroke-width="0"/>
<circle cx="410.9" cy="780.9" r="2.80" fill="#111" stroke="none" stroke-width="0"/>
<circle cx="423.0" cy="781.5" r="2.80" fill="#111" stroke="none" stroke-width="0"/>
<circle cx="398.5" cy="787.2" r="2.80" fill="#111" stroke="none" stroke-width="0"/>
<circle cx="423.0" cy="787.2" r="2.80" fill="#111" stroke="none" stroke-width="0"/>
<circle cx="434.7" cy="787.2" r="2.80" fill="#111" stroke="none" stroke-width="0"/>
<circle cx="410.9" cy="790.4" r="2.80" fill="#111" stroke="none" stroke-width="0"/>
<circle cx="410.9" cy="797.2" r="2.80" fill="#111" stroke="none" stroke-width="0"/>
<circle cx="423.0" cy="799.4" r="2.80" fill="#111" stroke="none" stroke-width="0"/>
<circle cx="434.7" cy="805.7" r="2.80" fill="#111" stroke="none" stroke-width="0"/>
<circle cx="410.9" cy="810.6" r="2.80" fill="#111" stroke="none" stroke-width="0"/>
<circle cx="423.0" cy="810.0" r="2.80" fill="#111" stroke="none" stroke-width="0"/>
<circle cx="410.9" cy="818.5" r="2.80" fill="#111" stroke="none" stroke-width="0"/>
<circle cx="423.0" cy="820.2" r="2.80" fill="#111" stroke="none" stroke-width="0"/>
<circle cx="434.7" cy="819.8" r="2.80" fill="#111" stroke="none" stroke-width="0"/>
<circle cx="398.5" cy="824.0" r="2.80" fill="#111" stroke="none" stroke-width="0"/>
<circle cx="410.9" cy="826.2" r="2.80" fill="#111" stroke="none" stroke-width="0"/>
<circle cx="410.9" cy="835.1" r="2.80" fill="#111" stroke="none" stroke-width="0"/>
<path d="M479.6,767.0 C480.0,767.3 481.9,767.7 481.9,768.7 C481.9,769.8 480.0,766.2 479.6,773.4 C479.1,780.6 478.6,804.3 479.4,811.7 C480.1,819.1 483.4,815.4 484.3,818.1 C485.1,820.7 483.8,825.0 484.5,827.7 C485.2,830.3 486.4,832.1 488.5,834.0 C490.6,836.0 495.4,837.6 497.0,839.4 C498.7,841.1 499.7,842.7 498.5,844.7 C497.3,846.6 491.4,850.0 490.0,851.1 L467.9,851.1 C466.5,850.0 460.5,846.6 459.4,844.7 C458.2,842.7 459.2,841.1 460.9,839.4 C462.5,837.6 467.3,836.0 469.4,834.0 C471.5,832.1 472.7,830.3 473.4,827.7 C474.1,825.0 472.8,820.7 473.6,818.1 C474.5,815.4 477.7,819.1 478.5,811.7 C479.3,804.3 478.7,780.6 478.3,773.4 C477.9,766.2 476.0,769.8 476.0,768.7 C476.0,767.7 477.9,767.3 478.3,767.0Z" fill="none" stroke="#1a1acc" stroke-width="1.2"/>
<line x1="460.9" y1="838.3" x2="497.0" y2="838.3" stroke="#1a1acc" stroke-width="1.2"/>
<line x1="459.4" y1="844.7" x2="498.5" y2="844.7" stroke="#1a1acc" stroke-width="1.2"/>
<line x1="468.3" y1="851.1" x2="489.6" y2="851.1" stroke="#1a1acc" stroke-width="1.2"/>
<circle cx="482.6" cy="768.7" r="2.80" fill="#1a1acc" stroke="none" stroke-width="0"/>
<circle cx="475.1" cy="817.7" r="2.80" fill="#1a1acc" stroke="none" stroke-width="0"/>
<circle cx="482.6" cy="819.8" r="2.80" fill="#1a1acc" stroke="none" stroke-width="0"/>
<circle cx="475.1" cy="824.5" r="2.80" fill="#1a1acc" stroke="none" stroke-width="0"/>
<circle cx="482.6" cy="828.7" r="2.80" fill="#1a1acc" stroke="none" stroke-width="0"/>
<circle cx="468.3" cy="833.0" r="2.80" fill="#1a1acc" stroke="none" stroke-width="0"/>
<circle cx="490.0" cy="836.2" r="2.80" fill="#1a1acc" stroke="none" stroke-width="0"/>
<circle cx="460.2" cy="839.8" r="2.80" fill="#1a1acc" stroke="none" stroke-width="0"/>
<circle cx="468.3" cy="841.1" r="2.80" fill="#1a1acc" stroke="none" stroke-width="0"/>
<circle cx="475.1" cy="837.7" r="2.80" fill="#1a1acc" stroke="none" stroke-width="0"/>
<circle cx="482.6" cy="836.8" r="2.80" fill="#1a1acc" stroke="none" stroke-width="0"/>
<circle cx="490.0" cy="839.4" r="2.80" fill="#1a1acc" stroke="none" stroke-width="0"/>
<circle cx="497.4" cy="843.6" r="2.80" fill="#1a1acc" stroke="none" stroke-width="0"/>
<circle cx="460.2" cy="845.7" r="2.80" fill="#1a1acc" stroke="none" stroke-width="0"/>
<circle cx="475.1" cy="844.7" r="2.80" fill="#1a1acc" stroke="none" stroke-width="0"/>
<circle cx="482.6" cy="843.6" r="2.80" fill="#1a1acc" stroke="none" stroke-width="0"/>
<circle cx="490.0" cy="843.2" r="2.80" fill="#1a1acc" stroke="none" stroke-width="0"/>
<circle cx="468.3" cy="850.0" r="2.80" fill="#1a1acc" stroke="none" stroke-width="0"/>
<circle cx="482.6" cy="848.9" r="2.80" fill="#1a1acc" stroke="none" stroke-width="0"/>
<circle cx="490.0" cy="848.3" r="2.80" fill="#1a1acc" stroke="none" stroke-width="0"/>
<path d="M542.1,773.8 C542.4,774.3 544.1,775.4 544.0,776.6 C544.0,777.8 542.3,774.1 541.9,780.9 C541.6,787.6 541.5,810.3 541.9,817.0 C542.3,823.8 544.0,819.5 544.5,821.3 C544.9,823.0 544.8,825.7 544.5,827.7 C544.1,829.6 540.2,831.0 542.3,833.0 C544.5,834.9 554.2,836.5 557.4,839.4 C560.7,842.2 562.3,846.6 561.7,850.0 C561.1,853.4 555.1,858.0 553.8,859.6 L529.1,859.6 C527.8,858.0 521.9,853.4 521.3,850.0 C520.7,846.6 522.3,842.2 525.5,839.4 C528.8,836.5 538.5,834.9 540.6,833.0 C542.8,831.0 538.9,829.6 538.5,827.7 C538.2,825.7 538.1,823.0 538.5,821.3 C538.9,819.5 540.6,823.8 541.1,817.0 C541.5,810.3 541.4,787.6 541.1,780.9 C540.7,774.1 539.0,777.8 538.9,776.6 C538.9,775.4 540.5,774.3 540.9,773.8Z" fill="none" stroke="#e02020" stroke-width="1.2"/>
<line x1="522.8" y1="844.7" x2="560.2" y2="844.7" stroke="#e02020" stroke-width="1.2"/>
<line x1="521.3" y1="850.0" x2="561.7" y2="850.0" stroke="#e02020" stroke-width="1.2"/>
<line x1="524.9" y1="855.3" x2="558.1" y2="855.3" stroke="#e02020" stroke-width="1.2"/>
<circle cx="541.5" cy="776.6" r="2.80" fill="#e02020" stroke="none" stroke-width="0"/>
<circle cx="541.5" cy="820.2" r="2.80" fill="#e02020" stroke="none" stroke-width="0"/>
<circle cx="541.5" cy="823.4" r="2.80" fill="#e02020" stroke="none" stroke-width="0"/>
<circle cx="541.5" cy="826.6" r="2.80" fill="#e02020" stroke="none" stroke-width="0"/>
<circle cx="535.7" cy="839.4" r="2.80" fill="#e02020" stroke="none" stroke-width="0"/>
<circle cx="547.4" cy="838.9" r="2.80" fill="#e02020" stroke="none" stroke-width="0"/>
<circle cx="559.1" cy="840.4" r="2.80" fill="#e02020" stroke="none" stroke-width="0"/>
<circle cx="523.0" cy="845.3" r="2.80" fill="#e02020" stroke="none" stroke-width="0"/>
<circle cx="529.4" cy="844.7" r="2.80" fill="#e02020" stroke="none" stroke-width="0"/>
<circle cx="538.9" cy="843.6" r="2.80" fill="#e02020" stroke="none" stroke-width="0"/>
<circle cx="547.4" cy="843.2" r="2.80" fill="#e02020" stroke="none" stroke-width="0"/>
<circle cx="553.8" cy="844.7" r="2.80" fill="#e02020" stroke="none" stroke-width="0"/>
<circle cx="529.4" cy="850.0" r="2.80" fill="#e02020" stroke="none" stroke-width="0"/>
<circle cx="541.5" cy="848.9" r="2.80" fill="#e02020" stroke="none" stroke-width="0"/>
<circle cx="547.4" cy="850.0" r="2.80" fill="#e02020" stroke="none" stroke-width="0"/>
<circle cx="559.1" cy="848.3" r="2.80" fill="#e02020" stroke="none" stroke-width="0"/>
<circle cx="529.4" cy="857.4" r="2.80" fill="#e02020" stroke="none" stroke-width="0"/>
<circle cx="535.7" cy="855.3" r="2.80" fill="#e02020" stroke="none" stroke-width="0"/>
<circle cx="541.5" cy="856.4" r="2.80" fill="#e02020" stroke="none" stroke-width="0"/>
<circle cx="553.8" cy="859.6" r="2.80" fill="#e02020" stroke="none" stroke-width="0"/>
<line x1="375.4" y1="659.7" x2="375.4" y2="869.6" stroke="#111" stroke-width="2.2"/>
<line x1="370.9" y1="868.6" x2="375.4" y2="868.6" stroke="#111" stroke-width="2.2"/>
<line x1="370.9" y1="834.0" x2="375.4" y2="834.0" stroke="#111" stroke-width="2.2"/>
<line x1="370.9" y1="799.3" x2="375.4" y2="799.3" stroke="#111" stroke-width="2.2"/>
<line x1="370.9" y1="764.7" x2="375.4" y2="764.7" stroke="#111" stroke-width="2.2"/>
<line x1="370.9" y1="730.0" x2="375.4" y2="730.0" stroke="#111" stroke-width="2.2"/>
<line x1="370.9" y1="695.4" x2="375.4" y2="695.4" stroke="#111" stroke-width="2.2"/>
<line x1="370.9" y1="660.7" x2="375.4" y2="660.7" stroke="#111" stroke-width="2.2"/>
<line x1="374.4" y1="868.6" x2="581.0" y2="868.6" stroke="#111" stroke-width="2.2"/>
<line x1="416.8" y1="868.6" x2="416.8" y2="872.6" stroke="#111" stroke-width="1.7600000000000002"/>
<line x1="479.0" y1="868.6" x2="479.0" y2="872.6" stroke="#111" stroke-width="1.7600000000000002"/>
<line x1="541.5" y1="868.6" x2="541.5" y2="872.6" stroke="#111" stroke-width="1.7600000000000002"/>
<path d="M413.4,731.4 L413.4,727.9 L538.6,727.9 L538.6,731.4" fill="none" stroke="#555" stroke-width="1.5"/>
<circle cx="470.4" cy="711.5" r="2.08" fill="#5a5a5a" stroke="none" stroke-width="0"/>
<line x1="470.4" y1="708.6" x2="470.4" y2="714.4" stroke="#5a5a5a" stroke-width="1.0"/>
<line x1="472.9" y1="710.1" x2="467.9" y2="712.9" stroke="#5a5a5a" stroke-width="1.0"/>
<line x1="472.9" y1="712.9" x2="467.9" y2="710.1" stroke="#5a5a5a" stroke-width="1.0"/>
<circle cx="476.4" cy="711.5" r="2.08" fill="#5a5a5a" stroke="none" stroke-width="0"/>
<line x1="476.4" y1="708.6" x2="476.4" y2="714.4" stroke="#5a5a5a" stroke-width="1.0"/>
<line x1="478.9" y1="710.1" x2="473.9" y2="712.9" stroke="#5a5a5a" stroke-width="1.0"/>
<line x1="478.9" y1="712.9" x2="473.9" y2="710.1" stroke="#5a5a5a" stroke-width="1.0"/>
<circle cx="482.4" cy="711.5" r="2.08" fill="#5a5a5a" stroke="none" stroke-width="0"/>
<line x1="482.4" y1="708.6" x2="482.4" y2="714.4" stroke="#5a5a5a" stroke-width="1.0"/>
<line x1="484.9" y1="710.1" x2="479.9" y2="712.9" stroke="#5a5a5a" stroke-width="1.0"/>
<line x1="484.9" y1="712.9" x2="479.9" y2="710.1" stroke="#5a5a5a" stroke-width="1.0"/>
<path d="M413.4,760.5 L413.4,757.0 L474.7,757.0 L474.7,760.5" fill="none" stroke="#555" stroke-width="1.5"/>
<circle cx="438.5" cy="740.0" r="2.08" fill="#5a5a5a" stroke="none" stroke-width="0"/>
<line x1="438.5" y1="737.1" x2="438.5" y2="742.9" stroke="#5a5a5a" stroke-width="1.0"/>
<line x1="441.0" y1="738.6" x2="436.0" y2="741.4" stroke="#5a5a5a" stroke-width="1.0"/>
<line x1="441.0" y1="741.4" x2="436.0" y2="738.6" stroke="#5a5a5a" stroke-width="1.0"/>
<circle cx="444.5" cy="740.0" r="2.08" fill="#5a5a5a" stroke="none" stroke-width="0"/>
<line x1="444.5" y1="737.1" x2="444.5" y2="742.9" stroke="#5a5a5a" stroke-width="1.0"/>
<line x1="447.0" y1="738.6" x2="442.0" y2="741.4" stroke="#5a5a5a" stroke-width="1.0"/>
<line x1="447.0" y1="741.4" x2="442.0" y2="738.6" stroke="#5a5a5a" stroke-width="1.0"/>
<circle cx="450.5" cy="740.0" r="2.08" fill="#5a5a5a" stroke="none" stroke-width="0"/>
<line x1="450.5" y1="737.1" x2="450.5" y2="742.9" stroke="#5a5a5a" stroke-width="1.0"/>
<line x1="453.0" y1="738.6" x2="448.0" y2="741.4" stroke="#5a5a5a" stroke-width="1.0"/>
<line x1="453.0" y1="741.4" x2="448.0" y2="738.6" stroke="#5a5a5a" stroke-width="1.0"/>
<text x="403.5" y="891.5" font-size="18.5" font-weight="bold" font-style="normal" fill="#111" text-anchor="start" textLength="28.0" lengthAdjust="spacingAndGlyphs" stroke="#111" stroke-width="0.45">WT</text>
<text x="476.4" y="891.5" font-size="18.5" font-weight="bold" font-style="normal" fill="#111" text-anchor="start" textLength="24.0" lengthAdjust="spacingAndGlyphs" stroke="#111" stroke-width="0.45">m1</text>
<text x="537.0" y="891.5" font-size="18.5" font-weight="bold" font-style="normal" fill="#111" text-anchor="start" textLength="24.0" lengthAdjust="spacingAndGlyphs" stroke="#111" stroke-width="0.45">m2</text>
<text transform="translate(306.0,754.8) rotate(-90)" x="0" y="0" font-size="18.5" font-weight="bold" fill="#111" stroke="#111" stroke-width="0.6" text-anchor="middle" textLength="150.5" lengthAdjust="spacingAndGlyphs">RKN egg masses</text>
<text transform="translate(328.2,754.8) rotate(-90)" x="0" y="0" font-size="18.5" font-weight="bold" fill="#111" stroke="#111" stroke-width="0.6" text-anchor="middle" textLength="80.0" lengthAdjust="spacingAndGlyphs">per plant</text>
<text x="658.0" y="871.4" font-size="18" font-weight="bold" font-style="normal" fill="#111" text-anchor="end" textLength="8.8" lengthAdjust="spacingAndGlyphs" stroke="#111" stroke-width="0.45">0</text>
<text x="664.2" y="822.3" font-size="18" font-weight="bold" font-style="normal" fill="#111" text-anchor="end" textLength="40.5" lengthAdjust="spacingAndGlyphs" stroke="#111" stroke-width="0.45">1000</text>
<text x="664.2" y="772.4" font-size="18" font-weight="bold" font-style="normal" fill="#111" text-anchor="end" textLength="40.5" lengthAdjust="spacingAndGlyphs" stroke="#111" stroke-width="0.45">2000</text>
<text x="664.2" y="722.5" font-size="18" font-weight="bold" font-style="normal" fill="#111" text-anchor="end" textLength="40.5" lengthAdjust="spacingAndGlyphs" stroke="#111" stroke-width="0.45">3000</text>
<text x="664.2" y="672.6" font-size="18" font-weight="bold" font-style="normal" fill="#111" text-anchor="end" textLength="40.5" lengthAdjust="spacingAndGlyphs" stroke="#111" stroke-width="0.45">4000</text>
<path d="M714.9,740.2 C714.8,741.5 714.4,742.9 714.5,747.7 C714.5,752.4 713.3,761.8 715.3,768.9 C717.3,776.0 723.9,782.4 726.4,790.2 C728.8,798.0 729.2,808.1 730.0,815.7 C730.8,823.4 732.1,831.2 731.1,836.0 C730.0,840.7 724.9,843.0 723.6,844.5 L700.2,844.5 C699.0,843.0 693.8,840.7 692.8,836.0 C691.7,831.2 693.0,823.4 693.8,815.7 C694.6,808.1 695.0,798.0 697.4,790.2 C699.9,782.4 706.5,776.0 708.5,768.9 C710.5,761.8 709.3,752.4 709.4,747.7 C709.4,742.9 709.0,741.5 708.9,740.2Z" fill="none" stroke="#111" stroke-width="1.2"/>
<line x1="696.0" y1="793.4" x2="727.9" y2="793.4" stroke="#111" stroke-width="1.2"/>
<line x1="693.8" y1="814.7" x2="730.0" y2="814.7" stroke="#111" stroke-width="1.2"/>
<line x1="692.8" y1="836.0" x2="731.1" y2="836.0" stroke="#111" stroke-width="1.2"/>
<line x1="708.9" y1="740.2" x2="714.9" y2="740.2" stroke="#111" stroke-width="1.2"/>
<line x1="700.2" y1="844.5" x2="723.6" y2="844.5" stroke="#111" stroke-width="1.2"/>
<circle cx="717.9" cy="740.2" r="2.80" fill="#111" stroke="none" stroke-width="0"/>
<circle cx="706.0" cy="766.8" r="2.80" fill="#111" stroke="none" stroke-width="0"/>
<circle cx="717.9" cy="782.1" r="2.80" fill="#111" stroke="none" stroke-width="0"/>
<circle cx="706.0" cy="794.0" r="2.80" fill="#111" stroke="none" stroke-width="0"/>
<circle cx="717.9" cy="794.0" r="2.80" fill="#111" stroke="none" stroke-width="0"/>
<circle cx="706.0" cy="799.8" r="2.80" fill="#111" stroke="none" stroke-width="0"/>
<circle cx="717.9" cy="802.6" r="2.80" fill="#111" stroke="none" stroke-width="0"/>
<circle cx="706.0" cy="808.9" r="2.80" fill="#111" stroke="none" stroke-width="0"/>
<circle cx="717.9" cy="811.5" r="2.80" fill="#111" stroke="none" stroke-width="0"/>
<circle cx="706.0" cy="814.7" r="2.80" fill="#111" stroke="none" stroke-width="0"/>
<circle cx="717.9" cy="817.9" r="2.80" fill="#111" stroke="none" stroke-width="0"/>
<circle cx="706.0" cy="821.1" r="2.80" fill="#111" stroke="none" stroke-width="0"/>
<circle cx="706.0" cy="826.4" r="2.80" fill="#111" stroke="none" stroke-width="0"/>
<circle cx="717.9" cy="829.6" r="2.80" fill="#111" stroke="none" stroke-width="0"/>
<circle cx="693.8" cy="838.1" r="2.80" fill="#111" stroke="none" stroke-width="0"/>
<circle cx="706.0" cy="836.0" r="2.80" fill="#111" stroke="none" stroke-width="0"/>
<circle cx="717.9" cy="838.1" r="2.80" fill="#111" stroke="none" stroke-width="0"/>
<circle cx="729.4" cy="836.0" r="2.80" fill="#111" stroke="none" stroke-width="0"/>
<circle cx="706.0" cy="844.5" r="2.80" fill="#111" stroke="none" stroke-width="0"/>
<path d="M772.6,797.0 C773.2,797.7 775.6,799.1 776.2,800.9 C776.7,802.6 776.3,805.1 775.7,807.2 C775.1,809.4 772.8,811.5 772.6,813.6 C772.3,815.7 772.8,817.2 774.0,820.0 C775.3,822.8 777.6,826.9 780.0,830.6 C782.4,834.4 786.7,838.8 788.5,842.3 C790.3,845.9 791.3,848.9 790.6,851.9 C789.9,854.9 785.3,859.0 784.3,860.4 L758.7,860.4 C757.7,859.0 753.0,854.9 752.3,851.9 C751.6,848.9 752.7,845.9 754.5,842.3 C756.2,838.8 760.6,834.4 763.0,830.6 C765.4,826.9 767.7,822.8 768.9,820.0 C770.2,817.2 770.7,815.7 770.4,813.6 C770.1,811.5 767.8,809.4 767.2,807.2 C766.6,805.1 766.3,802.6 766.8,800.9 C767.3,799.1 769.8,797.7 770.4,797.0Z" fill="none" stroke="#1a1acc" stroke-width="1.2"/>
<line x1="754.5" y1="843.4" x2="788.5" y2="843.4" stroke="#1a1acc" stroke-width="1.2"/>
<line x1="752.8" y1="850.9" x2="790.2" y2="850.9" stroke="#1a1acc" stroke-width="1.2"/>
<line x1="758.3" y1="859.4" x2="784.7" y2="859.4" stroke="#1a1acc" stroke-width="1.2"/>
<circle cx="771.5" cy="800.4" r="2.80" fill="#1a1acc" stroke="none" stroke-width="0"/>
<circle cx="771.5" cy="806.2" r="2.80" fill="#1a1acc" stroke="none" stroke-width="0"/>
<circle cx="771.5" cy="826.4" r="2.80" fill="#1a1acc" stroke="none" stroke-width="0"/>
<circle cx="780.0" cy="823.8" r="2.80" fill="#1a1acc" stroke="none" stroke-width="0"/>
<circle cx="780.0" cy="836.0" r="2.80" fill="#1a1acc" stroke="none" stroke-width="0"/>
<circle cx="771.5" cy="838.1" r="2.80" fill="#1a1acc" stroke="none" stroke-width="0"/>
<circle cx="754.5" cy="846.6" r="2.80" fill="#1a1acc" stroke="none" stroke-width="0"/>
<circle cx="763.0" cy="844.5" r="2.80" fill="#1a1acc" stroke="none" stroke-width="0"/>
<circle cx="771.5" cy="843.4" r="2.80" fill="#1a1acc" stroke="none" stroke-width="0"/>
<circle cx="780.0" cy="842.3" r="2.80" fill="#1a1acc" stroke="none" stroke-width="0"/>
<circle cx="788.5" cy="845.1" r="2.80" fill="#1a1acc" stroke="none" stroke-width="0"/>
<circle cx="754.5" cy="853.0" r="2.80" fill="#1a1acc" stroke="none" stroke-width="0"/>
<circle cx="763.0" cy="854.0" r="2.80" fill="#1a1acc" stroke="none" stroke-width="0"/>
<circle cx="771.5" cy="851.9" r="2.80" fill="#1a1acc" stroke="none" stroke-width="0"/>
<circle cx="780.0" cy="850.9" r="2.80" fill="#1a1acc" stroke="none" stroke-width="0"/>
<circle cx="788.5" cy="853.6" r="2.80" fill="#1a1acc" stroke="none" stroke-width="0"/>
<circle cx="763.0" cy="860.0" r="2.80" fill="#1a1acc" stroke="none" stroke-width="0"/>
<circle cx="771.5" cy="857.2" r="2.80" fill="#1a1acc" stroke="none" stroke-width="0"/>
<circle cx="780.0" cy="857.2" r="2.80" fill="#1a1acc" stroke="none" stroke-width="0"/>
<path d="M832.1,761.5 C832.6,762.0 834.9,762.2 834.9,764.7 C834.9,767.2 832.1,772.5 832.1,776.4 C832.1,780.3 834.9,783.3 834.9,788.1 C834.9,792.9 831.3,799.8 832.1,805.1 C833.0,810.4 837.3,815.9 840.0,820.0 C842.7,824.1 846.1,825.0 848.1,829.6 C850.0,834.2 851.6,842.5 851.7,847.7 C851.8,852.8 850.5,857.4 848.5,860.4 C846.6,863.4 841.4,864.9 840.0,865.7 L823.0,865.7 C821.6,864.9 816.4,863.4 814.5,860.4 C812.5,857.4 811.2,852.8 811.3,847.7 C811.3,842.5 812.9,834.2 814.9,829.6 C816.8,825.0 820.3,824.1 823.0,820.0 C825.6,815.9 830.0,810.4 830.9,805.1 C831.7,799.8 828.1,792.9 828.1,788.1 C828.1,783.3 830.9,780.3 830.9,776.4 C830.9,772.5 828.1,767.2 828.1,764.7 C828.1,762.2 830.4,762.0 830.9,761.5Z" fill="none" stroke="#e02020" stroke-width="1.2"/>
<line x1="814.9" y1="829.6" x2="848.1" y2="829.6" stroke="#e02020" stroke-width="1.2"/>
<line x1="811.9" y1="842.3" x2="851.1" y2="842.3" stroke="#e02020" stroke-width="1.2"/>
<line x1="811.9" y1="855.1" x2="851.1" y2="855.1" stroke="#e02020" stroke-width="1.2"/>
<line x1="814.5" y1="860.4" x2="848.5" y2="860.4" stroke="#e02020" stroke-width="1.2"/>
<circle cx="831.5" cy="764.3" r="2.80" fill="#e02020" stroke="none" stroke-width="0"/>
<circle cx="831.5" cy="788.1" r="2.80" fill="#e02020" stroke="none" stroke-width="0"/>
<circle cx="831.5" cy="817.9" r="2.80" fill="#e02020" stroke="none" stroke-width="0"/>
<circle cx="820.9" cy="829.6" r="2.80" fill="#e02020" stroke="none" stroke-width="0"/>
<circle cx="831.5" cy="832.8" r="2.80" fill="#e02020" stroke="none" stroke-width="0"/>
<circle cx="842.1" cy="826.4" r="2.80" fill="#e02020" stroke="none" stroke-width="0"/>
<circle cx="820.9" cy="841.3" r="2.80" fill="#e02020" stroke="none" stroke-width="0"/>
<circle cx="831.5" cy="841.7" r="2.80" fill="#e02020" stroke="none" stroke-width="0"/>
<circle cx="842.1" cy="841.7" r="2.80" fill="#e02020" stroke="none" stroke-width="0"/>
<circle cx="820.9" cy="846.6" r="2.80" fill="#e02020" stroke="none" stroke-width="0"/>
<circle cx="820.9" cy="849.8" r="2.80" fill="#e02020" stroke="none" stroke-width="0"/>
<circle cx="842.1" cy="847.7" r="2.80" fill="#e02020" stroke="none" stroke-width="0"/>
<circle cx="820.9" cy="856.2" r="2.80" fill="#e02020" stroke="none" stroke-width="0"/>
<circle cx="831.5" cy="856.6" r="2.80" fill="#e02020" stroke="none" stroke-width="0"/>
<circle cx="842.1" cy="854.0" r="2.80" fill="#e02020" stroke="none" stroke-width="0"/>
<circle cx="820.9" cy="861.5" r="2.80" fill="#e02020" stroke="none" stroke-width="0"/>
<circle cx="842.1" cy="860.0" r="2.80" fill="#e02020" stroke="none" stroke-width="0"/>
<circle cx="820.9" cy="864.7" r="2.80" fill="#e02020" stroke="none" stroke-width="0"/>
<line x1="672.1" y1="665.3" x2="672.1" y2="866.9" stroke="#111" stroke-width="2.2"/>
<line x1="667.6" y1="865.9" x2="672.1" y2="865.9" stroke="#111" stroke-width="2.2"/>
<line x1="667.6" y1="816.0" x2="672.1" y2="816.0" stroke="#111" stroke-width="2.2"/>
<line x1="667.6" y1="766.1" x2="672.1" y2="766.1" stroke="#111" stroke-width="2.2"/>
<line x1="667.6" y1="716.2" x2="672.1" y2="716.2" stroke="#111" stroke-width="2.2"/>
<line x1="667.6" y1="666.3" x2="672.1" y2="666.3" stroke="#111" stroke-width="2.2"/>
<line x1="671.1" y1="865.9" x2="873.0" y2="865.9" stroke="#111" stroke-width="2.2"/>
<line x1="711.5" y1="865.9" x2="711.5" y2="869.9" stroke="#111" stroke-width="1.7600000000000002"/>
<line x1="771.5" y1="865.9" x2="771.5" y2="869.9" stroke="#111" stroke-width="1.7600000000000002"/>
<line x1="831.5" y1="865.9" x2="831.5" y2="869.9" stroke="#111" stroke-width="1.7600000000000002"/>
<path d="M708.8,708.0 L708.8,704.5 L832.6,704.5 L832.6,708.0" fill="none" stroke="#555" stroke-width="1.5"/>
<circle cx="766.8" cy="690.0" r="2.08" fill="#5a5a5a" stroke="none" stroke-width="0"/>
<line x1="766.8" y1="687.1" x2="766.8" y2="692.9" stroke="#5a5a5a" stroke-width="1.0"/>
<line x1="769.3" y1="688.6" x2="764.3" y2="691.4" stroke="#5a5a5a" stroke-width="1.0"/>
<line x1="769.3" y1="691.4" x2="764.3" y2="688.6" stroke="#5a5a5a" stroke-width="1.0"/>
<circle cx="772.8" cy="690.0" r="2.08" fill="#5a5a5a" stroke="none" stroke-width="0"/>
<line x1="772.8" y1="687.1" x2="772.8" y2="692.9" stroke="#5a5a5a" stroke-width="1.0"/>
<line x1="775.3" y1="688.6" x2="770.3" y2="691.4" stroke="#5a5a5a" stroke-width="1.0"/>
<line x1="775.3" y1="691.4" x2="770.3" y2="688.6" stroke="#5a5a5a" stroke-width="1.0"/>
<path d="M708.8,734.5 L708.8,731.0 L767.0,731.0 L767.0,734.5" fill="none" stroke="#555" stroke-width="1.5"/>
<circle cx="731.6" cy="717.5" r="2.08" fill="#5a5a5a" stroke="none" stroke-width="0"/>
<line x1="731.6" y1="714.6" x2="731.6" y2="720.4" stroke="#5a5a5a" stroke-width="1.0"/>
<line x1="734.1" y1="716.1" x2="729.1" y2="718.9" stroke="#5a5a5a" stroke-width="1.0"/>
<line x1="734.1" y1="718.9" x2="729.1" y2="716.1" stroke="#5a5a5a" stroke-width="1.0"/>
<circle cx="737.6" cy="717.5" r="2.08" fill="#5a5a5a" stroke="none" stroke-width="0"/>
<line x1="737.6" y1="714.6" x2="737.6" y2="720.4" stroke="#5a5a5a" stroke-width="1.0"/>
<line x1="740.1" y1="716.1" x2="735.1" y2="718.9" stroke="#5a5a5a" stroke-width="1.0"/>
<line x1="740.1" y1="718.9" x2="735.1" y2="716.1" stroke="#5a5a5a" stroke-width="1.0"/>
<circle cx="743.6" cy="717.5" r="2.08" fill="#5a5a5a" stroke="none" stroke-width="0"/>
<line x1="743.6" y1="714.6" x2="743.6" y2="720.4" stroke="#5a5a5a" stroke-width="1.0"/>
<line x1="746.1" y1="716.1" x2="741.1" y2="718.9" stroke="#5a5a5a" stroke-width="1.0"/>
<line x1="746.1" y1="718.9" x2="741.1" y2="716.1" stroke="#5a5a5a" stroke-width="1.0"/>
<text x="700.3" y="889.5" font-size="18.5" font-weight="bold" font-style="normal" fill="#111" text-anchor="start" textLength="28.7" lengthAdjust="spacingAndGlyphs" stroke="#111" stroke-width="0.45">WT</text>
<text x="761.4" y="889.5" font-size="18.5" font-weight="bold" font-style="normal" fill="#111" text-anchor="start" textLength="27.0" lengthAdjust="spacingAndGlyphs" stroke="#111" stroke-width="0.45">m1</text>
<text x="824.0" y="889.5" font-size="18.5" font-weight="bold" font-style="normal" fill="#111" text-anchor="start" textLength="27.3" lengthAdjust="spacingAndGlyphs" stroke="#111" stroke-width="0.45">m2</text>
<text transform="translate(613.3,760.3) rotate(-90)" x="0" y="0" font-size="18.5" font-weight="bold" fill="#111" stroke="#111" stroke-width="0.6" text-anchor="middle" textLength="176.0" lengthAdjust="spacingAndGlyphs">RKN eggs&#160;&#160;per plant</text>
<rect x="0.75" y="0.75" width="891" height="891" fill="none" stroke="#15202b" stroke-width="1.6"/>
<line x1="891.9" y1="0.0" x2="891.9" y2="893.0" stroke="#15202b" stroke-width="2.4"/>
<line x1="0.0" y1="891.9" x2="893.0" y2="891.9" stroke="#15202b" stroke-width="2.4"/>
</svg></body></html>
